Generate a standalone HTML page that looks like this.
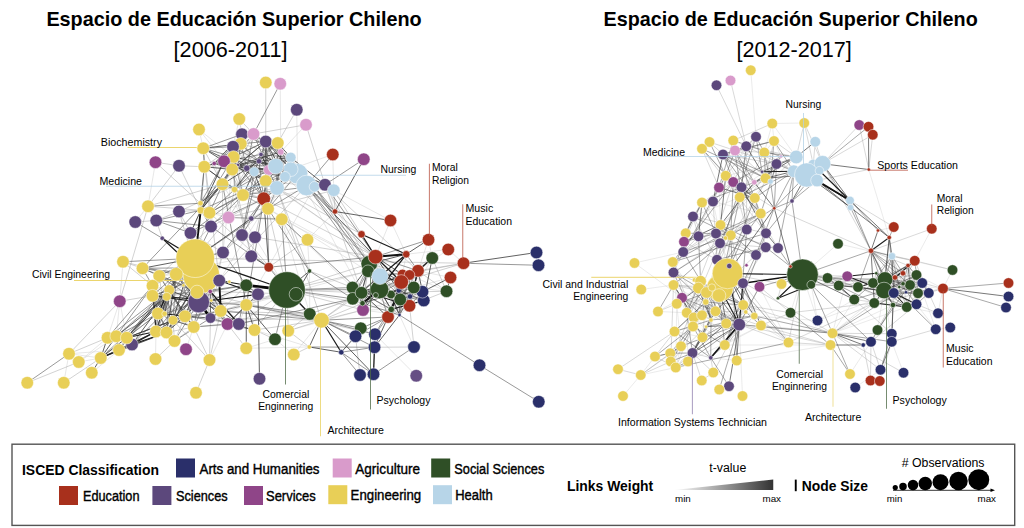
<!DOCTYPE html>
<html lang="es"><head><meta charset="utf-8"><title>Espacio de Educación Superior Chileno</title>
<style>
html,body{margin:0;padding:0;background:#fff;}
body{width:1024px;height:528px;overflow:hidden;font-family:"Liberation Sans",sans-serif;}
svg{display:block;}
svg text{font-family:"Liberation Sans",sans-serif;fill:#000;}
.nodes circle{stroke:#fff;stroke-width:0.5;}
.edges line{stroke-linecap:round;}
</style></head><body>
<svg width="1024" height="528" viewBox="0 0 1024 528">
<rect width="1024" height="528" fill="#fff"/>
<g class="edges" id="edges-left">
<line x1="63.75" y1="382.75" x2="69" y2="353.75" stroke="#cacaca" stroke-width="0.45"/>
<line x1="91.75" y1="372.75" x2="119" y2="350" stroke="#cacaca" stroke-width="0.45"/>
<line x1="69" y1="353.75" x2="100.75" y2="358" stroke="#cacaca" stroke-width="0.45"/>
<line x1="69" y1="353.75" x2="119" y2="350" stroke="#cacaca" stroke-width="0.45"/>
<line x1="78.75" y1="362" x2="100.75" y2="358" stroke="#cacaca" stroke-width="0.45"/>
<line x1="78.75" y1="362" x2="107.5" y2="337.75" stroke="#cacaca" stroke-width="0.45"/>
<line x1="78.75" y1="362" x2="116.25" y2="336.25" stroke="#cacaca" stroke-width="0.45"/>
<line x1="119.75" y1="301.25" x2="116.25" y2="336.25" stroke="#cacaca" stroke-width="0.45"/>
<line x1="119.75" y1="301.25" x2="126.75" y2="337.75" stroke="#cacaca" stroke-width="0.45"/>
<line x1="119.75" y1="301.25" x2="107.5" y2="337.75" stroke="#cacaca" stroke-width="0.45"/>
<line x1="119.75" y1="301.25" x2="123" y2="261.75" stroke="#cacaca" stroke-width="0.45"/>
<line x1="155.5" y1="359" x2="156" y2="331.5" stroke="#cacaca" stroke-width="0.45"/>
<line x1="186" y1="349.25" x2="193.75" y2="327" stroke="#cacaca" stroke-width="0.45"/>
<line x1="209.5" y1="360" x2="227.5" y2="324" stroke="#cacaca" stroke-width="0.45"/>
<line x1="246.25" y1="348.25" x2="309.25" y2="347" stroke="#cacaca" stroke-width="0.45"/>
<line x1="280.25" y1="83.75" x2="280.75" y2="152" stroke="#cacaca" stroke-width="0.45"/>
<line x1="296.75" y1="109.75" x2="297.5" y2="173.75" stroke="#cacaca" stroke-width="0.45"/>
<line x1="306" y1="124.75" x2="280.75" y2="152" stroke="#cacaca" stroke-width="0.45"/>
<line x1="239.25" y1="119" x2="233" y2="146.75" stroke="#cacaca" stroke-width="0.45"/>
<line x1="199" y1="129.5" x2="203.25" y2="148.25" stroke="#cacaca" stroke-width="0.45"/>
<line x1="199" y1="129.5" x2="224" y2="161.25" stroke="#cacaca" stroke-width="0.45"/>
<line x1="199" y1="129.5" x2="233.5" y2="157" stroke="#cacaca" stroke-width="0.45"/>
<line x1="155.5" y1="162.25" x2="148" y2="206.25" stroke="#cacaca" stroke-width="0.45"/>
<line x1="148" y1="206.25" x2="156.25" y2="220.5" stroke="#cacaca" stroke-width="0.45"/>
<line x1="148" y1="206.25" x2="135.25" y2="222" stroke="#cacaca" stroke-width="0.45"/>
<line x1="332.75" y1="154.5" x2="333.75" y2="190.25" stroke="#cacaca" stroke-width="0.45"/>
<line x1="332.75" y1="154.5" x2="290.75" y2="169.25" stroke="#cacaca" stroke-width="0.45"/>
<line x1="390.5" y1="220.5" x2="406.25" y2="254.25" stroke="#cacaca" stroke-width="0.45"/>
<line x1="390.5" y1="220.5" x2="375.5" y2="256.75" stroke="#cacaca" stroke-width="0.45"/>
<line x1="333.75" y1="190.25" x2="390.5" y2="220.5" stroke="#cacaca" stroke-width="0.45"/>
<line x1="325" y1="184.75" x2="335" y2="211.5" stroke="#cacaca" stroke-width="0.45"/>
<line x1="307.5" y1="239.75" x2="335" y2="211.5" stroke="#cacaca" stroke-width="0.45"/>
<line x1="463.5" y1="263.25" x2="448.25" y2="249.5" stroke="#cacaca" stroke-width="0.45"/>
<line x1="428.5" y1="239.75" x2="432.25" y2="258" stroke="#cacaca" stroke-width="0.45"/>
<line x1="428.5" y1="239.75" x2="418" y2="270.75" stroke="#cacaca" stroke-width="0.45"/>
<line x1="448.25" y1="249.5" x2="418" y2="270.75" stroke="#cacaca" stroke-width="0.45"/>
<line x1="448.25" y1="249.5" x2="406.25" y2="254.25" stroke="#cacaca" stroke-width="0.45"/>
<line x1="450.5" y1="277.5" x2="418" y2="270.75" stroke="#cacaca" stroke-width="0.45"/>
<line x1="450.5" y1="277.5" x2="413.75" y2="287.5" stroke="#cacaca" stroke-width="0.45"/>
<line x1="446.5" y1="291.25" x2="413.75" y2="287.5" stroke="#cacaca" stroke-width="0.45"/>
<line x1="309.5" y1="271" x2="309.75" y2="314" stroke="#cacaca" stroke-width="0.45"/>
<line x1="307.5" y1="239.75" x2="309.5" y2="271" stroke="#cacaca" stroke-width="0.45"/>
<line x1="399.5" y1="315" x2="414" y2="347" stroke="#cacaca" stroke-width="0.45"/>
<line x1="375" y1="334.25" x2="416.25" y2="375.75" stroke="#cacaca" stroke-width="0.45"/>
<line x1="254.5" y1="330" x2="309.25" y2="347" stroke="#cacaca" stroke-width="0.45"/>
<line x1="242" y1="134.25" x2="265.75" y2="141.5" stroke="#cacaca" stroke-width="0.45"/>
<line x1="242" y1="134.25" x2="261" y2="154.5" stroke="#cacaca" stroke-width="0.45"/>
<line x1="242" y1="134.25" x2="233.5" y2="157" stroke="#cacaca" stroke-width="0.45"/>
<line x1="253.5" y1="134" x2="265.75" y2="141.5" stroke="#cacaca" stroke-width="0.45"/>
<line x1="265.75" y1="141.5" x2="261" y2="154.5" stroke="#cacaca" stroke-width="0.45"/>
<line x1="277.75" y1="143" x2="275.75" y2="166.25" stroke="#cacaca" stroke-width="0.45"/>
<line x1="233" y1="146.75" x2="268.75" y2="170" stroke="#cacaca" stroke-width="0.45"/>
<line x1="233" y1="146.75" x2="238" y2="165" stroke="#cacaca" stroke-width="0.45"/>
<line x1="233" y1="146.75" x2="254.25" y2="171.75" stroke="#cacaca" stroke-width="0.45"/>
<line x1="233" y1="146.75" x2="265.75" y2="181" stroke="#cacaca" stroke-width="0.45"/>
<line x1="280.75" y1="152" x2="290.75" y2="157.5" stroke="#cacaca" stroke-width="0.45"/>
<line x1="280.75" y1="152" x2="254.25" y2="171.75" stroke="#cacaca" stroke-width="0.45"/>
<line x1="280.75" y1="152" x2="306.5" y2="185.5" stroke="#cacaca" stroke-width="0.45"/>
<line x1="261" y1="154.5" x2="243" y2="195" stroke="#cacaca" stroke-width="0.45"/>
<line x1="214.25" y1="163.5" x2="222.5" y2="184.25" stroke="#cacaca" stroke-width="0.45"/>
<line x1="290.75" y1="157.5" x2="246.75" y2="168.25" stroke="#cacaca" stroke-width="0.45"/>
<line x1="290.75" y1="169.25" x2="254.25" y2="171.75" stroke="#cacaca" stroke-width="0.45"/>
<line x1="297.5" y1="173.75" x2="277" y2="188" stroke="#cacaca" stroke-width="0.45"/>
<line x1="285" y1="176.75" x2="268" y2="208.75" stroke="#cacaca" stroke-width="0.45"/>
<line x1="285" y1="176.75" x2="314.5" y2="186.75" stroke="#cacaca" stroke-width="0.45"/>
<line x1="268.75" y1="170" x2="306.5" y2="185.5" stroke="#cacaca" stroke-width="0.45"/>
<line x1="246.75" y1="168.25" x2="254.25" y2="171.75" stroke="#cacaca" stroke-width="0.45"/>
<line x1="246.75" y1="168.25" x2="232.25" y2="169.5" stroke="#cacaca" stroke-width="0.45"/>
<line x1="238" y1="165" x2="232.25" y2="169.5" stroke="#cacaca" stroke-width="0.45"/>
<line x1="254.25" y1="171.75" x2="265.75" y2="181" stroke="#cacaca" stroke-width="0.45"/>
<line x1="306.5" y1="185.5" x2="325" y2="184.75" stroke="#cacaca" stroke-width="0.45"/>
<line x1="201.25" y1="275" x2="183.5" y2="285.25" stroke="#cacaca" stroke-width="0.45"/>
<line x1="201.25" y1="275" x2="210.5" y2="318" stroke="#cacaca" stroke-width="0.45"/>
<line x1="176.25" y1="274.25" x2="159.25" y2="276" stroke="#cacaca" stroke-width="0.45"/>
<line x1="176.25" y1="274.25" x2="190.5" y2="233" stroke="#cacaca" stroke-width="0.45"/>
<line x1="152.5" y1="285.75" x2="169.25" y2="290" stroke="#cacaca" stroke-width="0.45"/>
<line x1="152.5" y1="285.75" x2="198.75" y2="302" stroke="#cacaca" stroke-width="0.45"/>
<line x1="169.25" y1="290" x2="211.25" y2="300.5" stroke="#cacaca" stroke-width="0.45"/>
<line x1="152.5" y1="295.75" x2="183.5" y2="285.25" stroke="#cacaca" stroke-width="0.45"/>
<line x1="166.75" y1="296.75" x2="198.75" y2="302" stroke="#cacaca" stroke-width="0.45"/>
<line x1="166.75" y1="296.75" x2="185" y2="316.25" stroke="#cacaca" stroke-width="0.45"/>
<line x1="197" y1="292" x2="158" y2="313.5" stroke="#cacaca" stroke-width="0.45"/>
<line x1="198.75" y1="302" x2="227.5" y2="324" stroke="#cacaca" stroke-width="0.45"/>
<line x1="219.25" y1="280.5" x2="183.5" y2="285.25" stroke="#cacaca" stroke-width="0.45"/>
<line x1="210.25" y1="291.5" x2="185" y2="316.25" stroke="#cacaca" stroke-width="0.45"/>
<line x1="210.25" y1="291.5" x2="227.5" y2="324" stroke="#cacaca" stroke-width="0.45"/>
<line x1="210.25" y1="291.5" x2="223" y2="252.5" stroke="#cacaca" stroke-width="0.45"/>
<line x1="183.5" y1="285.25" x2="185" y2="316.25" stroke="#cacaca" stroke-width="0.45"/>
<line x1="164.5" y1="313.75" x2="173" y2="320.25" stroke="#cacaca" stroke-width="0.45"/>
<line x1="164.5" y1="313.75" x2="174.5" y2="341" stroke="#cacaca" stroke-width="0.45"/>
<line x1="210.5" y1="318" x2="227.5" y2="324" stroke="#cacaca" stroke-width="0.45"/>
<line x1="210.5" y1="318" x2="246.25" y2="305" stroke="#cacaca" stroke-width="0.45"/>
<line x1="156" y1="331.5" x2="166.5" y2="332.5" stroke="#cacaca" stroke-width="0.45"/>
<line x1="238.75" y1="324" x2="246.25" y2="305" stroke="#cacaca" stroke-width="0.45"/>
<line x1="246.25" y1="285.25" x2="254.5" y2="330" stroke="#cacaca" stroke-width="0.45"/>
<line x1="368" y1="271.25" x2="409.5" y2="275" stroke="#cacaca" stroke-width="0.45"/>
<line x1="368" y1="271.25" x2="401.25" y2="282" stroke="#cacaca" stroke-width="0.45"/>
<line x1="368" y1="271.25" x2="398.75" y2="290.5" stroke="#cacaca" stroke-width="0.45"/>
<line x1="368" y1="271.25" x2="362.5" y2="303.2" stroke="#cacaca" stroke-width="0.45"/>
<line x1="402.5" y1="274.5" x2="375.75" y2="295.25" stroke="#cacaca" stroke-width="0.45"/>
<line x1="402.5" y1="274.5" x2="409.5" y2="305.75" stroke="#cacaca" stroke-width="0.45"/>
<line x1="402.5" y1="274.5" x2="423.75" y2="300.5" stroke="#cacaca" stroke-width="0.45"/>
<line x1="402.5" y1="274.5" x2="406.25" y2="254.25" stroke="#cacaca" stroke-width="0.45"/>
<line x1="409.5" y1="275" x2="413.75" y2="287.5" stroke="#cacaca" stroke-width="0.45"/>
<line x1="409.5" y1="275" x2="398.75" y2="290.5" stroke="#cacaca" stroke-width="0.45"/>
<line x1="409.5" y1="275" x2="422.5" y2="291.75" stroke="#cacaca" stroke-width="0.45"/>
<line x1="409.5" y1="275" x2="423.75" y2="300.5" stroke="#cacaca" stroke-width="0.45"/>
<line x1="409.5" y1="275" x2="432.25" y2="258" stroke="#cacaca" stroke-width="0.45"/>
<line x1="409.5" y1="275" x2="446.5" y2="291.25" stroke="#cacaca" stroke-width="0.45"/>
<line x1="401.25" y1="282" x2="410" y2="296.5" stroke="#cacaca" stroke-width="0.45"/>
<line x1="401.25" y1="282" x2="432.25" y2="258" stroke="#cacaca" stroke-width="0.45"/>
<line x1="352.75" y1="298.75" x2="361.5" y2="292.75" stroke="#cacaca" stroke-width="0.45"/>
<line x1="352.75" y1="298.75" x2="363" y2="310" stroke="#cacaca" stroke-width="0.45"/>
<line x1="352.75" y1="298.75" x2="391.25" y2="309.4" stroke="#cacaca" stroke-width="0.45"/>
<line x1="361.5" y1="292.75" x2="400.25" y2="299.5" stroke="#cacaca" stroke-width="0.45"/>
<line x1="379.5" y1="289.5" x2="400.25" y2="299.5" stroke="#cacaca" stroke-width="0.45"/>
<line x1="398.75" y1="290.5" x2="391" y2="294.5" stroke="#cacaca" stroke-width="0.45"/>
<line x1="409.5" y1="305.75" x2="423.75" y2="300.5" stroke="#cacaca" stroke-width="0.45"/>
<line x1="409.5" y1="305.75" x2="399.5" y2="315" stroke="#cacaca" stroke-width="0.45"/>
<line x1="410" y1="296.5" x2="432.25" y2="258" stroke="#cacaca" stroke-width="0.45"/>
<line x1="422.5" y1="291.75" x2="388" y2="317" stroke="#cacaca" stroke-width="0.45"/>
<line x1="422.5" y1="291.75" x2="391.25" y2="309.4" stroke="#cacaca" stroke-width="0.45"/>
<line x1="388" y1="317" x2="391.25" y2="309.4" stroke="#cacaca" stroke-width="0.45"/>
<line x1="363" y1="310" x2="391.25" y2="309.4" stroke="#cacaca" stroke-width="0.45"/>
<line x1="363" y1="310" x2="399.5" y2="315" stroke="#cacaca" stroke-width="0.45"/>
<line x1="228.5" y1="217.5" x2="209.5" y2="212.75" stroke="#cacaca" stroke-width="0.45"/>
<line x1="281.75" y1="219.25" x2="309.75" y2="314" stroke="#cacaca" stroke-width="0.45"/>
<line x1="268" y1="208.75" x2="369.25" y2="263.75" stroke="#cacaca" stroke-width="0.45"/>
<line x1="281.75" y1="219.25" x2="369.25" y2="263.75" stroke="#cacaca" stroke-width="0.45"/>
<line x1="265.75" y1="181" x2="375.5" y2="256.75" stroke="#cacaca" stroke-width="0.45"/>
<line x1="246.25" y1="348.25" x2="275" y2="339.25" stroke="#cacaca" stroke-width="0.45"/>
<line x1="293.75" y1="354.5" x2="321.5" y2="320.25" stroke="#cacaca" stroke-width="0.45"/>
<line x1="293.75" y1="354.5" x2="275" y2="339.25" stroke="#cacaca" stroke-width="0.45"/>
<line x1="233" y1="146.75" x2="333.75" y2="190.25" stroke="#cacaca" stroke-width="0.45"/>
<line x1="233.5" y1="157" x2="223" y2="252.5" stroke="#cacaca" stroke-width="0.45"/>
<line x1="297.5" y1="173.75" x2="223" y2="252.5" stroke="#cacaca" stroke-width="0.45"/>
<line x1="297.5" y1="173.75" x2="361.5" y2="292.75" stroke="#cacaca" stroke-width="0.45"/>
<line x1="222.5" y1="184.25" x2="287" y2="290" stroke="#cacaca" stroke-width="0.45"/>
<line x1="314.5" y1="186.75" x2="246.25" y2="305" stroke="#cacaca" stroke-width="0.45"/>
<line x1="314.5" y1="186.75" x2="368" y2="271.25" stroke="#cacaca" stroke-width="0.45"/>
<line x1="325" y1="184.75" x2="209.5" y2="212.75" stroke="#cacaca" stroke-width="0.45"/>
<line x1="325" y1="184.75" x2="368" y2="271.25" stroke="#cacaca" stroke-width="0.45"/>
<line x1="277" y1="188" x2="219.25" y2="280.5" stroke="#cacaca" stroke-width="0.45"/>
<line x1="268" y1="208.75" x2="368" y2="271.25" stroke="#cacaca" stroke-width="0.45"/>
<line x1="281.75" y1="219.25" x2="209.5" y2="212.75" stroke="#cacaca" stroke-width="0.45"/>
<line x1="281.75" y1="219.25" x2="352.5" y2="287.5" stroke="#cacaca" stroke-width="0.45"/>
<line x1="251.25" y1="256.25" x2="159.25" y2="276" stroke="#cacaca" stroke-width="0.45"/>
<line x1="152.5" y1="285.75" x2="210.5" y2="318" stroke="#cacaca" stroke-width="0.45"/>
<line x1="166.75" y1="296.75" x2="246.25" y2="285.25" stroke="#cacaca" stroke-width="0.45"/>
<line x1="197" y1="292" x2="254.5" y2="330" stroke="#cacaca" stroke-width="0.45"/>
<line x1="246.25" y1="285.25" x2="185" y2="316.25" stroke="#cacaca" stroke-width="0.45"/>
<line x1="246.25" y1="305" x2="368" y2="271.25" stroke="#cacaca" stroke-width="0.45"/>
<line x1="309.75" y1="314" x2="379.5" y2="289.5" stroke="#cacaca" stroke-width="0.45"/>
<line x1="288.25" y1="330.75" x2="400.25" y2="299.5" stroke="#cacaca" stroke-width="0.45"/>
<line x1="27.25" y1="382.75" x2="78.75" y2="362" stroke="#a4a4a4" stroke-width="0.5"/>
<line x1="63.75" y1="382.75" x2="100.75" y2="358" stroke="#a4a4a4" stroke-width="0.5"/>
<line x1="69" y1="353.75" x2="119.75" y2="301.25" stroke="#a4a4a4" stroke-width="0.5"/>
<line x1="69" y1="353.75" x2="107.5" y2="337.75" stroke="#a4a4a4" stroke-width="0.5"/>
<line x1="119.75" y1="301.25" x2="152.5" y2="295.75" stroke="#a4a4a4" stroke-width="0.5"/>
<line x1="155.5" y1="359" x2="174.5" y2="341" stroke="#a4a4a4" stroke-width="0.5"/>
<line x1="174.5" y1="341" x2="193.75" y2="327" stroke="#a4a4a4" stroke-width="0.5"/>
<line x1="209.5" y1="360" x2="173" y2="320.25" stroke="#a4a4a4" stroke-width="0.5"/>
<line x1="209.5" y1="360" x2="210.5" y2="318" stroke="#a4a4a4" stroke-width="0.5"/>
<line x1="209.5" y1="360" x2="220.75" y2="311" stroke="#a4a4a4" stroke-width="0.5"/>
<line x1="196" y1="392.75" x2="209.5" y2="360" stroke="#a4a4a4" stroke-width="0.5"/>
<line x1="193.75" y1="327" x2="238.75" y2="324" stroke="#a4a4a4" stroke-width="0.5"/>
<line x1="246.25" y1="348.25" x2="227.5" y2="324" stroke="#a4a4a4" stroke-width="0.5"/>
<line x1="288.25" y1="330.75" x2="321.5" y2="320.25" stroke="#a4a4a4" stroke-width="0.5"/>
<line x1="288.25" y1="330.75" x2="309.25" y2="347" stroke="#a4a4a4" stroke-width="0.5"/>
<line x1="293.75" y1="354.5" x2="309.25" y2="347" stroke="#a4a4a4" stroke-width="0.5"/>
<line x1="100.75" y1="358" x2="158" y2="313.5" stroke="#a4a4a4" stroke-width="0.5"/>
<line x1="123" y1="261.75" x2="142.5" y2="268.25" stroke="#a4a4a4" stroke-width="0.5"/>
<line x1="123" y1="261.75" x2="152.5" y2="285.75" stroke="#a4a4a4" stroke-width="0.5"/>
<line x1="265.75" y1="82.5" x2="265.75" y2="141.5" stroke="#a4a4a4" stroke-width="0.5"/>
<line x1="296.75" y1="109.75" x2="277.75" y2="143" stroke="#a4a4a4" stroke-width="0.5"/>
<line x1="253.5" y1="134" x2="306" y2="124.75" stroke="#a4a4a4" stroke-width="0.5"/>
<line x1="239.25" y1="119" x2="242" y2="134.25" stroke="#a4a4a4" stroke-width="0.5"/>
<line x1="239.25" y1="119" x2="253.5" y2="134" stroke="#a4a4a4" stroke-width="0.5"/>
<line x1="155.5" y1="162.25" x2="179" y2="165.75" stroke="#a4a4a4" stroke-width="0.5"/>
<line x1="179" y1="165.75" x2="204.25" y2="166.75" stroke="#a4a4a4" stroke-width="0.5"/>
<line x1="155.5" y1="162.25" x2="200.5" y2="203.25" stroke="#a4a4a4" stroke-width="0.5"/>
<line x1="179" y1="165.75" x2="148" y2="206.25" stroke="#a4a4a4" stroke-width="0.5"/>
<line x1="179" y1="165.75" x2="200.75" y2="210.25" stroke="#a4a4a4" stroke-width="0.5"/>
<line x1="148" y1="206.25" x2="222.5" y2="184.25" stroke="#a4a4a4" stroke-width="0.5"/>
<line x1="148" y1="206.25" x2="200.75" y2="210.25" stroke="#a4a4a4" stroke-width="0.5"/>
<line x1="179" y1="211.5" x2="200.75" y2="210.25" stroke="#a4a4a4" stroke-width="0.5"/>
<line x1="179" y1="211.5" x2="156.25" y2="220.5" stroke="#a4a4a4" stroke-width="0.5"/>
<line x1="228.5" y1="217.5" x2="243" y2="195" stroke="#a4a4a4" stroke-width="0.5"/>
<line x1="306" y1="124.75" x2="325" y2="184.75" stroke="#a4a4a4" stroke-width="0.5"/>
<line x1="277" y1="188" x2="321.5" y2="320.25" stroke="#a4a4a4" stroke-width="0.5"/>
<line x1="263.75" y1="198.75" x2="375.5" y2="256.75" stroke="#a4a4a4" stroke-width="0.5"/>
<line x1="463.5" y1="263.25" x2="418" y2="270.75" stroke="#a4a4a4" stroke-width="0.5"/>
<line x1="463.5" y1="263.25" x2="401.25" y2="282" stroke="#a4a4a4" stroke-width="0.5"/>
<line x1="463.5" y1="263.25" x2="402.5" y2="274.5" stroke="#a4a4a4" stroke-width="0.5"/>
<line x1="463.5" y1="263.25" x2="195.25" y2="258.25" stroke="#a4a4a4" stroke-width="0.5"/>
<line x1="446.5" y1="291.25" x2="418" y2="270.75" stroke="#a4a4a4" stroke-width="0.5"/>
<line x1="422.5" y1="291.75" x2="446.5" y2="291.25" stroke="#a4a4a4" stroke-width="0.5"/>
<line x1="309.5" y1="271" x2="352.5" y2="287.5" stroke="#a4a4a4" stroke-width="0.5"/>
<line x1="287" y1="290" x2="361.5" y2="292.75" stroke="#a4a4a4" stroke-width="0.5"/>
<line x1="287" y1="290" x2="368" y2="271.25" stroke="#a4a4a4" stroke-width="0.5"/>
<line x1="287" y1="290" x2="369.25" y2="263.75" stroke="#a4a4a4" stroke-width="0.5"/>
<line x1="287" y1="290" x2="362.5" y2="303.2" stroke="#a4a4a4" stroke-width="0.5"/>
<line x1="287" y1="290" x2="363" y2="310" stroke="#a4a4a4" stroke-width="0.5"/>
<line x1="277" y1="188" x2="309.5" y2="271" stroke="#a4a4a4" stroke-width="0.5"/>
<line x1="409.5" y1="305.75" x2="414" y2="347" stroke="#a4a4a4" stroke-width="0.5"/>
<line x1="414" y1="347" x2="374.5" y2="347.25" stroke="#a4a4a4" stroke-width="0.5"/>
<line x1="309.75" y1="314" x2="352.75" y2="298.75" stroke="#a4a4a4" stroke-width="0.5"/>
<line x1="321.5" y1="320.25" x2="352.75" y2="298.75" stroke="#a4a4a4" stroke-width="0.5"/>
<line x1="321.5" y1="320.25" x2="363" y2="310" stroke="#a4a4a4" stroke-width="0.5"/>
<line x1="321.5" y1="320.25" x2="362.5" y2="303.2" stroke="#a4a4a4" stroke-width="0.5"/>
<line x1="254.5" y1="330" x2="321.5" y2="320.25" stroke="#a4a4a4" stroke-width="0.5"/>
<line x1="288.25" y1="330.75" x2="287" y2="290" stroke="#a4a4a4" stroke-width="0.5"/>
<line x1="360" y1="375" x2="355.5" y2="336.25" stroke="#a4a4a4" stroke-width="0.5"/>
<line x1="373.5" y1="374.25" x2="375" y2="334.25" stroke="#a4a4a4" stroke-width="0.5"/>
<line x1="179" y1="211.5" x2="190.5" y2="233" stroke="#a4a4a4" stroke-width="0.5"/>
<line x1="123" y1="261.75" x2="176.25" y2="274.25" stroke="#a4a4a4" stroke-width="0.5"/>
<line x1="242" y1="235" x2="223" y2="252.5" stroke="#a4a4a4" stroke-width="0.5"/>
<line x1="255" y1="237.25" x2="251.25" y2="256.25" stroke="#a4a4a4" stroke-width="0.5"/>
<line x1="228.5" y1="217.5" x2="234.5" y2="189.5" stroke="#a4a4a4" stroke-width="0.5"/>
<line x1="156.25" y1="220.5" x2="162.25" y2="238.25" stroke="#a4a4a4" stroke-width="0.5"/>
<line x1="135.25" y1="222" x2="156.25" y2="220.5" stroke="#a4a4a4" stroke-width="0.5"/>
<line x1="242" y1="134.25" x2="253.5" y2="134" stroke="#a4a4a4" stroke-width="0.5"/>
<line x1="242" y1="134.25" x2="254.25" y2="171.75" stroke="#a4a4a4" stroke-width="0.5"/>
<line x1="253.5" y1="134" x2="238" y2="165" stroke="#a4a4a4" stroke-width="0.5"/>
<line x1="265.75" y1="141.5" x2="254.25" y2="171.75" stroke="#a4a4a4" stroke-width="0.5"/>
<line x1="277.75" y1="143" x2="290.75" y2="169.25" stroke="#a4a4a4" stroke-width="0.5"/>
<line x1="277.75" y1="143" x2="297.5" y2="173.75" stroke="#a4a4a4" stroke-width="0.5"/>
<line x1="277.75" y1="143" x2="268.75" y2="170" stroke="#a4a4a4" stroke-width="0.5"/>
<line x1="277.75" y1="143" x2="238" y2="165" stroke="#a4a4a4" stroke-width="0.5"/>
<line x1="240.75" y1="143.75" x2="233.5" y2="157" stroke="#a4a4a4" stroke-width="0.5"/>
<line x1="240.75" y1="143.75" x2="224" y2="161.25" stroke="#a4a4a4" stroke-width="0.5"/>
<line x1="240.75" y1="143.75" x2="268.75" y2="170" stroke="#a4a4a4" stroke-width="0.5"/>
<line x1="233" y1="146.75" x2="204.25" y2="166.75" stroke="#a4a4a4" stroke-width="0.5"/>
<line x1="280.75" y1="152" x2="261" y2="154.5" stroke="#a4a4a4" stroke-width="0.5"/>
<line x1="280.75" y1="152" x2="285" y2="176.75" stroke="#a4a4a4" stroke-width="0.5"/>
<line x1="261" y1="154.5" x2="290.75" y2="169.25" stroke="#a4a4a4" stroke-width="0.5"/>
<line x1="261" y1="154.5" x2="254.25" y2="171.75" stroke="#a4a4a4" stroke-width="0.5"/>
<line x1="233.5" y1="157" x2="224" y2="161.25" stroke="#a4a4a4" stroke-width="0.5"/>
<line x1="233.5" y1="157" x2="238" y2="165" stroke="#a4a4a4" stroke-width="0.5"/>
<line x1="233.5" y1="157" x2="232.25" y2="169.5" stroke="#a4a4a4" stroke-width="0.5"/>
<line x1="224" y1="161.25" x2="268.75" y2="170" stroke="#a4a4a4" stroke-width="0.5"/>
<line x1="224" y1="161.25" x2="243" y2="195" stroke="#a4a4a4" stroke-width="0.5"/>
<line x1="259" y1="161.25" x2="290.75" y2="169.25" stroke="#a4a4a4" stroke-width="0.5"/>
<line x1="259" y1="161.25" x2="246.75" y2="168.25" stroke="#a4a4a4" stroke-width="0.5"/>
<line x1="290.75" y1="157.5" x2="285" y2="176.75" stroke="#a4a4a4" stroke-width="0.5"/>
<line x1="290.75" y1="157.5" x2="314.5" y2="186.75" stroke="#a4a4a4" stroke-width="0.5"/>
<line x1="275.75" y1="166.25" x2="265.75" y2="181" stroke="#a4a4a4" stroke-width="0.5"/>
<line x1="275.75" y1="166.25" x2="243" y2="195" stroke="#a4a4a4" stroke-width="0.5"/>
<line x1="290.75" y1="169.25" x2="277" y2="188" stroke="#a4a4a4" stroke-width="0.5"/>
<line x1="290.75" y1="169.25" x2="263.75" y2="198.75" stroke="#a4a4a4" stroke-width="0.5"/>
<line x1="297.5" y1="173.75" x2="268.75" y2="170" stroke="#a4a4a4" stroke-width="0.5"/>
<line x1="285" y1="176.75" x2="263.75" y2="198.75" stroke="#a4a4a4" stroke-width="0.5"/>
<line x1="285" y1="176.75" x2="325" y2="184.75" stroke="#a4a4a4" stroke-width="0.5"/>
<line x1="246.75" y1="168.25" x2="234.5" y2="189.5" stroke="#a4a4a4" stroke-width="0.5"/>
<line x1="246.75" y1="168.25" x2="204.25" y2="166.75" stroke="#a4a4a4" stroke-width="0.5"/>
<line x1="238" y1="165" x2="222.5" y2="184.25" stroke="#a4a4a4" stroke-width="0.5"/>
<line x1="238" y1="165" x2="277" y2="188" stroke="#a4a4a4" stroke-width="0.5"/>
<line x1="238" y1="165" x2="243" y2="195" stroke="#a4a4a4" stroke-width="0.5"/>
<line x1="254.25" y1="171.75" x2="232.25" y2="169.5" stroke="#a4a4a4" stroke-width="0.5"/>
<line x1="232.25" y1="169.5" x2="243" y2="195" stroke="#a4a4a4" stroke-width="0.5"/>
<line x1="265.75" y1="181" x2="306.5" y2="185.5" stroke="#a4a4a4" stroke-width="0.5"/>
<line x1="222.5" y1="184.25" x2="203.25" y2="148.25" stroke="#a4a4a4" stroke-width="0.5"/>
<line x1="277" y1="188" x2="243" y2="195" stroke="#a4a4a4" stroke-width="0.5"/>
<line x1="234.5" y1="189.5" x2="243" y2="195" stroke="#a4a4a4" stroke-width="0.5"/>
<line x1="234.5" y1="189.5" x2="263.75" y2="198.75" stroke="#a4a4a4" stroke-width="0.5"/>
<line x1="234.5" y1="189.5" x2="268" y2="208.75" stroke="#a4a4a4" stroke-width="0.5"/>
<line x1="243" y1="195" x2="268" y2="208.75" stroke="#a4a4a4" stroke-width="0.5"/>
<line x1="195.25" y1="258.25" x2="197" y2="292" stroke="#a4a4a4" stroke-width="0.5"/>
<line x1="176.25" y1="274.25" x2="210.25" y2="291.5" stroke="#a4a4a4" stroke-width="0.5"/>
<line x1="159.25" y1="276" x2="169.25" y2="290" stroke="#a4a4a4" stroke-width="0.5"/>
<line x1="159.25" y1="276" x2="183.5" y2="285.25" stroke="#a4a4a4" stroke-width="0.5"/>
<line x1="159.25" y1="276" x2="164.5" y2="313.75" stroke="#a4a4a4" stroke-width="0.5"/>
<line x1="152.5" y1="285.75" x2="185" y2="316.25" stroke="#a4a4a4" stroke-width="0.5"/>
<line x1="169.25" y1="290" x2="173" y2="320.25" stroke="#a4a4a4" stroke-width="0.5"/>
<line x1="166.75" y1="296.75" x2="183.5" y2="285.25" stroke="#a4a4a4" stroke-width="0.5"/>
<line x1="197" y1="292" x2="210.5" y2="318" stroke="#a4a4a4" stroke-width="0.5"/>
<line x1="198.75" y1="302" x2="219.25" y2="280.5" stroke="#a4a4a4" stroke-width="0.5"/>
<line x1="198.75" y1="302" x2="158" y2="313.5" stroke="#a4a4a4" stroke-width="0.5"/>
<line x1="219.25" y1="280.5" x2="211.25" y2="300.5" stroke="#a4a4a4" stroke-width="0.5"/>
<line x1="210.25" y1="291.5" x2="211.25" y2="300.5" stroke="#a4a4a4" stroke-width="0.5"/>
<line x1="211.25" y1="300.5" x2="183.5" y2="285.25" stroke="#a4a4a4" stroke-width="0.5"/>
<line x1="211.25" y1="300.5" x2="246.25" y2="305" stroke="#a4a4a4" stroke-width="0.5"/>
<line x1="211.25" y1="300.5" x2="223" y2="252.5" stroke="#a4a4a4" stroke-width="0.5"/>
<line x1="183.5" y1="285.25" x2="220.75" y2="311" stroke="#a4a4a4" stroke-width="0.5"/>
<line x1="164.5" y1="313.75" x2="193.75" y2="327" stroke="#a4a4a4" stroke-width="0.5"/>
<line x1="173" y1="320.25" x2="174.5" y2="341" stroke="#a4a4a4" stroke-width="0.5"/>
<line x1="185" y1="316.25" x2="174.5" y2="341" stroke="#a4a4a4" stroke-width="0.5"/>
<line x1="220.75" y1="311" x2="246.25" y2="285.25" stroke="#a4a4a4" stroke-width="0.5"/>
<line x1="193.75" y1="327" x2="166.5" y2="332.5" stroke="#a4a4a4" stroke-width="0.5"/>
<line x1="156" y1="331.5" x2="174.5" y2="341" stroke="#a4a4a4" stroke-width="0.5"/>
<line x1="223" y1="252.5" x2="190.5" y2="233" stroke="#a4a4a4" stroke-width="0.5"/>
<line x1="375.5" y1="256.75" x2="380" y2="276.25" stroke="#a4a4a4" stroke-width="0.5"/>
<line x1="375.5" y1="256.75" x2="391" y2="294.5" stroke="#a4a4a4" stroke-width="0.5"/>
<line x1="369.25" y1="263.75" x2="409.5" y2="275" stroke="#a4a4a4" stroke-width="0.5"/>
<line x1="369.25" y1="263.75" x2="362.5" y2="303.2" stroke="#a4a4a4" stroke-width="0.5"/>
<line x1="368" y1="271.25" x2="402.5" y2="274.5" stroke="#a4a4a4" stroke-width="0.5"/>
<line x1="380" y1="276.25" x2="413.75" y2="287.5" stroke="#a4a4a4" stroke-width="0.5"/>
<line x1="380" y1="276.25" x2="375.75" y2="295.25" stroke="#a4a4a4" stroke-width="0.5"/>
<line x1="380" y1="276.25" x2="398.75" y2="290.5" stroke="#a4a4a4" stroke-width="0.5"/>
<line x1="380" y1="276.25" x2="410" y2="296.5" stroke="#a4a4a4" stroke-width="0.5"/>
<line x1="418" y1="270.75" x2="401.25" y2="282" stroke="#a4a4a4" stroke-width="0.5"/>
<line x1="402.5" y1="274.5" x2="413.75" y2="287.5" stroke="#a4a4a4" stroke-width="0.5"/>
<line x1="402.5" y1="274.5" x2="391" y2="294.5" stroke="#a4a4a4" stroke-width="0.5"/>
<line x1="402.5" y1="274.5" x2="400.25" y2="299.5" stroke="#a4a4a4" stroke-width="0.5"/>
<line x1="402.5" y1="274.5" x2="432.25" y2="258" stroke="#a4a4a4" stroke-width="0.5"/>
<line x1="409.5" y1="275" x2="401.25" y2="282" stroke="#a4a4a4" stroke-width="0.5"/>
<line x1="409.5" y1="275" x2="409.5" y2="305.75" stroke="#a4a4a4" stroke-width="0.5"/>
<line x1="401.25" y1="282" x2="400.25" y2="299.5" stroke="#a4a4a4" stroke-width="0.5"/>
<line x1="413.75" y1="287.5" x2="400.25" y2="299.5" stroke="#a4a4a4" stroke-width="0.5"/>
<line x1="413.75" y1="287.5" x2="410" y2="296.5" stroke="#a4a4a4" stroke-width="0.5"/>
<line x1="413.75" y1="287.5" x2="423.75" y2="300.5" stroke="#a4a4a4" stroke-width="0.5"/>
<line x1="352.5" y1="287.5" x2="363" y2="310" stroke="#a4a4a4" stroke-width="0.5"/>
<line x1="375.75" y1="295.25" x2="391" y2="294.5" stroke="#a4a4a4" stroke-width="0.5"/>
<line x1="375.75" y1="295.25" x2="410" y2="296.5" stroke="#a4a4a4" stroke-width="0.5"/>
<line x1="375.75" y1="295.25" x2="362.5" y2="303.2" stroke="#a4a4a4" stroke-width="0.5"/>
<line x1="375.75" y1="295.25" x2="399.5" y2="315" stroke="#a4a4a4" stroke-width="0.5"/>
<line x1="391" y1="294.5" x2="391.25" y2="309.4" stroke="#a4a4a4" stroke-width="0.5"/>
<line x1="400.25" y1="299.5" x2="399.5" y2="315" stroke="#a4a4a4" stroke-width="0.5"/>
<line x1="409.5" y1="305.75" x2="388" y2="317" stroke="#a4a4a4" stroke-width="0.5"/>
<line x1="409.5" y1="305.75" x2="446.5" y2="291.25" stroke="#a4a4a4" stroke-width="0.5"/>
<line x1="410" y1="296.5" x2="423.75" y2="300.5" stroke="#a4a4a4" stroke-width="0.5"/>
<line x1="410" y1="296.5" x2="388" y2="317" stroke="#a4a4a4" stroke-width="0.5"/>
<line x1="432.25" y1="258" x2="446.5" y2="291.25" stroke="#a4a4a4" stroke-width="0.5"/>
<line x1="335" y1="211.5" x2="333.75" y2="190.25" stroke="#a4a4a4" stroke-width="0.5"/>
<line x1="277" y1="188" x2="361.5" y2="234.25" stroke="#a4a4a4" stroke-width="0.5"/>
<line x1="307.5" y1="239.75" x2="268.75" y2="267.25" stroke="#a4a4a4" stroke-width="0.5"/>
<line x1="251.25" y1="218.5" x2="268" y2="208.75" stroke="#a4a4a4" stroke-width="0.5"/>
<line x1="209.5" y1="212.75" x2="268.75" y2="267.25" stroke="#a4a4a4" stroke-width="0.5"/>
<line x1="255" y1="237.25" x2="263.75" y2="198.75" stroke="#a4a4a4" stroke-width="0.5"/>
<line x1="223" y1="252.5" x2="222.5" y2="184.25" stroke="#a4a4a4" stroke-width="0.5"/>
<line x1="251.25" y1="256.25" x2="234.5" y2="189.5" stroke="#a4a4a4" stroke-width="0.5"/>
<line x1="281.75" y1="219.25" x2="309.5" y2="271" stroke="#a4a4a4" stroke-width="0.5"/>
<line x1="268" y1="208.75" x2="287" y2="290" stroke="#a4a4a4" stroke-width="0.5"/>
<line x1="246.25" y1="305" x2="287" y2="290" stroke="#a4a4a4" stroke-width="0.5"/>
<line x1="254.5" y1="330" x2="275" y2="339.25" stroke="#a4a4a4" stroke-width="0.5"/>
<line x1="220.75" y1="311" x2="309.75" y2="314" stroke="#a4a4a4" stroke-width="0.5"/>
<line x1="210.5" y1="318" x2="321.5" y2="320.25" stroke="#a4a4a4" stroke-width="0.5"/>
<line x1="288.25" y1="330.75" x2="309.75" y2="314" stroke="#a4a4a4" stroke-width="0.5"/>
<line x1="209.5" y1="360" x2="193.75" y2="327" stroke="#a4a4a4" stroke-width="0.5"/>
<line x1="277" y1="188" x2="375.5" y2="256.75" stroke="#a4a4a4" stroke-width="0.5"/>
<line x1="335" y1="211.5" x2="361.5" y2="234.25" stroke="#a4a4a4" stroke-width="0.5"/>
<line x1="333.75" y1="190.25" x2="375.5" y2="256.75" stroke="#a4a4a4" stroke-width="0.5"/>
<line x1="325" y1="184.75" x2="369.25" y2="263.75" stroke="#a4a4a4" stroke-width="0.5"/>
<line x1="227.5" y1="324" x2="309.75" y2="314" stroke="#a4a4a4" stroke-width="0.5"/>
<line x1="238.75" y1="324" x2="287" y2="290" stroke="#a4a4a4" stroke-width="0.5"/>
<line x1="254.5" y1="330" x2="287" y2="290" stroke="#a4a4a4" stroke-width="0.5"/>
<line x1="240.75" y1="143.75" x2="290.75" y2="157.5" stroke="#a4a4a4" stroke-width="0.5"/>
<line x1="203.25" y1="148.25" x2="211" y2="226.5" stroke="#a4a4a4" stroke-width="0.5"/>
<line x1="203.25" y1="148.25" x2="219.25" y2="280.5" stroke="#a4a4a4" stroke-width="0.5"/>
<line x1="224" y1="161.25" x2="190.5" y2="233" stroke="#a4a4a4" stroke-width="0.5"/>
<line x1="268.75" y1="170" x2="179" y2="211.5" stroke="#a4a4a4" stroke-width="0.5"/>
<line x1="285" y1="176.75" x2="375.5" y2="256.75" stroke="#a4a4a4" stroke-width="0.5"/>
<line x1="232.25" y1="169.5" x2="251.25" y2="256.25" stroke="#a4a4a4" stroke-width="0.5"/>
<line x1="306.5" y1="185.5" x2="219.25" y2="280.5" stroke="#a4a4a4" stroke-width="0.5"/>
<line x1="314.5" y1="186.75" x2="379.5" y2="289.5" stroke="#a4a4a4" stroke-width="0.5"/>
<line x1="325" y1="184.75" x2="361.5" y2="292.75" stroke="#a4a4a4" stroke-width="0.5"/>
<line x1="325" y1="184.75" x2="418" y2="270.75" stroke="#a4a4a4" stroke-width="0.5"/>
<line x1="333.75" y1="190.25" x2="228.5" y2="217.5" stroke="#a4a4a4" stroke-width="0.5"/>
<line x1="263.75" y1="198.75" x2="211" y2="226.5" stroke="#a4a4a4" stroke-width="0.5"/>
<line x1="179" y1="211.5" x2="210.5" y2="318" stroke="#a4a4a4" stroke-width="0.5"/>
<line x1="209.5" y1="212.75" x2="173" y2="320.25" stroke="#a4a4a4" stroke-width="0.5"/>
<line x1="228.5" y1="217.5" x2="169.25" y2="290" stroke="#a4a4a4" stroke-width="0.5"/>
<line x1="211" y1="226.5" x2="159.25" y2="276" stroke="#a4a4a4" stroke-width="0.5"/>
<line x1="242" y1="235" x2="309.75" y2="314" stroke="#a4a4a4" stroke-width="0.5"/>
<line x1="242" y1="235" x2="375.5" y2="256.75" stroke="#a4a4a4" stroke-width="0.5"/>
<line x1="159.25" y1="276" x2="193.75" y2="327" stroke="#a4a4a4" stroke-width="0.5"/>
<line x1="169.25" y1="290" x2="296" y2="294.25" stroke="#a4a4a4" stroke-width="0.5"/>
<line x1="197" y1="292" x2="321.5" y2="320.25" stroke="#a4a4a4" stroke-width="0.5"/>
<line x1="287" y1="290" x2="220.75" y2="311" stroke="#a4a4a4" stroke-width="0.5"/>
<line x1="296" y1="294.25" x2="158" y2="313.5" stroke="#a4a4a4" stroke-width="0.5"/>
<line x1="352.75" y1="298.75" x2="401.25" y2="282" stroke="#a4a4a4" stroke-width="0.5"/>
<line x1="246.25" y1="305" x2="375" y2="334.25" stroke="#a4a4a4" stroke-width="0.5"/>
<line x1="321.5" y1="320.25" x2="380" y2="276.25" stroke="#a4a4a4" stroke-width="0.5"/>
<line x1="148" y1="206.25" x2="119.75" y2="301.25" stroke="#a4a4a4" stroke-width="0.5"/>
<line x1="27.25" y1="382.75" x2="69" y2="353.75" stroke="#626262" stroke-width="0.65"/>
<line x1="126.75" y1="337.75" x2="158" y2="313.5" stroke="#626262" stroke-width="0.65"/>
<line x1="119" y1="350" x2="116.25" y2="336.25" stroke="#626262" stroke-width="0.65"/>
<line x1="119" y1="350" x2="126.75" y2="337.75" stroke="#626262" stroke-width="0.65"/>
<line x1="119" y1="350" x2="132" y2="344.5" stroke="#626262" stroke-width="0.65"/>
<line x1="166.5" y1="332.5" x2="174.5" y2="341" stroke="#626262" stroke-width="0.65"/>
<line x1="193.75" y1="327" x2="198.75" y2="302" stroke="#626262" stroke-width="0.65"/>
<line x1="193.75" y1="327" x2="227.5" y2="324" stroke="#626262" stroke-width="0.65"/>
<line x1="275" y1="339.25" x2="287" y2="290" stroke="#626262" stroke-width="0.65"/>
<line x1="107.5" y1="337.75" x2="152.5" y2="285.75" stroke="#626262" stroke-width="0.65"/>
<line x1="116.25" y1="336.25" x2="152.5" y2="285.75" stroke="#626262" stroke-width="0.65"/>
<line x1="107.5" y1="337.75" x2="169.25" y2="290" stroke="#626262" stroke-width="0.65"/>
<line x1="116.25" y1="336.25" x2="158" y2="313.5" stroke="#626262" stroke-width="0.65"/>
<line x1="119" y1="350" x2="166.5" y2="332.5" stroke="#626262" stroke-width="0.65"/>
<line x1="123" y1="261.75" x2="195.25" y2="258.25" stroke="#626262" stroke-width="0.65"/>
<line x1="159.25" y1="276" x2="142.5" y2="268.25" stroke="#626262" stroke-width="0.65"/>
<line x1="159.25" y1="276" x2="195.25" y2="258.25" stroke="#626262" stroke-width="0.65"/>
<line x1="142.5" y1="268.25" x2="176.25" y2="274.25" stroke="#626262" stroke-width="0.65"/>
<line x1="280.25" y1="83.75" x2="253.5" y2="134" stroke="#626262" stroke-width="0.65"/>
<line x1="203.25" y1="148.25" x2="233" y2="146.75" stroke="#626262" stroke-width="0.65"/>
<line x1="203.25" y1="148.25" x2="204.25" y2="166.75" stroke="#626262" stroke-width="0.65"/>
<line x1="204.25" y1="166.75" x2="200.5" y2="203.25" stroke="#626262" stroke-width="0.65"/>
<line x1="156.25" y1="220.5" x2="211" y2="226.5" stroke="#626262" stroke-width="0.65"/>
<line x1="156.25" y1="220.5" x2="190.5" y2="233" stroke="#626262" stroke-width="0.65"/>
<line x1="263.75" y1="198.75" x2="277" y2="188" stroke="#626262" stroke-width="0.65"/>
<line x1="263.75" y1="198.75" x2="268" y2="208.75" stroke="#626262" stroke-width="0.65"/>
<line x1="251.25" y1="218.5" x2="263.75" y2="198.75" stroke="#626262" stroke-width="0.65"/>
<line x1="332.75" y1="154.5" x2="306.5" y2="185.5" stroke="#626262" stroke-width="0.65"/>
<line x1="363.75" y1="159.25" x2="325" y2="184.75" stroke="#626262" stroke-width="0.65"/>
<line x1="314.5" y1="186.75" x2="369.25" y2="263.75" stroke="#626262" stroke-width="0.65"/>
<line x1="306.5" y1="185.5" x2="369.25" y2="263.75" stroke="#626262" stroke-width="0.65"/>
<line x1="325" y1="184.75" x2="375.5" y2="256.75" stroke="#626262" stroke-width="0.65"/>
<line x1="306.5" y1="185.5" x2="368" y2="271.25" stroke="#626262" stroke-width="0.65"/>
<line x1="463.5" y1="263.25" x2="538.5" y2="265.25" stroke="#626262" stroke-width="0.65"/>
<line x1="428.5" y1="239.75" x2="375.5" y2="256.75" stroke="#626262" stroke-width="0.65"/>
<line x1="406.25" y1="254.25" x2="418" y2="270.75" stroke="#626262" stroke-width="0.65"/>
<line x1="268.75" y1="267.25" x2="287" y2="290" stroke="#626262" stroke-width="0.65"/>
<line x1="309.5" y1="271" x2="352.75" y2="298.75" stroke="#626262" stroke-width="0.65"/>
<line x1="287" y1="290" x2="352.5" y2="287.5" stroke="#626262" stroke-width="0.65"/>
<line x1="287" y1="290" x2="352.75" y2="298.75" stroke="#626262" stroke-width="0.65"/>
<line x1="287" y1="290" x2="379.5" y2="289.5" stroke="#626262" stroke-width="0.65"/>
<line x1="268.75" y1="267.25" x2="375.5" y2="256.75" stroke="#626262" stroke-width="0.65"/>
<line x1="281.75" y1="219.25" x2="287" y2="290" stroke="#626262" stroke-width="0.65"/>
<line x1="309.25" y1="347" x2="374.5" y2="347.25" stroke="#626262" stroke-width="0.65"/>
<line x1="341.25" y1="352.25" x2="374.5" y2="347.25" stroke="#626262" stroke-width="0.65"/>
<line x1="341.25" y1="352.25" x2="360" y2="375" stroke="#626262" stroke-width="0.65"/>
<line x1="341.25" y1="352.25" x2="373.5" y2="374.25" stroke="#626262" stroke-width="0.65"/>
<line x1="321.5" y1="320.25" x2="355.5" y2="336.25" stroke="#626262" stroke-width="0.65"/>
<line x1="321.5" y1="320.25" x2="360.75" y2="328.25" stroke="#626262" stroke-width="0.65"/>
<line x1="321.5" y1="320.25" x2="374.5" y2="347.25" stroke="#626262" stroke-width="0.65"/>
<line x1="373.5" y1="374.25" x2="414" y2="347" stroke="#626262" stroke-width="0.65"/>
<line x1="375" y1="334.25" x2="374.5" y2="347.25" stroke="#626262" stroke-width="0.65"/>
<line x1="375" y1="334.25" x2="388" y2="317" stroke="#626262" stroke-width="0.65"/>
<line x1="399.5" y1="315" x2="479.5" y2="365.25" stroke="#626262" stroke-width="0.65"/>
<line x1="479.5" y1="365.25" x2="538.75" y2="401.75" stroke="#626262" stroke-width="0.65"/>
<line x1="246.25" y1="305" x2="321.5" y2="320.25" stroke="#626262" stroke-width="0.65"/>
<line x1="360.75" y1="328.25" x2="388" y2="317" stroke="#626262" stroke-width="0.65"/>
<line x1="355.5" y1="336.25" x2="388" y2="317" stroke="#626262" stroke-width="0.65"/>
<line x1="135.25" y1="222" x2="162.25" y2="238.25" stroke="#626262" stroke-width="0.65"/>
<line x1="156.25" y1="220.5" x2="200.75" y2="210.25" stroke="#626262" stroke-width="0.65"/>
<line x1="148" y1="206.25" x2="200.5" y2="203.25" stroke="#626262" stroke-width="0.65"/>
<line x1="142.5" y1="268.25" x2="201.25" y2="275" stroke="#626262" stroke-width="0.65"/>
<line x1="268" y1="208.75" x2="195.25" y2="258.25" stroke="#626262" stroke-width="0.65"/>
<line x1="263.75" y1="198.75" x2="223" y2="252.5" stroke="#626262" stroke-width="0.65"/>
<line x1="234.5" y1="189.5" x2="209.5" y2="212.75" stroke="#626262" stroke-width="0.65"/>
<line x1="243" y1="195" x2="209.5" y2="212.75" stroke="#626262" stroke-width="0.65"/>
<line x1="232.25" y1="169.5" x2="200.5" y2="203.25" stroke="#626262" stroke-width="0.65"/>
<line x1="233.5" y1="157" x2="200.75" y2="210.25" stroke="#626262" stroke-width="0.65"/>
<line x1="222.5" y1="184.25" x2="209.5" y2="212.75" stroke="#626262" stroke-width="0.65"/>
<line x1="211" y1="226.5" x2="195.25" y2="258.25" stroke="#626262" stroke-width="0.65"/>
<line x1="190.5" y1="233" x2="195.25" y2="258.25" stroke="#626262" stroke-width="0.65"/>
<line x1="209.5" y1="212.75" x2="265.75" y2="181" stroke="#626262" stroke-width="0.65"/>
<line x1="200.75" y1="210.25" x2="265.75" y2="181" stroke="#626262" stroke-width="0.65"/>
<line x1="200.5" y1="203.25" x2="224" y2="161.25" stroke="#626262" stroke-width="0.65"/>
<line x1="204.25" y1="166.75" x2="200.75" y2="210.25" stroke="#626262" stroke-width="0.65"/>
<line x1="211" y1="226.5" x2="200.75" y2="210.25" stroke="#626262" stroke-width="0.65"/>
<line x1="242" y1="134.25" x2="277.75" y2="143" stroke="#626262" stroke-width="0.65"/>
<line x1="242" y1="134.25" x2="233" y2="146.75" stroke="#626262" stroke-width="0.65"/>
<line x1="242" y1="134.25" x2="280.75" y2="152" stroke="#626262" stroke-width="0.65"/>
<line x1="242" y1="134.25" x2="224" y2="161.25" stroke="#626262" stroke-width="0.65"/>
<line x1="242" y1="134.25" x2="238" y2="165" stroke="#626262" stroke-width="0.65"/>
<line x1="242" y1="134.25" x2="203.25" y2="148.25" stroke="#626262" stroke-width="0.65"/>
<line x1="253.5" y1="134" x2="280.75" y2="152" stroke="#626262" stroke-width="0.65"/>
<line x1="253.5" y1="134" x2="233.5" y2="157" stroke="#626262" stroke-width="0.65"/>
<line x1="253.5" y1="134" x2="275.75" y2="166.25" stroke="#626262" stroke-width="0.65"/>
<line x1="253.5" y1="134" x2="268.75" y2="170" stroke="#626262" stroke-width="0.65"/>
<line x1="253.5" y1="134" x2="246.75" y2="168.25" stroke="#626262" stroke-width="0.65"/>
<line x1="265.75" y1="141.5" x2="277.75" y2="143" stroke="#626262" stroke-width="0.65"/>
<line x1="265.75" y1="141.5" x2="240.75" y2="143.75" stroke="#626262" stroke-width="0.65"/>
<line x1="265.75" y1="141.5" x2="233.5" y2="157" stroke="#626262" stroke-width="0.65"/>
<line x1="265.75" y1="141.5" x2="224" y2="161.25" stroke="#626262" stroke-width="0.65"/>
<line x1="265.75" y1="141.5" x2="259" y2="161.25" stroke="#626262" stroke-width="0.65"/>
<line x1="265.75" y1="141.5" x2="290.75" y2="157.5" stroke="#626262" stroke-width="0.65"/>
<line x1="265.75" y1="141.5" x2="275.75" y2="166.25" stroke="#626262" stroke-width="0.65"/>
<line x1="265.75" y1="141.5" x2="268.75" y2="170" stroke="#626262" stroke-width="0.65"/>
<line x1="265.75" y1="141.5" x2="232.25" y2="169.5" stroke="#626262" stroke-width="0.65"/>
<line x1="277.75" y1="143" x2="261" y2="154.5" stroke="#626262" stroke-width="0.65"/>
<line x1="277.75" y1="143" x2="259" y2="161.25" stroke="#626262" stroke-width="0.65"/>
<line x1="277.75" y1="143" x2="246.75" y2="168.25" stroke="#626262" stroke-width="0.65"/>
<line x1="277.75" y1="143" x2="277" y2="188" stroke="#626262" stroke-width="0.65"/>
<line x1="240.75" y1="143.75" x2="214.25" y2="163.5" stroke="#626262" stroke-width="0.65"/>
<line x1="240.75" y1="143.75" x2="259" y2="161.25" stroke="#626262" stroke-width="0.65"/>
<line x1="240.75" y1="143.75" x2="246.75" y2="168.25" stroke="#626262" stroke-width="0.65"/>
<line x1="240.75" y1="143.75" x2="238" y2="165" stroke="#626262" stroke-width="0.65"/>
<line x1="240.75" y1="143.75" x2="222.5" y2="184.25" stroke="#626262" stroke-width="0.65"/>
<line x1="233" y1="146.75" x2="214.25" y2="163.5" stroke="#626262" stroke-width="0.65"/>
<line x1="233" y1="146.75" x2="259" y2="161.25" stroke="#626262" stroke-width="0.65"/>
<line x1="233" y1="146.75" x2="232.25" y2="169.5" stroke="#626262" stroke-width="0.65"/>
<line x1="280.75" y1="152" x2="297.5" y2="173.75" stroke="#626262" stroke-width="0.65"/>
<line x1="280.75" y1="152" x2="268.75" y2="170" stroke="#626262" stroke-width="0.65"/>
<line x1="280.75" y1="152" x2="265.75" y2="181" stroke="#626262" stroke-width="0.65"/>
<line x1="261" y1="154.5" x2="224" y2="161.25" stroke="#626262" stroke-width="0.65"/>
<line x1="261" y1="154.5" x2="290.75" y2="157.5" stroke="#626262" stroke-width="0.65"/>
<line x1="261" y1="154.5" x2="285" y2="176.75" stroke="#626262" stroke-width="0.65"/>
<line x1="261" y1="154.5" x2="277" y2="188" stroke="#626262" stroke-width="0.65"/>
<line x1="233.5" y1="157" x2="254.25" y2="171.75" stroke="#626262" stroke-width="0.65"/>
<line x1="233.5" y1="157" x2="265.75" y2="181" stroke="#626262" stroke-width="0.65"/>
<line x1="233.5" y1="157" x2="234.5" y2="189.5" stroke="#626262" stroke-width="0.65"/>
<line x1="233.5" y1="157" x2="243" y2="195" stroke="#626262" stroke-width="0.65"/>
<line x1="233.5" y1="157" x2="204.25" y2="166.75" stroke="#626262" stroke-width="0.65"/>
<line x1="233.5" y1="157" x2="203.25" y2="148.25" stroke="#626262" stroke-width="0.65"/>
<line x1="224" y1="161.25" x2="246.75" y2="168.25" stroke="#626262" stroke-width="0.65"/>
<line x1="224" y1="161.25" x2="204.25" y2="166.75" stroke="#626262" stroke-width="0.65"/>
<line x1="214.25" y1="163.5" x2="254.25" y2="171.75" stroke="#626262" stroke-width="0.65"/>
<line x1="214.25" y1="163.5" x2="232.25" y2="169.5" stroke="#626262" stroke-width="0.65"/>
<line x1="259" y1="161.25" x2="297.5" y2="173.75" stroke="#626262" stroke-width="0.65"/>
<line x1="259" y1="161.25" x2="285" y2="176.75" stroke="#626262" stroke-width="0.65"/>
<line x1="259" y1="161.25" x2="268.75" y2="170" stroke="#626262" stroke-width="0.65"/>
<line x1="259" y1="161.25" x2="254.25" y2="171.75" stroke="#626262" stroke-width="0.65"/>
<line x1="259" y1="161.25" x2="234.5" y2="189.5" stroke="#626262" stroke-width="0.65"/>
<line x1="259" y1="161.25" x2="243" y2="195" stroke="#626262" stroke-width="0.65"/>
<line x1="259" y1="161.25" x2="263.75" y2="198.75" stroke="#626262" stroke-width="0.65"/>
<line x1="290.75" y1="157.5" x2="254.25" y2="171.75" stroke="#626262" stroke-width="0.65"/>
<line x1="290.75" y1="157.5" x2="265.75" y2="181" stroke="#626262" stroke-width="0.65"/>
<line x1="290.75" y1="157.5" x2="306.5" y2="185.5" stroke="#626262" stroke-width="0.65"/>
<line x1="275.75" y1="166.25" x2="290.75" y2="169.25" stroke="#626262" stroke-width="0.65"/>
<line x1="275.75" y1="166.25" x2="238" y2="165" stroke="#626262" stroke-width="0.65"/>
<line x1="275.75" y1="166.25" x2="277" y2="188" stroke="#626262" stroke-width="0.65"/>
<line x1="275.75" y1="166.25" x2="314.5" y2="186.75" stroke="#626262" stroke-width="0.65"/>
<line x1="290.75" y1="169.25" x2="246.75" y2="168.25" stroke="#626262" stroke-width="0.65"/>
<line x1="290.75" y1="169.25" x2="265.75" y2="181" stroke="#626262" stroke-width="0.65"/>
<line x1="297.5" y1="173.75" x2="263.75" y2="198.75" stroke="#626262" stroke-width="0.65"/>
<line x1="297.5" y1="173.75" x2="268" y2="208.75" stroke="#626262" stroke-width="0.65"/>
<line x1="297.5" y1="173.75" x2="325" y2="184.75" stroke="#626262" stroke-width="0.65"/>
<line x1="285" y1="176.75" x2="268.75" y2="170" stroke="#626262" stroke-width="0.65"/>
<line x1="285" y1="176.75" x2="246.75" y2="168.25" stroke="#626262" stroke-width="0.65"/>
<line x1="285" y1="176.75" x2="254.25" y2="171.75" stroke="#626262" stroke-width="0.65"/>
<line x1="285" y1="176.75" x2="265.75" y2="181" stroke="#626262" stroke-width="0.65"/>
<line x1="285" y1="176.75" x2="243" y2="195" stroke="#626262" stroke-width="0.65"/>
<line x1="268.75" y1="170" x2="254.25" y2="171.75" stroke="#626262" stroke-width="0.65"/>
<line x1="268.75" y1="170" x2="234.5" y2="189.5" stroke="#626262" stroke-width="0.65"/>
<line x1="246.75" y1="168.25" x2="263.75" y2="198.75" stroke="#626262" stroke-width="0.65"/>
<line x1="238" y1="165" x2="263.75" y2="198.75" stroke="#626262" stroke-width="0.65"/>
<line x1="254.25" y1="171.75" x2="234.5" y2="189.5" stroke="#626262" stroke-width="0.65"/>
<line x1="254.25" y1="171.75" x2="243" y2="195" stroke="#626262" stroke-width="0.65"/>
<line x1="232.25" y1="169.5" x2="222.5" y2="184.25" stroke="#626262" stroke-width="0.65"/>
<line x1="265.75" y1="181" x2="277" y2="188" stroke="#626262" stroke-width="0.65"/>
<line x1="222.5" y1="184.25" x2="234.5" y2="189.5" stroke="#626262" stroke-width="0.65"/>
<line x1="277" y1="188" x2="268" y2="208.75" stroke="#626262" stroke-width="0.65"/>
<line x1="234.5" y1="189.5" x2="204.25" y2="166.75" stroke="#626262" stroke-width="0.65"/>
<line x1="243" y1="195" x2="263.75" y2="198.75" stroke="#626262" stroke-width="0.65"/>
<line x1="268" y1="208.75" x2="306.5" y2="185.5" stroke="#626262" stroke-width="0.65"/>
<line x1="306.5" y1="185.5" x2="333.75" y2="190.25" stroke="#626262" stroke-width="0.65"/>
<line x1="314.5" y1="186.75" x2="325" y2="184.75" stroke="#626262" stroke-width="0.65"/>
<line x1="201.25" y1="275" x2="220.75" y2="311" stroke="#626262" stroke-width="0.65"/>
<line x1="152.5" y1="285.75" x2="176.25" y2="274.25" stroke="#626262" stroke-width="0.65"/>
<line x1="176.25" y1="274.25" x2="173" y2="320.25" stroke="#626262" stroke-width="0.65"/>
<line x1="159.25" y1="276" x2="197" y2="292" stroke="#626262" stroke-width="0.65"/>
<line x1="159.25" y1="276" x2="198.75" y2="302" stroke="#626262" stroke-width="0.65"/>
<line x1="159.25" y1="276" x2="185" y2="316.25" stroke="#626262" stroke-width="0.65"/>
<line x1="152.5" y1="285.75" x2="158" y2="313.5" stroke="#626262" stroke-width="0.65"/>
<line x1="152.5" y1="285.75" x2="164.5" y2="313.75" stroke="#626262" stroke-width="0.65"/>
<line x1="152.5" y1="285.75" x2="142.5" y2="268.25" stroke="#626262" stroke-width="0.65"/>
<line x1="169.25" y1="290" x2="185" y2="316.25" stroke="#626262" stroke-width="0.65"/>
<line x1="166.5" y1="332.5" x2="169.25" y2="290" stroke="#626262" stroke-width="0.65"/>
<line x1="152.5" y1="295.75" x2="197" y2="292" stroke="#626262" stroke-width="0.65"/>
<line x1="152.5" y1="295.75" x2="164.5" y2="313.75" stroke="#626262" stroke-width="0.65"/>
<line x1="152.5" y1="295.75" x2="173" y2="320.25" stroke="#626262" stroke-width="0.65"/>
<line x1="152.5" y1="295.75" x2="166.5" y2="332.5" stroke="#626262" stroke-width="0.65"/>
<line x1="166.75" y1="296.75" x2="158" y2="313.5" stroke="#626262" stroke-width="0.65"/>
<line x1="166.75" y1="296.75" x2="164.5" y2="313.75" stroke="#626262" stroke-width="0.65"/>
<line x1="197" y1="292" x2="210.25" y2="291.5" stroke="#626262" stroke-width="0.65"/>
<line x1="197" y1="292" x2="185" y2="316.25" stroke="#626262" stroke-width="0.65"/>
<line x1="197" y1="292" x2="246.25" y2="285.25" stroke="#626262" stroke-width="0.65"/>
<line x1="198.75" y1="302" x2="211.25" y2="300.5" stroke="#626262" stroke-width="0.65"/>
<line x1="198.75" y1="302" x2="164.5" y2="313.75" stroke="#626262" stroke-width="0.65"/>
<line x1="198.75" y1="302" x2="166.5" y2="332.5" stroke="#626262" stroke-width="0.65"/>
<line x1="198.75" y1="302" x2="174.5" y2="341" stroke="#626262" stroke-width="0.65"/>
<line x1="198.75" y1="302" x2="246.25" y2="305" stroke="#626262" stroke-width="0.65"/>
<line x1="219.25" y1="280.5" x2="185" y2="316.25" stroke="#626262" stroke-width="0.65"/>
<line x1="210.25" y1="291.5" x2="193.75" y2="327" stroke="#626262" stroke-width="0.65"/>
<line x1="210.25" y1="291.5" x2="246.25" y2="285.25" stroke="#626262" stroke-width="0.65"/>
<line x1="211.25" y1="300.5" x2="227.5" y2="324" stroke="#626262" stroke-width="0.65"/>
<line x1="183.5" y1="285.25" x2="210.5" y2="318" stroke="#626262" stroke-width="0.65"/>
<line x1="183.5" y1="285.25" x2="193.75" y2="327" stroke="#626262" stroke-width="0.65"/>
<line x1="183.5" y1="285.25" x2="142.5" y2="268.25" stroke="#626262" stroke-width="0.65"/>
<line x1="158" y1="313.5" x2="164.5" y2="313.75" stroke="#626262" stroke-width="0.65"/>
<line x1="158" y1="313.5" x2="173" y2="320.25" stroke="#626262" stroke-width="0.65"/>
<line x1="158" y1="313.5" x2="174.5" y2="341" stroke="#626262" stroke-width="0.65"/>
<line x1="164.5" y1="313.75" x2="156" y2="331.5" stroke="#626262" stroke-width="0.65"/>
<line x1="173" y1="320.25" x2="220.75" y2="311" stroke="#626262" stroke-width="0.65"/>
<line x1="185" y1="316.25" x2="220.75" y2="311" stroke="#626262" stroke-width="0.65"/>
<line x1="210.5" y1="318" x2="174.5" y2="341" stroke="#626262" stroke-width="0.65"/>
<line x1="210.5" y1="318" x2="254.5" y2="330" stroke="#626262" stroke-width="0.65"/>
<line x1="227.5" y1="324" x2="258" y2="294.25" stroke="#626262" stroke-width="0.65"/>
<line x1="238.75" y1="324" x2="246.25" y2="285.25" stroke="#626262" stroke-width="0.65"/>
<line x1="246.25" y1="305" x2="258" y2="294.25" stroke="#626262" stroke-width="0.65"/>
<line x1="246.25" y1="285.25" x2="223" y2="252.5" stroke="#626262" stroke-width="0.65"/>
<line x1="375.5" y1="256.75" x2="418" y2="270.75" stroke="#626262" stroke-width="0.65"/>
<line x1="369.25" y1="263.75" x2="352.75" y2="298.75" stroke="#626262" stroke-width="0.65"/>
<line x1="368" y1="271.25" x2="352.75" y2="298.75" stroke="#626262" stroke-width="0.65"/>
<line x1="368" y1="271.25" x2="361.5" y2="292.75" stroke="#626262" stroke-width="0.65"/>
<line x1="368" y1="271.25" x2="391" y2="294.5" stroke="#626262" stroke-width="0.65"/>
<line x1="368" y1="271.25" x2="391.25" y2="309.4" stroke="#626262" stroke-width="0.65"/>
<line x1="380" y1="276.25" x2="418" y2="270.75" stroke="#626262" stroke-width="0.65"/>
<line x1="380" y1="276.25" x2="361.5" y2="292.75" stroke="#626262" stroke-width="0.65"/>
<line x1="380" y1="276.25" x2="409.5" y2="305.75" stroke="#626262" stroke-width="0.65"/>
<line x1="380" y1="276.25" x2="362.5" y2="303.2" stroke="#626262" stroke-width="0.65"/>
<line x1="380" y1="276.25" x2="399.5" y2="315" stroke="#626262" stroke-width="0.65"/>
<line x1="418" y1="270.75" x2="402.5" y2="274.5" stroke="#626262" stroke-width="0.65"/>
<line x1="418" y1="270.75" x2="400.25" y2="299.5" stroke="#626262" stroke-width="0.65"/>
<line x1="402.5" y1="274.5" x2="399.5" y2="315" stroke="#626262" stroke-width="0.65"/>
<line x1="409.5" y1="275" x2="379.5" y2="289.5" stroke="#626262" stroke-width="0.65"/>
<line x1="409.5" y1="275" x2="410" y2="296.5" stroke="#626262" stroke-width="0.65"/>
<line x1="409.5" y1="275" x2="399.5" y2="315" stroke="#626262" stroke-width="0.65"/>
<line x1="401.25" y1="282" x2="375.75" y2="295.25" stroke="#626262" stroke-width="0.65"/>
<line x1="401.25" y1="282" x2="409.5" y2="305.75" stroke="#626262" stroke-width="0.65"/>
<line x1="401.25" y1="282" x2="422.5" y2="291.75" stroke="#626262" stroke-width="0.65"/>
<line x1="413.75" y1="287.5" x2="391" y2="294.5" stroke="#626262" stroke-width="0.65"/>
<line x1="413.75" y1="287.5" x2="409.5" y2="305.75" stroke="#626262" stroke-width="0.65"/>
<line x1="413.75" y1="287.5" x2="399.5" y2="315" stroke="#626262" stroke-width="0.65"/>
<line x1="352.5" y1="287.5" x2="352.75" y2="298.75" stroke="#626262" stroke-width="0.65"/>
<line x1="352.5" y1="287.5" x2="391" y2="294.5" stroke="#626262" stroke-width="0.65"/>
<line x1="352.5" y1="287.5" x2="391.25" y2="309.4" stroke="#626262" stroke-width="0.65"/>
<line x1="352.75" y1="298.75" x2="379.5" y2="289.5" stroke="#626262" stroke-width="0.65"/>
<line x1="352.75" y1="298.75" x2="375.75" y2="295.25" stroke="#626262" stroke-width="0.65"/>
<line x1="361.5" y1="292.75" x2="398.75" y2="290.5" stroke="#626262" stroke-width="0.65"/>
<line x1="361.5" y1="292.75" x2="391.25" y2="309.4" stroke="#626262" stroke-width="0.65"/>
<line x1="379.5" y1="289.5" x2="388" y2="317" stroke="#626262" stroke-width="0.65"/>
<line x1="398.75" y1="290.5" x2="399.5" y2="315" stroke="#626262" stroke-width="0.65"/>
<line x1="391" y1="294.5" x2="409.5" y2="305.75" stroke="#626262" stroke-width="0.65"/>
<line x1="391" y1="294.5" x2="423.75" y2="300.5" stroke="#626262" stroke-width="0.65"/>
<line x1="400.25" y1="299.5" x2="409.5" y2="305.75" stroke="#626262" stroke-width="0.65"/>
<line x1="409.5" y1="305.75" x2="422.5" y2="291.75" stroke="#626262" stroke-width="0.65"/>
<line x1="410" y1="296.5" x2="422.5" y2="291.75" stroke="#626262" stroke-width="0.65"/>
<line x1="410" y1="296.5" x2="399.5" y2="315" stroke="#626262" stroke-width="0.65"/>
<line x1="363" y1="310" x2="362.5" y2="303.2" stroke="#626262" stroke-width="0.65"/>
<line x1="362.5" y1="303.2" x2="399.5" y2="315" stroke="#626262" stroke-width="0.65"/>
<line x1="335" y1="211.5" x2="306.5" y2="185.5" stroke="#626262" stroke-width="0.65"/>
<line x1="335" y1="211.5" x2="314.5" y2="186.75" stroke="#626262" stroke-width="0.65"/>
<line x1="268" y1="208.75" x2="309.5" y2="271" stroke="#626262" stroke-width="0.65"/>
<line x1="211" y1="226.5" x2="268.75" y2="267.25" stroke="#626262" stroke-width="0.65"/>
<line x1="242" y1="235" x2="263.75" y2="198.75" stroke="#626262" stroke-width="0.65"/>
<line x1="263.75" y1="198.75" x2="190.5" y2="233" stroke="#626262" stroke-width="0.65"/>
<line x1="243" y1="195" x2="211" y2="226.5" stroke="#626262" stroke-width="0.65"/>
<line x1="246.25" y1="305" x2="309.75" y2="314" stroke="#626262" stroke-width="0.65"/>
<line x1="220.75" y1="311" x2="227.5" y2="324" stroke="#626262" stroke-width="0.65"/>
<line x1="220.75" y1="311" x2="246.25" y2="305" stroke="#626262" stroke-width="0.65"/>
<line x1="220.75" y1="311" x2="321.5" y2="320.25" stroke="#626262" stroke-width="0.65"/>
<line x1="321.5" y1="320.25" x2="388" y2="317" stroke="#626262" stroke-width="0.65"/>
<line x1="321.5" y1="320.25" x2="375" y2="334.25" stroke="#626262" stroke-width="0.65"/>
<line x1="265.75" y1="141.5" x2="314.5" y2="186.75" stroke="#626262" stroke-width="0.65"/>
<line x1="265.75" y1="141.5" x2="242" y2="235" stroke="#626262" stroke-width="0.65"/>
<line x1="265.75" y1="141.5" x2="268.75" y2="267.25" stroke="#626262" stroke-width="0.65"/>
<line x1="268.75" y1="170" x2="314.5" y2="186.75" stroke="#626262" stroke-width="0.65"/>
<line x1="268.75" y1="170" x2="246.25" y2="305" stroke="#626262" stroke-width="0.65"/>
<line x1="290.75" y1="157.5" x2="190.5" y2="233" stroke="#626262" stroke-width="0.65"/>
<line x1="254.25" y1="171.75" x2="242" y2="235" stroke="#626262" stroke-width="0.65"/>
<line x1="222.5" y1="184.25" x2="142.5" y2="268.25" stroke="#626262" stroke-width="0.65"/>
<line x1="222.5" y1="184.25" x2="246.25" y2="305" stroke="#626262" stroke-width="0.65"/>
<line x1="325" y1="184.75" x2="243" y2="195" stroke="#626262" stroke-width="0.65"/>
<line x1="281.75" y1="219.25" x2="228.5" y2="217.5" stroke="#626262" stroke-width="0.65"/>
<line x1="281.75" y1="219.25" x2="361.5" y2="292.75" stroke="#626262" stroke-width="0.65"/>
<line x1="268.75" y1="267.25" x2="142.5" y2="268.25" stroke="#626262" stroke-width="0.65"/>
<line x1="352.75" y1="298.75" x2="238.75" y2="324" stroke="#626262" stroke-width="0.65"/>
<line x1="185" y1="316.25" x2="238.75" y2="324" stroke="#626262" stroke-width="0.65"/>
<line x1="375" y1="334.25" x2="409.5" y2="275" stroke="#626262" stroke-width="0.65"/>
<line x1="158" y1="313.5" x2="176.25" y2="274.25" stroke="#626262" stroke-width="0.65"/>
<line x1="156" y1="331.5" x2="176.25" y2="274.25" stroke="#626262" stroke-width="0.65"/>
<line x1="126.75" y1="337.75" x2="176.25" y2="274.25" stroke="#626262" stroke-width="0.65"/>
<line x1="116.25" y1="336.25" x2="169.25" y2="290" stroke="#626262" stroke-width="0.65"/>
<line x1="119" y1="350" x2="169.25" y2="290" stroke="#626262" stroke-width="0.65"/>
<line x1="100.75" y1="358" x2="166.75" y2="296.75" stroke="#626262" stroke-width="0.65"/>
<line x1="158" y1="313.5" x2="195.25" y2="258.25" stroke="#626262" stroke-width="0.65"/>
<line x1="156" y1="331.5" x2="201.25" y2="275" stroke="#626262" stroke-width="0.65"/>
<line x1="126.75" y1="337.75" x2="195.25" y2="258.25" stroke="#626262" stroke-width="0.65"/>
<line x1="132" y1="344.5" x2="201.25" y2="275" stroke="#626262" stroke-width="0.65"/>
<line x1="152.5" y1="295.75" x2="176.25" y2="274.25" stroke="#626262" stroke-width="0.65"/>
<line x1="173" y1="320.25" x2="166.75" y2="296.75" stroke="#626262" stroke-width="0.65"/>
<line x1="164.5" y1="313.75" x2="169.25" y2="290" stroke="#626262" stroke-width="0.65"/>
<line x1="91.75" y1="372.75" x2="100.75" y2="358" stroke="#383838" stroke-width="0.8"/>
<line x1="100.75" y1="358" x2="107.5" y2="337.75" stroke="#383838" stroke-width="0.8"/>
<line x1="100.75" y1="358" x2="116.25" y2="336.25" stroke="#383838" stroke-width="0.8"/>
<line x1="100.75" y1="358" x2="126.75" y2="337.75" stroke="#383838" stroke-width="0.8"/>
<line x1="100.75" y1="358" x2="132" y2="344.5" stroke="#383838" stroke-width="0.8"/>
<line x1="126.75" y1="337.75" x2="169.25" y2="290" stroke="#383838" stroke-width="0.8"/>
<line x1="116.25" y1="336.25" x2="166.75" y2="296.75" stroke="#383838" stroke-width="0.8"/>
<line x1="126.75" y1="337.75" x2="166.75" y2="296.75" stroke="#383838" stroke-width="0.8"/>
<line x1="126.75" y1="337.75" x2="173" y2="320.25" stroke="#383838" stroke-width="0.8"/>
<line x1="126.75" y1="337.75" x2="185" y2="316.25" stroke="#383838" stroke-width="0.8"/>
<line x1="119" y1="350" x2="156" y2="331.5" stroke="#383838" stroke-width="0.8"/>
<line x1="156" y1="331.5" x2="158" y2="313.5" stroke="#383838" stroke-width="0.8"/>
<line x1="156" y1="331.5" x2="173" y2="320.25" stroke="#383838" stroke-width="0.8"/>
<line x1="166.5" y1="332.5" x2="173" y2="320.25" stroke="#383838" stroke-width="0.8"/>
<line x1="166.5" y1="332.5" x2="185" y2="316.25" stroke="#383838" stroke-width="0.8"/>
<line x1="185" y1="316.25" x2="198.75" y2="302" stroke="#383838" stroke-width="0.8"/>
<line x1="220.75" y1="311" x2="198.75" y2="302" stroke="#383838" stroke-width="0.8"/>
<line x1="246.25" y1="305" x2="246.25" y2="348.25" stroke="#383838" stroke-width="0.8"/>
<line x1="258" y1="294.25" x2="259.5" y2="378.75" stroke="#383838" stroke-width="0.8"/>
<line x1="275" y1="339.25" x2="246.25" y2="305" stroke="#383838" stroke-width="0.8"/>
<line x1="100.75" y1="358" x2="156" y2="331.5" stroke="#383838" stroke-width="0.8"/>
<line x1="100.75" y1="358" x2="166.5" y2="332.5" stroke="#383838" stroke-width="0.8"/>
<line x1="142.5" y1="268.25" x2="195.25" y2="258.25" stroke="#383838" stroke-width="0.8"/>
<line x1="203.25" y1="148.25" x2="224" y2="161.25" stroke="#383838" stroke-width="0.8"/>
<line x1="263.75" y1="198.75" x2="265.75" y2="181" stroke="#383838" stroke-width="0.8"/>
<line x1="363.75" y1="159.25" x2="335" y2="211.5" stroke="#383838" stroke-width="0.8"/>
<line x1="265.75" y1="141.5" x2="290.75" y2="169.25" stroke="#383838" stroke-width="0.8"/>
<line x1="277.75" y1="143" x2="290.75" y2="157.5" stroke="#383838" stroke-width="0.8"/>
<line x1="335" y1="211.5" x2="390.5" y2="220.5" stroke="#383838" stroke-width="0.8"/>
<line x1="406.25" y1="254.25" x2="428.5" y2="239.75" stroke="#383838" stroke-width="0.8"/>
<line x1="263.75" y1="198.75" x2="268.75" y2="267.25" stroke="#383838" stroke-width="0.8"/>
<line x1="306.5" y1="185.5" x2="375.5" y2="256.75" stroke="#383838" stroke-width="0.8"/>
<line x1="463.5" y1="263.25" x2="536.5" y2="252.5" stroke="#383838" stroke-width="0.8"/>
<line x1="251.25" y1="256.25" x2="268.75" y2="267.25" stroke="#383838" stroke-width="0.8"/>
<line x1="309.5" y1="271" x2="287" y2="290" stroke="#383838" stroke-width="0.8"/>
<line x1="309.5" y1="271" x2="296" y2="294.25" stroke="#383838" stroke-width="0.8"/>
<line x1="361.5" y1="292.75" x2="379.5" y2="289.5" stroke="#383838" stroke-width="0.8"/>
<line x1="321.5" y1="320.25" x2="309.25" y2="347" stroke="#383838" stroke-width="0.8"/>
<line x1="309.25" y1="347" x2="341.25" y2="352.25" stroke="#383838" stroke-width="0.8"/>
<line x1="341.25" y1="352.25" x2="355.5" y2="336.25" stroke="#383838" stroke-width="0.8"/>
<line x1="321.5" y1="320.25" x2="373.5" y2="374.25" stroke="#383838" stroke-width="0.8"/>
<line x1="374.5" y1="347.25" x2="388" y2="317" stroke="#383838" stroke-width="0.8"/>
<line x1="374.5" y1="347.25" x2="399.5" y2="315" stroke="#383838" stroke-width="0.8"/>
<line x1="375.5" y1="256.75" x2="398.75" y2="290.5" stroke="#383838" stroke-width="0.8"/>
<line x1="375.5" y1="256.75" x2="402.5" y2="274.5" stroke="#383838" stroke-width="0.8"/>
<line x1="369.25" y1="263.75" x2="401.25" y2="282" stroke="#383838" stroke-width="0.8"/>
<line x1="251.25" y1="218.5" x2="195.25" y2="258.25" stroke="#383838" stroke-width="0.8"/>
<line x1="222.5" y1="184.25" x2="200.75" y2="210.25" stroke="#383838" stroke-width="0.8"/>
<line x1="232.25" y1="169.5" x2="200.75" y2="210.25" stroke="#383838" stroke-width="0.8"/>
<line x1="222.5" y1="184.25" x2="200.5" y2="203.25" stroke="#383838" stroke-width="0.8"/>
<line x1="224" y1="161.25" x2="200.75" y2="210.25" stroke="#383838" stroke-width="0.8"/>
<line x1="190.5" y1="233" x2="200.75" y2="210.25" stroke="#383838" stroke-width="0.8"/>
<line x1="242" y1="134.25" x2="214.25" y2="163.5" stroke="#383838" stroke-width="0.8"/>
<line x1="242" y1="134.25" x2="232.25" y2="169.5" stroke="#383838" stroke-width="0.8"/>
<line x1="265.75" y1="141.5" x2="285" y2="176.75" stroke="#383838" stroke-width="0.8"/>
<line x1="265.75" y1="141.5" x2="238" y2="165" stroke="#383838" stroke-width="0.8"/>
<line x1="265.75" y1="141.5" x2="265.75" y2="181" stroke="#383838" stroke-width="0.8"/>
<line x1="277.75" y1="143" x2="285" y2="176.75" stroke="#383838" stroke-width="0.8"/>
<line x1="240.75" y1="143.75" x2="203.25" y2="148.25" stroke="#383838" stroke-width="0.8"/>
<line x1="280.75" y1="152" x2="238" y2="165" stroke="#383838" stroke-width="0.8"/>
<line x1="280.75" y1="152" x2="277" y2="188" stroke="#383838" stroke-width="0.8"/>
<line x1="261" y1="154.5" x2="297.5" y2="173.75" stroke="#383838" stroke-width="0.8"/>
<line x1="261" y1="154.5" x2="268.75" y2="170" stroke="#383838" stroke-width="0.8"/>
<line x1="261" y1="154.5" x2="234.5" y2="189.5" stroke="#383838" stroke-width="0.8"/>
<line x1="233.5" y1="157" x2="275.75" y2="166.25" stroke="#383838" stroke-width="0.8"/>
<line x1="224" y1="161.25" x2="238" y2="165" stroke="#383838" stroke-width="0.8"/>
<line x1="224" y1="161.25" x2="265.75" y2="181" stroke="#383838" stroke-width="0.8"/>
<line x1="214.25" y1="163.5" x2="246.75" y2="168.25" stroke="#383838" stroke-width="0.8"/>
<line x1="214.25" y1="163.5" x2="204.25" y2="166.75" stroke="#383838" stroke-width="0.8"/>
<line x1="259" y1="161.25" x2="290.75" y2="157.5" stroke="#383838" stroke-width="0.8"/>
<line x1="259" y1="161.25" x2="275.75" y2="166.25" stroke="#383838" stroke-width="0.8"/>
<line x1="259" y1="161.25" x2="238" y2="165" stroke="#383838" stroke-width="0.8"/>
<line x1="259" y1="161.25" x2="222.5" y2="184.25" stroke="#383838" stroke-width="0.8"/>
<line x1="290.75" y1="157.5" x2="268.75" y2="170" stroke="#383838" stroke-width="0.8"/>
<line x1="290.75" y1="157.5" x2="325" y2="184.75" stroke="#383838" stroke-width="0.8"/>
<line x1="290.75" y1="169.25" x2="325" y2="184.75" stroke="#383838" stroke-width="0.8"/>
<line x1="285" y1="176.75" x2="277" y2="188" stroke="#383838" stroke-width="0.8"/>
<line x1="285" y1="176.75" x2="306.5" y2="185.5" stroke="#383838" stroke-width="0.8"/>
<line x1="268.75" y1="170" x2="246.75" y2="168.25" stroke="#383838" stroke-width="0.8"/>
<line x1="268.75" y1="170" x2="238" y2="165" stroke="#383838" stroke-width="0.8"/>
<line x1="246.75" y1="168.25" x2="277" y2="188" stroke="#383838" stroke-width="0.8"/>
<line x1="238" y1="165" x2="254.25" y2="171.75" stroke="#383838" stroke-width="0.8"/>
<line x1="238" y1="165" x2="203.25" y2="148.25" stroke="#383838" stroke-width="0.8"/>
<line x1="254.25" y1="171.75" x2="263.75" y2="198.75" stroke="#383838" stroke-width="0.8"/>
<line x1="232.25" y1="169.5" x2="204.25" y2="166.75" stroke="#383838" stroke-width="0.8"/>
<line x1="243" y1="195" x2="204.25" y2="166.75" stroke="#383838" stroke-width="0.8"/>
<line x1="325" y1="184.75" x2="333.75" y2="190.25" stroke="#383838" stroke-width="0.8"/>
<line x1="195.25" y1="258.25" x2="210.25" y2="291.5" stroke="#383838" stroke-width="0.8"/>
<line x1="195.25" y1="258.25" x2="223" y2="252.5" stroke="#383838" stroke-width="0.8"/>
<line x1="201.25" y1="275" x2="169.25" y2="290" stroke="#383838" stroke-width="0.8"/>
<line x1="201.25" y1="275" x2="185" y2="316.25" stroke="#383838" stroke-width="0.8"/>
<line x1="176.25" y1="274.25" x2="198.75" y2="302" stroke="#383838" stroke-width="0.8"/>
<line x1="176.25" y1="274.25" x2="219.25" y2="280.5" stroke="#383838" stroke-width="0.8"/>
<line x1="176.25" y1="274.25" x2="211.25" y2="300.5" stroke="#383838" stroke-width="0.8"/>
<line x1="176.25" y1="274.25" x2="183.5" y2="285.25" stroke="#383838" stroke-width="0.8"/>
<line x1="176.25" y1="274.25" x2="164.5" y2="313.75" stroke="#383838" stroke-width="0.8"/>
<line x1="159.25" y1="276" x2="152.5" y2="295.75" stroke="#383838" stroke-width="0.8"/>
<line x1="169.25" y1="290" x2="152.5" y2="295.75" stroke="#383838" stroke-width="0.8"/>
<line x1="169.25" y1="290" x2="198.75" y2="302" stroke="#383838" stroke-width="0.8"/>
<line x1="169.25" y1="290" x2="193.75" y2="327" stroke="#383838" stroke-width="0.8"/>
<line x1="156" y1="331.5" x2="169.25" y2="290" stroke="#383838" stroke-width="0.8"/>
<line x1="152.5" y1="295.75" x2="166.75" y2="296.75" stroke="#383838" stroke-width="0.8"/>
<line x1="197" y1="292" x2="219.25" y2="280.5" stroke="#383838" stroke-width="0.8"/>
<line x1="197" y1="292" x2="220.75" y2="311" stroke="#383838" stroke-width="0.8"/>
<line x1="197" y1="292" x2="227.5" y2="324" stroke="#383838" stroke-width="0.8"/>
<line x1="210.25" y1="291.5" x2="210.5" y2="318" stroke="#383838" stroke-width="0.8"/>
<line x1="211.25" y1="300.5" x2="246.25" y2="285.25" stroke="#383838" stroke-width="0.8"/>
<line x1="183.5" y1="285.25" x2="173" y2="320.25" stroke="#383838" stroke-width="0.8"/>
<line x1="173" y1="320.25" x2="193.75" y2="327" stroke="#383838" stroke-width="0.8"/>
<line x1="185" y1="316.25" x2="210.5" y2="318" stroke="#383838" stroke-width="0.8"/>
<line x1="185" y1="316.25" x2="193.75" y2="327" stroke="#383838" stroke-width="0.8"/>
<line x1="227.5" y1="324" x2="246.25" y2="305" stroke="#383838" stroke-width="0.8"/>
<line x1="227.5" y1="324" x2="254.5" y2="330" stroke="#383838" stroke-width="0.8"/>
<line x1="246.25" y1="305" x2="254.5" y2="330" stroke="#383838" stroke-width="0.8"/>
<line x1="258" y1="294.25" x2="246.25" y2="285.25" stroke="#383838" stroke-width="0.8"/>
<line x1="375.5" y1="256.75" x2="352.5" y2="287.5" stroke="#383838" stroke-width="0.8"/>
<line x1="369.25" y1="263.75" x2="361.5" y2="292.75" stroke="#383838" stroke-width="0.8"/>
<line x1="369.25" y1="263.75" x2="375.75" y2="295.25" stroke="#383838" stroke-width="0.8"/>
<line x1="369.25" y1="263.75" x2="406.25" y2="254.25" stroke="#383838" stroke-width="0.8"/>
<line x1="368" y1="271.25" x2="400.25" y2="299.5" stroke="#383838" stroke-width="0.8"/>
<line x1="380" y1="276.25" x2="352.75" y2="298.75" stroke="#383838" stroke-width="0.8"/>
<line x1="380" y1="276.25" x2="363" y2="310" stroke="#383838" stroke-width="0.8"/>
<line x1="418" y1="270.75" x2="409.5" y2="305.75" stroke="#383838" stroke-width="0.8"/>
<line x1="418" y1="270.75" x2="422.5" y2="291.75" stroke="#383838" stroke-width="0.8"/>
<line x1="402.5" y1="274.5" x2="361.5" y2="292.75" stroke="#383838" stroke-width="0.8"/>
<line x1="450.5" y1="277.5" x2="422.5" y2="291.75" stroke="#383838" stroke-width="0.8"/>
<line x1="450.5" y1="277.5" x2="446.5" y2="291.25" stroke="#383838" stroke-width="0.8"/>
<line x1="352.5" y1="287.5" x2="362.5" y2="303.2" stroke="#383838" stroke-width="0.8"/>
<line x1="361.5" y1="292.75" x2="375.75" y2="295.25" stroke="#383838" stroke-width="0.8"/>
<line x1="361.5" y1="292.75" x2="388" y2="317" stroke="#383838" stroke-width="0.8"/>
<line x1="361.5" y1="292.75" x2="363" y2="310" stroke="#383838" stroke-width="0.8"/>
<line x1="379.5" y1="289.5" x2="363" y2="310" stroke="#383838" stroke-width="0.8"/>
<line x1="379.5" y1="289.5" x2="391.25" y2="309.4" stroke="#383838" stroke-width="0.8"/>
<line x1="375.75" y1="295.25" x2="398.75" y2="290.5" stroke="#383838" stroke-width="0.8"/>
<line x1="398.75" y1="290.5" x2="400.25" y2="299.5" stroke="#383838" stroke-width="0.8"/>
<line x1="398.75" y1="290.5" x2="423.75" y2="300.5" stroke="#383838" stroke-width="0.8"/>
<line x1="398.75" y1="290.5" x2="388" y2="317" stroke="#383838" stroke-width="0.8"/>
<line x1="391" y1="294.5" x2="422.5" y2="291.75" stroke="#383838" stroke-width="0.8"/>
<line x1="391" y1="294.5" x2="362.5" y2="303.2" stroke="#383838" stroke-width="0.8"/>
<line x1="391" y1="294.5" x2="399.5" y2="315" stroke="#383838" stroke-width="0.8"/>
<line x1="400.25" y1="299.5" x2="410" y2="296.5" stroke="#383838" stroke-width="0.8"/>
<line x1="423.75" y1="300.5" x2="432.25" y2="258" stroke="#383838" stroke-width="0.8"/>
<line x1="220.75" y1="311" x2="238.75" y2="324" stroke="#383838" stroke-width="0.8"/>
<line x1="166.5" y1="332.5" x2="197" y2="292" stroke="#383838" stroke-width="0.8"/>
<line x1="156" y1="331.5" x2="166.75" y2="296.75" stroke="#383838" stroke-width="0.8"/>
<line x1="173" y1="320.25" x2="197" y2="292" stroke="#383838" stroke-width="0.8"/>
<line x1="166.5" y1="332.5" x2="176.25" y2="274.25" stroke="#383838" stroke-width="0.8"/>
<line x1="132" y1="344.5" x2="166.75" y2="296.75" stroke="#383838" stroke-width="0.8"/>
<line x1="173" y1="320.25" x2="201.25" y2="275" stroke="#383838" stroke-width="0.8"/>
<line x1="166.5" y1="332.5" x2="201.25" y2="275" stroke="#383838" stroke-width="0.8"/>
<line x1="100.75" y1="358" x2="119" y2="350" stroke="#1c1c1c" stroke-width="1.25"/>
<line x1="126.75" y1="337.75" x2="156" y2="331.5" stroke="#1c1c1c" stroke-width="1.25"/>
<line x1="132" y1="344.5" x2="156" y2="331.5" stroke="#1c1c1c" stroke-width="1.25"/>
<line x1="132" y1="344.5" x2="166.5" y2="332.5" stroke="#1c1c1c" stroke-width="1.25"/>
<line x1="361.5" y1="234.25" x2="406.25" y2="254.25" stroke="#1c1c1c" stroke-width="1.25"/>
<line x1="361.5" y1="234.25" x2="375.5" y2="256.75" stroke="#1c1c1c" stroke-width="1.25"/>
<line x1="432.25" y1="258" x2="418" y2="270.75" stroke="#1c1c1c" stroke-width="1.25"/>
<line x1="219.25" y1="280.5" x2="246.25" y2="285.25" stroke="#1c1c1c" stroke-width="1.25"/>
<line x1="195.25" y1="258.25" x2="287" y2="290" stroke="#1c1c1c" stroke-width="1.25"/>
<line x1="287" y1="290" x2="309.75" y2="314" stroke="#1c1c1c" stroke-width="1.25"/>
<line x1="321.5" y1="320.25" x2="341.25" y2="352.25" stroke="#1c1c1c" stroke-width="1.25"/>
<line x1="374.5" y1="347.25" x2="373.5" y2="374.25" stroke="#1c1c1c" stroke-width="1.25"/>
<line x1="406.25" y1="254.25" x2="380" y2="276.25" stroke="#1c1c1c" stroke-width="1.25"/>
<line x1="375.5" y1="256.75" x2="401.25" y2="282" stroke="#1c1c1c" stroke-width="1.25"/>
<line x1="162.25" y1="238.25" x2="195.25" y2="258.25" stroke="#1c1c1c" stroke-width="1.25"/>
<line x1="162.25" y1="238.25" x2="201.25" y2="275" stroke="#1c1c1c" stroke-width="1.25"/>
<line x1="152.5" y1="285.75" x2="156" y2="331.5" stroke="#1c1c1c" stroke-width="1.25"/>
<line x1="169.25" y1="290" x2="158" y2="313.5" stroke="#1c1c1c" stroke-width="1.25"/>
<line x1="152.5" y1="295.75" x2="198.75" y2="302" stroke="#1c1c1c" stroke-width="1.25"/>
<line x1="166.75" y1="296.75" x2="211.25" y2="300.5" stroke="#1c1c1c" stroke-width="1.25"/>
<line x1="219.25" y1="280.5" x2="258" y2="294.25" stroke="#1c1c1c" stroke-width="1.25"/>
<line x1="210.25" y1="291.5" x2="238.75" y2="324" stroke="#1c1c1c" stroke-width="1.25"/>
<line x1="211.25" y1="300.5" x2="258" y2="294.25" stroke="#1c1c1c" stroke-width="1.25"/>
<line x1="164.5" y1="313.75" x2="185" y2="316.25" stroke="#1c1c1c" stroke-width="1.25"/>
<line x1="210.5" y1="318" x2="220.75" y2="311" stroke="#1c1c1c" stroke-width="1.25"/>
<line x1="380" y1="276.25" x2="401.25" y2="282" stroke="#1c1c1c" stroke-width="1.25"/>
<line x1="418" y1="270.75" x2="413.75" y2="287.5" stroke="#1c1c1c" stroke-width="1.25"/>
<line x1="418" y1="270.75" x2="391" y2="294.5" stroke="#1c1c1c" stroke-width="1.25"/>
<line x1="409.5" y1="275" x2="391.25" y2="309.4" stroke="#1c1c1c" stroke-width="1.25"/>
<line x1="401.25" y1="282" x2="391.25" y2="309.4" stroke="#1c1c1c" stroke-width="1.25"/>
<line x1="379.5" y1="289.5" x2="406.25" y2="254.25" stroke="#1c1c1c" stroke-width="1.25"/>
<line x1="375.75" y1="295.25" x2="409.5" y2="305.75" stroke="#1c1c1c" stroke-width="1.25"/>
<line x1="398.75" y1="290.5" x2="391.25" y2="309.4" stroke="#1c1c1c" stroke-width="1.25"/>
<line x1="423.75" y1="300.5" x2="391.25" y2="309.4" stroke="#1c1c1c" stroke-width="1.25"/>
<line x1="219.25" y1="280.5" x2="220.75" y2="311" stroke="#111" stroke-width="1.9"/>
<line x1="375.5" y1="256.75" x2="406.25" y2="254.25" stroke="#111" stroke-width="1.9"/>
<line x1="362.5" y1="303.2" x2="379.5" y2="289.5" stroke="#111" stroke-width="1.9"/>
<line x1="200.75" y1="210.25" x2="195.25" y2="258.25" stroke="#111" stroke-width="1.9"/>
<line x1="198.75" y1="302" x2="210.5" y2="318" stroke="#080808" stroke-width="2.8"/>
<line x1="246.25" y1="285.25" x2="287" y2="290" stroke="#080808" stroke-width="2.8"/>
</g>
<g class="edges" id="edges-right">
<line x1="750.75" y1="70.25" x2="756" y2="136.75" stroke="#cacaca" stroke-width="0.38"/>
<line x1="772.25" y1="123.5" x2="804.25" y2="123" stroke="#cacaca" stroke-width="0.38"/>
<line x1="772.25" y1="123.5" x2="774" y2="141" stroke="#cacaca" stroke-width="0.38"/>
<line x1="772.25" y1="123.5" x2="764.25" y2="152.5" stroke="#cacaca" stroke-width="0.38"/>
<line x1="772.25" y1="123.5" x2="796.25" y2="157" stroke="#cacaca" stroke-width="0.38"/>
<line x1="868.75" y1="169.5" x2="889.25" y2="237.5" stroke="#cacaca" stroke-width="0.38"/>
<line x1="838" y1="243.75" x2="802.5" y2="274.75" stroke="#cacaca" stroke-width="0.38"/>
<line x1="931.75" y1="228.75" x2="914.75" y2="260.75" stroke="#cacaca" stroke-width="0.38"/>
<line x1="893.75" y1="227" x2="878" y2="230.5" stroke="#cacaca" stroke-width="0.38"/>
<line x1="943" y1="288.5" x2="952.5" y2="270" stroke="#cacaca" stroke-width="0.38"/>
<line x1="943" y1="288.5" x2="916.5" y2="275" stroke="#cacaca" stroke-width="0.38"/>
<line x1="943" y1="288.5" x2="910" y2="285" stroke="#cacaca" stroke-width="0.38"/>
<line x1="943" y1="288.5" x2="938" y2="313.25" stroke="#cacaca" stroke-width="0.38"/>
<line x1="832.5" y1="333.25" x2="854.25" y2="299.5" stroke="#cacaca" stroke-width="0.38"/>
<line x1="832.5" y1="333.25" x2="884" y2="290.5" stroke="#cacaca" stroke-width="0.38"/>
<line x1="832.5" y1="333.25" x2="893" y2="305" stroke="#cacaca" stroke-width="0.38"/>
<line x1="832.5" y1="333.25" x2="906.75" y2="307" stroke="#cacaca" stroke-width="0.38"/>
<line x1="891.75" y1="341.75" x2="903.5" y2="372.75" stroke="#cacaca" stroke-width="0.38"/>
<line x1="877.5" y1="330" x2="884" y2="290.5" stroke="#cacaca" stroke-width="0.38"/>
<line x1="790.5" y1="312.75" x2="802.5" y2="274.75" stroke="#cacaca" stroke-width="0.38"/>
<line x1="817.5" y1="320.5" x2="854.25" y2="299.5" stroke="#cacaca" stroke-width="0.38"/>
<line x1="916.5" y1="304.25" x2="935.75" y2="329.25" stroke="#cacaca" stroke-width="0.38"/>
<line x1="938" y1="313.25" x2="906.75" y2="307" stroke="#cacaca" stroke-width="0.38"/>
<line x1="950.25" y1="327.5" x2="935.75" y2="329.25" stroke="#cacaca" stroke-width="0.38"/>
<line x1="855.25" y1="387.5" x2="880.5" y2="369.75" stroke="#cacaca" stroke-width="0.38"/>
<line x1="850" y1="374" x2="871" y2="341.75" stroke="#cacaca" stroke-width="0.38"/>
<line x1="640.75" y1="375" x2="623" y2="396" stroke="#cacaca" stroke-width="0.38"/>
<line x1="640.75" y1="375" x2="655" y2="356.5" stroke="#cacaca" stroke-width="0.38"/>
<line x1="640.75" y1="375" x2="675.75" y2="367.5" stroke="#cacaca" stroke-width="0.38"/>
<line x1="739.25" y1="324.5" x2="742.5" y2="396" stroke="#cacaca" stroke-width="0.38"/>
<line x1="710.75" y1="357.75" x2="736.75" y2="360.5" stroke="#cacaca" stroke-width="0.38"/>
<line x1="634.5" y1="263" x2="683.25" y2="252" stroke="#cacaca" stroke-width="0.38"/>
<line x1="634.5" y1="263" x2="682" y2="297.75" stroke="#cacaca" stroke-width="0.38"/>
<line x1="641.25" y1="289.5" x2="673.5" y2="285" stroke="#cacaca" stroke-width="0.38"/>
<line x1="658" y1="311.5" x2="686.75" y2="312.75" stroke="#cacaca" stroke-width="0.38"/>
<line x1="802.5" y1="274.75" x2="817.5" y2="320.5" stroke="#cacaca" stroke-width="0.38"/>
<line x1="811.25" y1="284.75" x2="817.5" y2="320.5" stroke="#cacaca" stroke-width="0.38"/>
<line x1="756" y1="136.75" x2="725.75" y2="175.75" stroke="#cacaca" stroke-width="0.38"/>
<line x1="733.25" y1="140.5" x2="746.25" y2="146.25" stroke="#cacaca" stroke-width="0.38"/>
<line x1="774" y1="141" x2="764.25" y2="152.5" stroke="#cacaca" stroke-width="0.38"/>
<line x1="774" y1="141" x2="781" y2="156.5" stroke="#cacaca" stroke-width="0.38"/>
<line x1="746.25" y1="146.25" x2="719" y2="187.5" stroke="#cacaca" stroke-width="0.38"/>
<line x1="723" y1="154.5" x2="741.5" y2="187.25" stroke="#cacaca" stroke-width="0.38"/>
<line x1="781" y1="156.5" x2="770.5" y2="181.5" stroke="#cacaca" stroke-width="0.38"/>
<line x1="776.5" y1="164" x2="725.75" y2="175.75" stroke="#cacaca" stroke-width="0.38"/>
<line x1="776.5" y1="164" x2="733.25" y2="182" stroke="#cacaca" stroke-width="0.38"/>
<line x1="776.5" y1="164" x2="741.5" y2="187.25" stroke="#cacaca" stroke-width="0.38"/>
<line x1="725.75" y1="175.75" x2="713" y2="201.5" stroke="#cacaca" stroke-width="0.38"/>
<line x1="765.5" y1="178.25" x2="754.25" y2="182.25" stroke="#cacaca" stroke-width="0.38"/>
<line x1="719" y1="187.5" x2="720.5" y2="225" stroke="#cacaca" stroke-width="0.38"/>
<line x1="739.75" y1="197.25" x2="693" y2="216.5" stroke="#cacaca" stroke-width="0.38"/>
<line x1="702" y1="202.5" x2="720.5" y2="225" stroke="#cacaca" stroke-width="0.38"/>
<line x1="760.75" y1="213.5" x2="730.75" y2="235.25" stroke="#cacaca" stroke-width="0.38"/>
<line x1="760.75" y1="213.5" x2="766" y2="233.25" stroke="#cacaca" stroke-width="0.38"/>
<line x1="716" y1="233.5" x2="672.75" y2="262" stroke="#cacaca" stroke-width="0.38"/>
<line x1="770.5" y1="181.5" x2="796.25" y2="157" stroke="#cacaca" stroke-width="0.38"/>
<line x1="727.5" y1="273.5" x2="730.75" y2="235.25" stroke="#cacaca" stroke-width="0.38"/>
<line x1="720" y1="288" x2="720" y2="243.25" stroke="#cacaca" stroke-width="0.38"/>
<line x1="720" y1="288" x2="693.75" y2="317.5" stroke="#cacaca" stroke-width="0.38"/>
<line x1="698.4" y1="288" x2="658" y2="311.5" stroke="#cacaca" stroke-width="0.38"/>
<line x1="706.5" y1="292.5" x2="686.75" y2="312.75" stroke="#cacaca" stroke-width="0.38"/>
<line x1="706.5" y1="292.5" x2="745.75" y2="312" stroke="#cacaca" stroke-width="0.38"/>
<line x1="711.9" y1="287.5" x2="705.75" y2="302" stroke="#cacaca" stroke-width="0.38"/>
<line x1="719" y1="295.5" x2="676.75" y2="303.75" stroke="#cacaca" stroke-width="0.38"/>
<line x1="717" y1="259.75" x2="730.75" y2="235.25" stroke="#cacaca" stroke-width="0.38"/>
<line x1="673.5" y1="285" x2="693" y2="326.5" stroke="#cacaca" stroke-width="0.38"/>
<line x1="682" y1="297.75" x2="705.75" y2="302" stroke="#cacaca" stroke-width="0.38"/>
<line x1="682" y1="297.75" x2="711" y2="320" stroke="#cacaca" stroke-width="0.38"/>
<line x1="686.75" y1="312.75" x2="706" y2="326.75" stroke="#cacaca" stroke-width="0.38"/>
<line x1="686.75" y1="312.75" x2="724.75" y2="345" stroke="#cacaca" stroke-width="0.38"/>
<line x1="686.75" y1="312.75" x2="688" y2="361.5" stroke="#cacaca" stroke-width="0.38"/>
<line x1="702" y1="315.25" x2="743.25" y2="305" stroke="#cacaca" stroke-width="0.38"/>
<line x1="702" y1="315.25" x2="724.75" y2="345" stroke="#cacaca" stroke-width="0.38"/>
<line x1="711" y1="320" x2="743.25" y2="305" stroke="#cacaca" stroke-width="0.38"/>
<line x1="706" y1="326.75" x2="702.5" y2="337.25" stroke="#cacaca" stroke-width="0.38"/>
<line x1="674.5" y1="331.5" x2="702.5" y2="337.25" stroke="#cacaca" stroke-width="0.38"/>
<line x1="745.75" y1="312" x2="754.25" y2="316" stroke="#cacaca" stroke-width="0.38"/>
<line x1="761" y1="325.5" x2="724.75" y2="345" stroke="#cacaca" stroke-width="0.38"/>
<line x1="681" y1="346.25" x2="675.75" y2="367.5" stroke="#cacaca" stroke-width="0.38"/>
<line x1="892" y1="256.25" x2="895" y2="277.5" stroke="#cacaca" stroke-width="0.38"/>
<line x1="892" y1="256.25" x2="906" y2="292.25" stroke="#cacaca" stroke-width="0.38"/>
<line x1="892" y1="256.25" x2="903" y2="283.75" stroke="#cacaca" stroke-width="0.38"/>
<line x1="914.75" y1="260.75" x2="893.75" y2="293" stroke="#cacaca" stroke-width="0.38"/>
<line x1="908" y1="265.5" x2="906" y2="292.25" stroke="#cacaca" stroke-width="0.38"/>
<line x1="858" y1="287" x2="893" y2="305" stroke="#cacaca" stroke-width="0.38"/>
<line x1="876.25" y1="273.25" x2="884" y2="290.5" stroke="#cacaca" stroke-width="0.38"/>
<line x1="873" y1="283" x2="885" y2="279.5" stroke="#cacaca" stroke-width="0.38"/>
<line x1="873" y1="283" x2="903" y2="273.25" stroke="#cacaca" stroke-width="0.38"/>
<line x1="873" y1="283" x2="899.25" y2="287" stroke="#cacaca" stroke-width="0.38"/>
<line x1="885" y1="279.5" x2="893.75" y2="293" stroke="#cacaca" stroke-width="0.38"/>
<line x1="885" y1="279.5" x2="899.25" y2="287" stroke="#cacaca" stroke-width="0.38"/>
<line x1="903" y1="273.25" x2="893.75" y2="293" stroke="#cacaca" stroke-width="0.38"/>
<line x1="903" y1="273.25" x2="906.75" y2="307" stroke="#cacaca" stroke-width="0.38"/>
<line x1="895" y1="277.5" x2="922.25" y2="283" stroke="#cacaca" stroke-width="0.38"/>
<line x1="916.5" y1="275" x2="906" y2="292.25" stroke="#cacaca" stroke-width="0.38"/>
<line x1="910" y1="285" x2="903" y2="283.75" stroke="#cacaca" stroke-width="0.38"/>
<line x1="922.25" y1="283" x2="918" y2="293.25" stroke="#cacaca" stroke-width="0.38"/>
<line x1="922.25" y1="283" x2="916.5" y2="304.25" stroke="#cacaca" stroke-width="0.38"/>
<line x1="906" y1="292.25" x2="903" y2="283.75" stroke="#cacaca" stroke-width="0.38"/>
<line x1="903" y1="283.75" x2="906.75" y2="307" stroke="#cacaca" stroke-width="0.38"/>
<line x1="903" y1="283.75" x2="916.5" y2="304.25" stroke="#cacaca" stroke-width="0.38"/>
<line x1="759.5" y1="286.75" x2="788.5" y2="342.5" stroke="#cacaca" stroke-width="0.38"/>
<line x1="761" y1="325.5" x2="788.5" y2="342.5" stroke="#cacaca" stroke-width="0.38"/>
<line x1="724.75" y1="345" x2="830.5" y2="345" stroke="#cacaca" stroke-width="0.38"/>
<line x1="736.75" y1="360.5" x2="830.5" y2="345" stroke="#cacaca" stroke-width="0.38"/>
<line x1="754.25" y1="316" x2="817.5" y2="320.5" stroke="#cacaca" stroke-width="0.38"/>
<line x1="796.25" y1="157" x2="720.5" y2="225" stroke="#cacaca" stroke-width="0.38"/>
<line x1="765.5" y1="178.25" x2="746.75" y2="229.5" stroke="#cacaca" stroke-width="0.38"/>
<line x1="741.5" y1="187.25" x2="706.5" y2="292.5" stroke="#cacaca" stroke-width="0.38"/>
<line x1="713" y1="201.5" x2="760.75" y2="213.5" stroke="#cacaca" stroke-width="0.38"/>
<line x1="713" y1="201.5" x2="739.25" y2="324.5" stroke="#cacaca" stroke-width="0.38"/>
<line x1="720" y1="243.25" x2="761" y2="325.5" stroke="#cacaca" stroke-width="0.38"/>
<line x1="672.75" y1="262" x2="736.75" y2="360.5" stroke="#cacaca" stroke-width="0.38"/>
<line x1="673.5" y1="272.5" x2="681" y2="346.25" stroke="#cacaca" stroke-width="0.38"/>
<line x1="673.5" y1="285" x2="715.5" y2="311.25" stroke="#cacaca" stroke-width="0.38"/>
<line x1="676.75" y1="303.75" x2="675.75" y2="367.5" stroke="#cacaca" stroke-width="0.38"/>
<line x1="715.5" y1="311.25" x2="692.5" y2="353" stroke="#cacaca" stroke-width="0.38"/>
<line x1="761" y1="325.5" x2="675.75" y2="367.5" stroke="#cacaca" stroke-width="0.38"/>
<line x1="838" y1="243.75" x2="952.5" y2="270" stroke="#cacaca" stroke-width="0.38"/>
<line x1="847.25" y1="276.25" x2="832.5" y2="333.25" stroke="#cacaca" stroke-width="0.38"/>
<line x1="884" y1="290.5" x2="891.75" y2="341.75" stroke="#cacaca" stroke-width="0.38"/>
<line x1="916.5" y1="275" x2="935.75" y2="329.25" stroke="#cacaca" stroke-width="0.38"/>
<line x1="893.75" y1="293" x2="817.5" y2="320.5" stroke="#cacaca" stroke-width="0.38"/>
<line x1="730.5" y1="80.5" x2="746.25" y2="146.25" stroke="#a4a4a4" stroke-width="0.42"/>
<line x1="716.5" y1="85.25" x2="746.25" y2="146.25" stroke="#a4a4a4" stroke-width="0.42"/>
<line x1="772.25" y1="123.5" x2="733.25" y2="140.5" stroke="#a4a4a4" stroke-width="0.42"/>
<line x1="804.25" y1="123" x2="796.25" y2="157" stroke="#a4a4a4" stroke-width="0.42"/>
<line x1="804.25" y1="123" x2="822.5" y2="163.75" stroke="#a4a4a4" stroke-width="0.42"/>
<line x1="804.25" y1="123" x2="813.25" y2="164.5" stroke="#a4a4a4" stroke-width="0.42"/>
<line x1="815.25" y1="141.75" x2="813.25" y2="164.5" stroke="#a4a4a4" stroke-width="0.42"/>
<line x1="815.25" y1="141.75" x2="822.5" y2="163.75" stroke="#a4a4a4" stroke-width="0.42"/>
<line x1="774" y1="141" x2="796.25" y2="157" stroke="#a4a4a4" stroke-width="0.42"/>
<line x1="859.25" y1="125" x2="822.5" y2="163.75" stroke="#a4a4a4" stroke-width="0.42"/>
<line x1="872.75" y1="134.75" x2="822.5" y2="163.75" stroke="#a4a4a4" stroke-width="0.42"/>
<line x1="859.25" y1="125" x2="868.75" y2="169.5" stroke="#a4a4a4" stroke-width="0.42"/>
<line x1="872.75" y1="134.75" x2="868.75" y2="169.5" stroke="#a4a4a4" stroke-width="0.42"/>
<line x1="868.75" y1="169.5" x2="817" y2="180.5" stroke="#a4a4a4" stroke-width="0.42"/>
<line x1="702" y1="148.75" x2="719" y2="187.5" stroke="#a4a4a4" stroke-width="0.42"/>
<line x1="709.5" y1="142" x2="723" y2="154.5" stroke="#a4a4a4" stroke-width="0.42"/>
<line x1="850" y1="200.5" x2="893.75" y2="227" stroke="#a4a4a4" stroke-width="0.42"/>
<line x1="871" y1="250.75" x2="914.75" y2="260.75" stroke="#a4a4a4" stroke-width="0.42"/>
<line x1="871" y1="250.75" x2="774.25" y2="208.25" stroke="#a4a4a4" stroke-width="0.42"/>
<line x1="931.75" y1="228.75" x2="871" y2="250.75" stroke="#a4a4a4" stroke-width="0.42"/>
<line x1="914.75" y1="260.75" x2="892" y2="256.25" stroke="#a4a4a4" stroke-width="0.42"/>
<line x1="914.75" y1="260.75" x2="908" y2="265.5" stroke="#a4a4a4" stroke-width="0.42"/>
<line x1="693" y1="216.5" x2="702" y2="202.5" stroke="#a4a4a4" stroke-width="0.42"/>
<line x1="693" y1="216.5" x2="698.5" y2="236.25" stroke="#a4a4a4" stroke-width="0.42"/>
<line x1="914.75" y1="260.75" x2="952.5" y2="270" stroke="#a4a4a4" stroke-width="0.42"/>
<line x1="943" y1="288.5" x2="922.25" y2="283" stroke="#a4a4a4" stroke-width="0.42"/>
<line x1="943" y1="288.5" x2="928.75" y2="293" stroke="#a4a4a4" stroke-width="0.42"/>
<line x1="832.5" y1="333.25" x2="891.75" y2="333.75" stroke="#a4a4a4" stroke-width="0.42"/>
<line x1="832.5" y1="333.25" x2="761" y2="325.5" stroke="#a4a4a4" stroke-width="0.42"/>
<line x1="832.5" y1="333.25" x2="874.25" y2="303" stroke="#a4a4a4" stroke-width="0.42"/>
<line x1="832.5" y1="333.25" x2="880.5" y2="369.75" stroke="#a4a4a4" stroke-width="0.42"/>
<line x1="832.5" y1="333.25" x2="903.5" y2="372.75" stroke="#a4a4a4" stroke-width="0.42"/>
<line x1="891.75" y1="341.75" x2="935.75" y2="329.25" stroke="#a4a4a4" stroke-width="0.42"/>
<line x1="863.25" y1="345" x2="870.5" y2="380.5" stroke="#a4a4a4" stroke-width="0.42"/>
<line x1="788.5" y1="342.5" x2="830.5" y2="345" stroke="#a4a4a4" stroke-width="0.42"/>
<line x1="916.5" y1="304.25" x2="938" y2="313.25" stroke="#a4a4a4" stroke-width="0.42"/>
<line x1="938" y1="313.25" x2="928.75" y2="293" stroke="#a4a4a4" stroke-width="0.42"/>
<line x1="871" y1="341.75" x2="880.5" y2="369.75" stroke="#a4a4a4" stroke-width="0.42"/>
<line x1="870.5" y1="380.5" x2="871" y2="341.75" stroke="#a4a4a4" stroke-width="0.42"/>
<line x1="879.75" y1="381" x2="891.75" y2="341.75" stroke="#a4a4a4" stroke-width="0.42"/>
<line x1="618" y1="369.25" x2="674.5" y2="331.5" stroke="#a4a4a4" stroke-width="0.42"/>
<line x1="618" y1="369.25" x2="640.75" y2="375" stroke="#a4a4a4" stroke-width="0.42"/>
<line x1="640.75" y1="375" x2="670.25" y2="353.25" stroke="#a4a4a4" stroke-width="0.42"/>
<line x1="640.75" y1="375" x2="670.75" y2="361.5" stroke="#a4a4a4" stroke-width="0.42"/>
<line x1="640.75" y1="375" x2="681" y2="346.25" stroke="#a4a4a4" stroke-width="0.42"/>
<line x1="674.5" y1="331.5" x2="655" y2="356.5" stroke="#a4a4a4" stroke-width="0.42"/>
<line x1="739.25" y1="324.5" x2="713.25" y2="372.5" stroke="#a4a4a4" stroke-width="0.42"/>
<line x1="710.75" y1="357.75" x2="692.5" y2="353" stroke="#a4a4a4" stroke-width="0.42"/>
<line x1="710.75" y1="357.75" x2="713.25" y2="372.5" stroke="#a4a4a4" stroke-width="0.42"/>
<line x1="692.5" y1="353" x2="701.75" y2="380.5" stroke="#a4a4a4" stroke-width="0.42"/>
<line x1="692.5" y1="353" x2="688" y2="361.5" stroke="#a4a4a4" stroke-width="0.42"/>
<line x1="713.25" y1="372.5" x2="701.75" y2="380.5" stroke="#a4a4a4" stroke-width="0.42"/>
<line x1="676.75" y1="303.75" x2="658" y2="311.5" stroke="#a4a4a4" stroke-width="0.42"/>
<line x1="781.5" y1="284" x2="778" y2="298.25" stroke="#a4a4a4" stroke-width="0.42"/>
<line x1="802.5" y1="274.75" x2="847.25" y2="276.25" stroke="#a4a4a4" stroke-width="0.42"/>
<line x1="802.5" y1="274.75" x2="788.5" y2="342.5" stroke="#a4a4a4" stroke-width="0.42"/>
<line x1="733.25" y1="140.5" x2="735" y2="150.5" stroke="#a4a4a4" stroke-width="0.42"/>
<line x1="709.5" y1="142" x2="735" y2="150.5" stroke="#a4a4a4" stroke-width="0.42"/>
<line x1="702" y1="148.75" x2="733.25" y2="182" stroke="#a4a4a4" stroke-width="0.42"/>
<line x1="774" y1="141" x2="765.5" y2="178.25" stroke="#a4a4a4" stroke-width="0.42"/>
<line x1="746.25" y1="146.25" x2="796.25" y2="157" stroke="#a4a4a4" stroke-width="0.42"/>
<line x1="746.25" y1="146.25" x2="793.75" y2="171.25" stroke="#a4a4a4" stroke-width="0.42"/>
<line x1="735" y1="150.5" x2="764.25" y2="152.5" stroke="#a4a4a4" stroke-width="0.42"/>
<line x1="735" y1="150.5" x2="776.5" y2="164" stroke="#a4a4a4" stroke-width="0.42"/>
<line x1="735" y1="150.5" x2="770.5" y2="181.5" stroke="#a4a4a4" stroke-width="0.42"/>
<line x1="723" y1="154.5" x2="776.5" y2="164" stroke="#a4a4a4" stroke-width="0.42"/>
<line x1="764.25" y1="152.5" x2="739.75" y2="197.25" stroke="#a4a4a4" stroke-width="0.42"/>
<line x1="764.25" y1="152.5" x2="793.75" y2="171.25" stroke="#a4a4a4" stroke-width="0.42"/>
<line x1="781" y1="156.5" x2="765.5" y2="178.25" stroke="#a4a4a4" stroke-width="0.42"/>
<line x1="776.5" y1="164" x2="770.5" y2="181.5" stroke="#a4a4a4" stroke-width="0.42"/>
<line x1="765.5" y1="178.25" x2="739.75" y2="197.25" stroke="#a4a4a4" stroke-width="0.42"/>
<line x1="733.25" y1="182" x2="741.5" y2="187.25" stroke="#a4a4a4" stroke-width="0.42"/>
<line x1="733.25" y1="182" x2="702" y2="202.5" stroke="#a4a4a4" stroke-width="0.42"/>
<line x1="733.25" y1="182" x2="713" y2="201.5" stroke="#a4a4a4" stroke-width="0.42"/>
<line x1="733.25" y1="182" x2="716" y2="233.5" stroke="#a4a4a4" stroke-width="0.42"/>
<line x1="733.25" y1="182" x2="746.75" y2="229.5" stroke="#a4a4a4" stroke-width="0.42"/>
<line x1="754.25" y1="182.25" x2="770.5" y2="181.5" stroke="#a4a4a4" stroke-width="0.42"/>
<line x1="719" y1="187.5" x2="713" y2="201.5" stroke="#a4a4a4" stroke-width="0.42"/>
<line x1="741.5" y1="187.25" x2="760.75" y2="213.5" stroke="#a4a4a4" stroke-width="0.42"/>
<line x1="741.5" y1="187.25" x2="774.25" y2="208.25" stroke="#a4a4a4" stroke-width="0.42"/>
<line x1="754.75" y1="198" x2="760.75" y2="213.5" stroke="#a4a4a4" stroke-width="0.42"/>
<line x1="702" y1="202.5" x2="684" y2="241.75" stroke="#a4a4a4" stroke-width="0.42"/>
<line x1="693" y1="216.5" x2="717" y2="259.75" stroke="#a4a4a4" stroke-width="0.42"/>
<line x1="720.5" y1="225" x2="683.25" y2="252" stroke="#a4a4a4" stroke-width="0.42"/>
<line x1="698.5" y1="236.25" x2="746.75" y2="229.5" stroke="#a4a4a4" stroke-width="0.42"/>
<line x1="698.5" y1="236.25" x2="683.25" y2="252" stroke="#a4a4a4" stroke-width="0.42"/>
<line x1="716" y1="233.5" x2="720" y2="243.25" stroke="#a4a4a4" stroke-width="0.42"/>
<line x1="716" y1="233.5" x2="683.25" y2="252" stroke="#a4a4a4" stroke-width="0.42"/>
<line x1="716" y1="233.5" x2="756" y2="255" stroke="#a4a4a4" stroke-width="0.42"/>
<line x1="717" y1="259.75" x2="716" y2="233.5" stroke="#a4a4a4" stroke-width="0.42"/>
<line x1="730.75" y1="235.25" x2="778" y2="248" stroke="#a4a4a4" stroke-width="0.42"/>
<line x1="684" y1="241.75" x2="683.25" y2="252" stroke="#a4a4a4" stroke-width="0.42"/>
<line x1="684" y1="241.75" x2="717" y2="259.75" stroke="#a4a4a4" stroke-width="0.42"/>
<line x1="720" y1="243.25" x2="765.75" y2="247.25" stroke="#a4a4a4" stroke-width="0.42"/>
<line x1="683.25" y1="252" x2="673.5" y2="272.5" stroke="#a4a4a4" stroke-width="0.42"/>
<line x1="765.75" y1="247.25" x2="756" y2="255" stroke="#a4a4a4" stroke-width="0.42"/>
<line x1="720" y1="288" x2="717" y2="259.75" stroke="#a4a4a4" stroke-width="0.42"/>
<line x1="720" y1="288" x2="756" y2="255" stroke="#a4a4a4" stroke-width="0.42"/>
<line x1="720" y1="288" x2="673.5" y2="285" stroke="#a4a4a4" stroke-width="0.42"/>
<line x1="700.6" y1="281.25" x2="711.9" y2="287.5" stroke="#a4a4a4" stroke-width="0.42"/>
<line x1="700.6" y1="281.25" x2="719" y2="295.5" stroke="#a4a4a4" stroke-width="0.42"/>
<line x1="698.4" y1="288" x2="673.5" y2="285" stroke="#a4a4a4" stroke-width="0.42"/>
<line x1="698.4" y1="288" x2="715.5" y2="311.25" stroke="#a4a4a4" stroke-width="0.42"/>
<line x1="698.4" y1="288" x2="693" y2="326.5" stroke="#a4a4a4" stroke-width="0.42"/>
<line x1="706.5" y1="292.5" x2="693.75" y2="317.5" stroke="#a4a4a4" stroke-width="0.42"/>
<line x1="706.5" y1="292.5" x2="739.25" y2="324.5" stroke="#a4a4a4" stroke-width="0.42"/>
<line x1="711.9" y1="287.5" x2="743" y2="283.25" stroke="#a4a4a4" stroke-width="0.42"/>
<line x1="711.9" y1="287.5" x2="673.5" y2="272.5" stroke="#a4a4a4" stroke-width="0.42"/>
<line x1="711.9" y1="287.5" x2="686.75" y2="312.75" stroke="#a4a4a4" stroke-width="0.42"/>
<line x1="711.9" y1="287.5" x2="711" y2="320" stroke="#a4a4a4" stroke-width="0.42"/>
<line x1="711.9" y1="287.5" x2="745.75" y2="312" stroke="#a4a4a4" stroke-width="0.42"/>
<line x1="719" y1="295.5" x2="673.5" y2="285" stroke="#a4a4a4" stroke-width="0.42"/>
<line x1="719" y1="295.5" x2="702.5" y2="337.25" stroke="#a4a4a4" stroke-width="0.42"/>
<line x1="720" y1="243.25" x2="730.75" y2="235.25" stroke="#a4a4a4" stroke-width="0.42"/>
<line x1="730.75" y1="235.25" x2="743" y2="283.25" stroke="#a4a4a4" stroke-width="0.42"/>
<line x1="743" y1="283.25" x2="754.25" y2="316" stroke="#a4a4a4" stroke-width="0.42"/>
<line x1="759.5" y1="286.75" x2="739.25" y2="324.5" stroke="#a4a4a4" stroke-width="0.42"/>
<line x1="686.75" y1="312.75" x2="715.5" y2="311.25" stroke="#a4a4a4" stroke-width="0.42"/>
<line x1="686.75" y1="312.75" x2="702.5" y2="337.25" stroke="#a4a4a4" stroke-width="0.42"/>
<line x1="693.75" y1="317.5" x2="702" y2="315.25" stroke="#a4a4a4" stroke-width="0.42"/>
<line x1="693.75" y1="317.5" x2="715.5" y2="311.25" stroke="#a4a4a4" stroke-width="0.42"/>
<line x1="702" y1="315.25" x2="711" y2="320" stroke="#a4a4a4" stroke-width="0.42"/>
<line x1="702" y1="315.25" x2="693" y2="326.5" stroke="#a4a4a4" stroke-width="0.42"/>
<line x1="715.5" y1="311.25" x2="705.75" y2="302" stroke="#a4a4a4" stroke-width="0.42"/>
<line x1="715.5" y1="311.25" x2="745.75" y2="312" stroke="#a4a4a4" stroke-width="0.42"/>
<line x1="715.5" y1="311.25" x2="761" y2="325.5" stroke="#a4a4a4" stroke-width="0.42"/>
<line x1="705.75" y1="302" x2="702.5" y2="337.25" stroke="#a4a4a4" stroke-width="0.42"/>
<line x1="711" y1="320" x2="702.5" y2="337.25" stroke="#a4a4a4" stroke-width="0.42"/>
<line x1="706" y1="326.75" x2="692.5" y2="353" stroke="#a4a4a4" stroke-width="0.42"/>
<line x1="706" y1="326.75" x2="670.75" y2="361.5" stroke="#a4a4a4" stroke-width="0.42"/>
<line x1="693" y1="326.5" x2="674.5" y2="331.5" stroke="#a4a4a4" stroke-width="0.42"/>
<line x1="693" y1="326.5" x2="681" y2="346.25" stroke="#a4a4a4" stroke-width="0.42"/>
<line x1="693" y1="326.5" x2="675.75" y2="367.5" stroke="#a4a4a4" stroke-width="0.42"/>
<line x1="702.5" y1="337.25" x2="688" y2="361.5" stroke="#a4a4a4" stroke-width="0.42"/>
<line x1="702.5" y1="337.25" x2="675.75" y2="367.5" stroke="#a4a4a4" stroke-width="0.42"/>
<line x1="726.25" y1="323.5" x2="745.75" y2="312" stroke="#a4a4a4" stroke-width="0.42"/>
<line x1="739.25" y1="324.5" x2="743.25" y2="305" stroke="#a4a4a4" stroke-width="0.42"/>
<line x1="754.25" y1="316" x2="724.75" y2="345" stroke="#a4a4a4" stroke-width="0.42"/>
<line x1="692.5" y1="353" x2="675.75" y2="367.5" stroke="#a4a4a4" stroke-width="0.42"/>
<line x1="655" y1="356.5" x2="675.75" y2="367.5" stroke="#a4a4a4" stroke-width="0.42"/>
<line x1="871" y1="250.75" x2="908" y2="265.5" stroke="#a4a4a4" stroke-width="0.42"/>
<line x1="892" y1="256.25" x2="876.25" y2="273.25" stroke="#a4a4a4" stroke-width="0.42"/>
<line x1="914.75" y1="260.75" x2="928.75" y2="293" stroke="#a4a4a4" stroke-width="0.42"/>
<line x1="908" y1="265.5" x2="918" y2="293.25" stroke="#a4a4a4" stroke-width="0.42"/>
<line x1="908" y1="265.5" x2="928.75" y2="293" stroke="#a4a4a4" stroke-width="0.42"/>
<line x1="908" y1="265.5" x2="916.5" y2="304.25" stroke="#a4a4a4" stroke-width="0.42"/>
<line x1="827.5" y1="278" x2="847.25" y2="276.25" stroke="#a4a4a4" stroke-width="0.42"/>
<line x1="827.5" y1="278" x2="838.75" y2="285.5" stroke="#a4a4a4" stroke-width="0.42"/>
<line x1="847.25" y1="276.25" x2="858" y2="287" stroke="#a4a4a4" stroke-width="0.42"/>
<line x1="858" y1="287" x2="885" y2="279.5" stroke="#a4a4a4" stroke-width="0.42"/>
<line x1="876.25" y1="273.25" x2="873" y2="283" stroke="#a4a4a4" stroke-width="0.42"/>
<line x1="876.25" y1="273.25" x2="910" y2="285" stroke="#a4a4a4" stroke-width="0.42"/>
<line x1="876.25" y1="273.25" x2="899.25" y2="287" stroke="#a4a4a4" stroke-width="0.42"/>
<line x1="876.25" y1="273.25" x2="874.25" y2="303" stroke="#a4a4a4" stroke-width="0.42"/>
<line x1="873" y1="283" x2="910" y2="285" stroke="#a4a4a4" stroke-width="0.42"/>
<line x1="873" y1="283" x2="906" y2="292.25" stroke="#a4a4a4" stroke-width="0.42"/>
<line x1="884" y1="290.5" x2="916.5" y2="304.25" stroke="#a4a4a4" stroke-width="0.42"/>
<line x1="895" y1="277.5" x2="918" y2="293.25" stroke="#a4a4a4" stroke-width="0.42"/>
<line x1="895" y1="277.5" x2="906.75" y2="307" stroke="#a4a4a4" stroke-width="0.42"/>
<line x1="922.25" y1="283" x2="903" y2="283.75" stroke="#a4a4a4" stroke-width="0.42"/>
<line x1="922.25" y1="283" x2="899.25" y2="287" stroke="#a4a4a4" stroke-width="0.42"/>
<line x1="918" y1="293.25" x2="903" y2="283.75" stroke="#a4a4a4" stroke-width="0.42"/>
<line x1="918" y1="293.25" x2="906.75" y2="307" stroke="#a4a4a4" stroke-width="0.42"/>
<line x1="928.75" y1="293" x2="906" y2="292.25" stroke="#a4a4a4" stroke-width="0.42"/>
<line x1="906" y1="292.25" x2="874.25" y2="303" stroke="#a4a4a4" stroke-width="0.42"/>
<line x1="899.25" y1="287" x2="906.75" y2="307" stroke="#a4a4a4" stroke-width="0.42"/>
<line x1="854.25" y1="299.5" x2="893" y2="305" stroke="#a4a4a4" stroke-width="0.42"/>
<line x1="822.5" y1="163.75" x2="871" y2="250.75" stroke="#a4a4a4" stroke-width="0.42"/>
<line x1="743.25" y1="305" x2="832.5" y2="333.25" stroke="#a4a4a4" stroke-width="0.42"/>
<line x1="739.25" y1="324.5" x2="830.5" y2="345" stroke="#a4a4a4" stroke-width="0.42"/>
<line x1="761" y1="325.5" x2="830.5" y2="345" stroke="#a4a4a4" stroke-width="0.42"/>
<line x1="743" y1="283.25" x2="788.5" y2="342.5" stroke="#a4a4a4" stroke-width="0.42"/>
<line x1="743.25" y1="305" x2="788.5" y2="342.5" stroke="#a4a4a4" stroke-width="0.42"/>
<line x1="739.25" y1="324.5" x2="788.5" y2="342.5" stroke="#a4a4a4" stroke-width="0.42"/>
<line x1="727.5" y1="273.5" x2="832.5" y2="333.25" stroke="#a4a4a4" stroke-width="0.42"/>
<line x1="726.25" y1="323.5" x2="832.5" y2="333.25" stroke="#a4a4a4" stroke-width="0.42"/>
<line x1="761" y1="325.5" x2="790.5" y2="312.75" stroke="#a4a4a4" stroke-width="0.42"/>
<line x1="743.25" y1="305" x2="790.5" y2="312.75" stroke="#a4a4a4" stroke-width="0.42"/>
<line x1="759.5" y1="286.75" x2="790.5" y2="312.75" stroke="#a4a4a4" stroke-width="0.42"/>
<line x1="756" y1="136.75" x2="733.25" y2="182" stroke="#a4a4a4" stroke-width="0.42"/>
<line x1="702" y1="148.75" x2="766" y2="233.25" stroke="#a4a4a4" stroke-width="0.42"/>
<line x1="746.25" y1="146.25" x2="739.75" y2="197.25" stroke="#a4a4a4" stroke-width="0.42"/>
<line x1="746.25" y1="146.25" x2="746.75" y2="229.5" stroke="#a4a4a4" stroke-width="0.42"/>
<line x1="776.5" y1="164" x2="716" y2="233.5" stroke="#a4a4a4" stroke-width="0.42"/>
<line x1="776.5" y1="164" x2="717" y2="259.75" stroke="#a4a4a4" stroke-width="0.42"/>
<line x1="741.5" y1="187.25" x2="778" y2="248" stroke="#a4a4a4" stroke-width="0.42"/>
<line x1="754.75" y1="198" x2="765.75" y2="247.25" stroke="#a4a4a4" stroke-width="0.42"/>
<line x1="713" y1="201.5" x2="683.25" y2="252" stroke="#a4a4a4" stroke-width="0.42"/>
<line x1="713" y1="201.5" x2="717" y2="259.75" stroke="#a4a4a4" stroke-width="0.42"/>
<line x1="693" y1="216.5" x2="766" y2="233.25" stroke="#a4a4a4" stroke-width="0.42"/>
<line x1="760.75" y1="213.5" x2="673.5" y2="272.5" stroke="#a4a4a4" stroke-width="0.42"/>
<line x1="720.5" y1="225" x2="686.75" y2="312.75" stroke="#a4a4a4" stroke-width="0.42"/>
<line x1="730.75" y1="235.25" x2="706.5" y2="292.5" stroke="#a4a4a4" stroke-width="0.42"/>
<line x1="720" y1="243.25" x2="670.75" y2="361.5" stroke="#a4a4a4" stroke-width="0.42"/>
<line x1="765.75" y1="247.25" x2="743" y2="283.25" stroke="#a4a4a4" stroke-width="0.42"/>
<line x1="672.75" y1="262" x2="693.75" y2="317.5" stroke="#a4a4a4" stroke-width="0.42"/>
<line x1="727.5" y1="273.5" x2="781.5" y2="284" stroke="#a4a4a4" stroke-width="0.42"/>
<line x1="673.5" y1="285" x2="670.75" y2="361.5" stroke="#a4a4a4" stroke-width="0.42"/>
<line x1="706.5" y1="292.5" x2="670.75" y2="361.5" stroke="#a4a4a4" stroke-width="0.42"/>
<line x1="682" y1="297.75" x2="726.25" y2="323.5" stroke="#a4a4a4" stroke-width="0.42"/>
<line x1="702.5" y1="337.25" x2="743.25" y2="305" stroke="#a4a4a4" stroke-width="0.42"/>
<line x1="802.5" y1="274.75" x2="858" y2="287" stroke="#a4a4a4" stroke-width="0.42"/>
<line x1="802.5" y1="274.75" x2="910" y2="285" stroke="#a4a4a4" stroke-width="0.42"/>
<line x1="914.75" y1="260.75" x2="871" y2="341.75" stroke="#a4a4a4" stroke-width="0.42"/>
<line x1="811.25" y1="284.75" x2="916.5" y2="275" stroke="#a4a4a4" stroke-width="0.42"/>
<line x1="838.75" y1="285.5" x2="916.5" y2="275" stroke="#a4a4a4" stroke-width="0.42"/>
<line x1="838.75" y1="285.5" x2="891.75" y2="333.75" stroke="#a4a4a4" stroke-width="0.42"/>
<line x1="943" y1="288.5" x2="874.25" y2="303" stroke="#a4a4a4" stroke-width="0.42"/>
<line x1="874.25" y1="303" x2="788.5" y2="342.5" stroke="#a4a4a4" stroke-width="0.42"/>
<line x1="874.25" y1="303" x2="790.5" y2="312.75" stroke="#a4a4a4" stroke-width="0.42"/>
<line x1="916.5" y1="304.25" x2="871" y2="341.75" stroke="#a4a4a4" stroke-width="0.42"/>
<line x1="692.5" y1="353" x2="713.25" y2="372.5" stroke="#a4a4a4" stroke-width="0.42"/>
<line x1="756" y1="136.75" x2="746.25" y2="146.25" stroke="#626262" stroke-width="0.55"/>
<line x1="868.5" y1="126.75" x2="822.5" y2="163.75" stroke="#626262" stroke-width="0.55"/>
<line x1="822.5" y1="163.75" x2="850.5" y2="207.5" stroke="#626262" stroke-width="0.55"/>
<line x1="764.25" y1="152.5" x2="796.25" y2="157" stroke="#626262" stroke-width="0.55"/>
<line x1="776.5" y1="164" x2="796.25" y2="157" stroke="#626262" stroke-width="0.55"/>
<line x1="776.5" y1="164" x2="793.75" y2="171.25" stroke="#626262" stroke-width="0.55"/>
<line x1="792" y1="201" x2="774.25" y2="208.25" stroke="#626262" stroke-width="0.55"/>
<line x1="792" y1="201" x2="793.75" y2="171.25" stroke="#626262" stroke-width="0.55"/>
<line x1="774.25" y1="208.25" x2="776.5" y2="164" stroke="#626262" stroke-width="0.55"/>
<line x1="702" y1="148.75" x2="765.5" y2="178.25" stroke="#626262" stroke-width="0.55"/>
<line x1="735" y1="150.5" x2="754.75" y2="198" stroke="#626262" stroke-width="0.55"/>
<line x1="723" y1="154.5" x2="739.75" y2="197.25" stroke="#626262" stroke-width="0.55"/>
<line x1="723" y1="154.5" x2="754.25" y2="182.25" stroke="#626262" stroke-width="0.55"/>
<line x1="850" y1="200.5" x2="871" y2="250.75" stroke="#626262" stroke-width="0.55"/>
<line x1="850.5" y1="207.5" x2="871" y2="250.75" stroke="#626262" stroke-width="0.55"/>
<line x1="850" y1="200.5" x2="878" y2="230.5" stroke="#626262" stroke-width="0.55"/>
<line x1="889.25" y1="237.5" x2="884" y2="290.5" stroke="#626262" stroke-width="0.55"/>
<line x1="889.25" y1="237.5" x2="893.75" y2="293" stroke="#626262" stroke-width="0.55"/>
<line x1="871" y1="250.75" x2="892" y2="256.25" stroke="#626262" stroke-width="0.55"/>
<line x1="871" y1="250.75" x2="884" y2="290.5" stroke="#626262" stroke-width="0.55"/>
<line x1="871" y1="250.75" x2="893.75" y2="293" stroke="#626262" stroke-width="0.55"/>
<line x1="871" y1="250.75" x2="910" y2="285" stroke="#626262" stroke-width="0.55"/>
<line x1="871" y1="250.75" x2="903" y2="273.25" stroke="#626262" stroke-width="0.55"/>
<line x1="871" y1="250.75" x2="895" y2="277.5" stroke="#626262" stroke-width="0.55"/>
<line x1="871" y1="250.75" x2="802.5" y2="274.75" stroke="#626262" stroke-width="0.55"/>
<line x1="889.25" y1="237.5" x2="893.75" y2="227" stroke="#626262" stroke-width="0.55"/>
<line x1="792" y1="201" x2="802.5" y2="274.75" stroke="#626262" stroke-width="0.55"/>
<line x1="792" y1="201" x2="766" y2="233.25" stroke="#626262" stroke-width="0.55"/>
<line x1="778" y1="248" x2="790.5" y2="266.5" stroke="#626262" stroke-width="0.55"/>
<line x1="765.75" y1="247.25" x2="790.5" y2="266.5" stroke="#626262" stroke-width="0.55"/>
<line x1="943" y1="288.5" x2="1008.5" y2="283" stroke="#626262" stroke-width="0.55"/>
<line x1="943" y1="288.5" x2="1006" y2="307.5" stroke="#626262" stroke-width="0.55"/>
<line x1="892" y1="256.25" x2="885" y2="279.5" stroke="#626262" stroke-width="0.55"/>
<line x1="884" y1="290.5" x2="874.25" y2="303" stroke="#626262" stroke-width="0.55"/>
<line x1="832.5" y1="333.25" x2="891.75" y2="341.75" stroke="#626262" stroke-width="0.55"/>
<line x1="832.5" y1="333.25" x2="754.25" y2="316" stroke="#626262" stroke-width="0.55"/>
<line x1="832.5" y1="333.25" x2="811.25" y2="284.75" stroke="#626262" stroke-width="0.55"/>
<line x1="832.5" y1="333.25" x2="850" y2="374" stroke="#626262" stroke-width="0.55"/>
<line x1="830.5" y1="345" x2="850" y2="374" stroke="#626262" stroke-width="0.55"/>
<line x1="871" y1="341.75" x2="893" y2="305" stroke="#626262" stroke-width="0.55"/>
<line x1="891.75" y1="333.75" x2="893" y2="305" stroke="#626262" stroke-width="0.55"/>
<line x1="891.75" y1="333.75" x2="880.5" y2="369.75" stroke="#626262" stroke-width="0.55"/>
<line x1="891.75" y1="333.75" x2="891.75" y2="341.75" stroke="#626262" stroke-width="0.55"/>
<line x1="854.25" y1="299.5" x2="884" y2="290.5" stroke="#626262" stroke-width="0.55"/>
<line x1="871" y1="341.75" x2="863.25" y2="345" stroke="#626262" stroke-width="0.55"/>
<line x1="739.25" y1="324.5" x2="724.75" y2="345" stroke="#626262" stroke-width="0.55"/>
<line x1="739.25" y1="324.5" x2="719.25" y2="389.5" stroke="#626262" stroke-width="0.55"/>
<line x1="710.75" y1="357.75" x2="729" y2="386.25" stroke="#626262" stroke-width="0.55"/>
<line x1="739.25" y1="324.5" x2="681" y2="346.25" stroke="#626262" stroke-width="0.55"/>
<line x1="739.25" y1="324.5" x2="688" y2="361.5" stroke="#626262" stroke-width="0.55"/>
<line x1="802.5" y1="274.75" x2="781.5" y2="284" stroke="#626262" stroke-width="0.55"/>
<line x1="802.5" y1="274.75" x2="811.25" y2="284.75" stroke="#626262" stroke-width="0.55"/>
<line x1="802.5" y1="274.75" x2="838.75" y2="285.5" stroke="#626262" stroke-width="0.55"/>
<line x1="827.5" y1="278" x2="885" y2="279.5" stroke="#626262" stroke-width="0.55"/>
<line x1="827.5" y1="278" x2="873" y2="283" stroke="#626262" stroke-width="0.55"/>
<line x1="858" y1="287" x2="884" y2="290.5" stroke="#626262" stroke-width="0.55"/>
<line x1="802.5" y1="274.75" x2="759.5" y2="286.75" stroke="#626262" stroke-width="0.55"/>
<line x1="756" y1="136.75" x2="764.25" y2="152.5" stroke="#626262" stroke-width="0.55"/>
<line x1="756" y1="136.75" x2="762" y2="171.75" stroke="#626262" stroke-width="0.55"/>
<line x1="733.25" y1="140.5" x2="781" y2="156.5" stroke="#626262" stroke-width="0.55"/>
<line x1="733.25" y1="140.5" x2="719" y2="187.5" stroke="#626262" stroke-width="0.55"/>
<line x1="709.5" y1="142" x2="725.75" y2="175.75" stroke="#626262" stroke-width="0.55"/>
<line x1="774" y1="141" x2="735" y2="150.5" stroke="#626262" stroke-width="0.55"/>
<line x1="774" y1="141" x2="723" y2="154.5" stroke="#626262" stroke-width="0.55"/>
<line x1="774" y1="141" x2="770.5" y2="181.5" stroke="#626262" stroke-width="0.55"/>
<line x1="774" y1="141" x2="793.75" y2="171.25" stroke="#626262" stroke-width="0.55"/>
<line x1="746.25" y1="146.25" x2="735" y2="150.5" stroke="#626262" stroke-width="0.55"/>
<line x1="746.25" y1="146.25" x2="723" y2="154.5" stroke="#626262" stroke-width="0.55"/>
<line x1="746.25" y1="146.25" x2="741.5" y2="187.25" stroke="#626262" stroke-width="0.55"/>
<line x1="735" y1="150.5" x2="723" y2="154.5" stroke="#626262" stroke-width="0.55"/>
<line x1="735" y1="150.5" x2="725.75" y2="175.75" stroke="#626262" stroke-width="0.55"/>
<line x1="735" y1="150.5" x2="754.25" y2="182.25" stroke="#626262" stroke-width="0.55"/>
<line x1="723" y1="154.5" x2="762" y2="171.75" stroke="#626262" stroke-width="0.55"/>
<line x1="723" y1="154.5" x2="765.5" y2="178.25" stroke="#626262" stroke-width="0.55"/>
<line x1="723" y1="154.5" x2="754.75" y2="198" stroke="#626262" stroke-width="0.55"/>
<line x1="764.25" y1="152.5" x2="765.5" y2="178.25" stroke="#626262" stroke-width="0.55"/>
<line x1="764.25" y1="152.5" x2="770.5" y2="181.5" stroke="#626262" stroke-width="0.55"/>
<line x1="781" y1="156.5" x2="776.5" y2="164" stroke="#626262" stroke-width="0.55"/>
<line x1="781" y1="156.5" x2="733.25" y2="182" stroke="#626262" stroke-width="0.55"/>
<line x1="776.5" y1="164" x2="765.5" y2="178.25" stroke="#626262" stroke-width="0.55"/>
<line x1="776.5" y1="164" x2="739.75" y2="197.25" stroke="#626262" stroke-width="0.55"/>
<line x1="776.5" y1="164" x2="760.75" y2="213.5" stroke="#626262" stroke-width="0.55"/>
<line x1="762" y1="171.75" x2="770.5" y2="181.5" stroke="#626262" stroke-width="0.55"/>
<line x1="725.75" y1="175.75" x2="760.75" y2="213.5" stroke="#626262" stroke-width="0.55"/>
<line x1="765.5" y1="178.25" x2="741.5" y2="187.25" stroke="#626262" stroke-width="0.55"/>
<line x1="765.5" y1="178.25" x2="770.5" y2="181.5" stroke="#626262" stroke-width="0.55"/>
<line x1="733.25" y1="182" x2="730.75" y2="235.25" stroke="#626262" stroke-width="0.55"/>
<line x1="741.5" y1="187.25" x2="739.75" y2="197.25" stroke="#626262" stroke-width="0.55"/>
<line x1="741.5" y1="187.25" x2="754.75" y2="198" stroke="#626262" stroke-width="0.55"/>
<line x1="741.5" y1="187.25" x2="702" y2="202.5" stroke="#626262" stroke-width="0.55"/>
<line x1="739.75" y1="197.25" x2="754.75" y2="198" stroke="#626262" stroke-width="0.55"/>
<line x1="739.75" y1="197.25" x2="720" y2="243.25" stroke="#626262" stroke-width="0.55"/>
<line x1="754.75" y1="198" x2="766" y2="233.25" stroke="#626262" stroke-width="0.55"/>
<line x1="754.75" y1="198" x2="793.75" y2="171.25" stroke="#626262" stroke-width="0.55"/>
<line x1="702" y1="202.5" x2="716" y2="233.5" stroke="#626262" stroke-width="0.55"/>
<line x1="693" y1="216.5" x2="685.75" y2="233.25" stroke="#626262" stroke-width="0.55"/>
<line x1="693" y1="216.5" x2="730.75" y2="235.25" stroke="#626262" stroke-width="0.55"/>
<line x1="760.75" y1="213.5" x2="716" y2="233.5" stroke="#626262" stroke-width="0.55"/>
<line x1="774.25" y1="208.25" x2="730.75" y2="235.25" stroke="#626262" stroke-width="0.55"/>
<line x1="774.25" y1="208.25" x2="756" y2="255" stroke="#626262" stroke-width="0.55"/>
<line x1="774.25" y1="208.25" x2="770.5" y2="181.5" stroke="#626262" stroke-width="0.55"/>
<line x1="720.5" y1="225" x2="730.75" y2="235.25" stroke="#626262" stroke-width="0.55"/>
<line x1="720.5" y1="225" x2="765.75" y2="247.25" stroke="#626262" stroke-width="0.55"/>
<line x1="720.5" y1="225" x2="756" y2="255" stroke="#626262" stroke-width="0.55"/>
<line x1="685.75" y1="233.25" x2="716" y2="233.5" stroke="#626262" stroke-width="0.55"/>
<line x1="685.75" y1="233.25" x2="673.5" y2="272.5" stroke="#626262" stroke-width="0.55"/>
<line x1="716" y1="233.5" x2="730.75" y2="235.25" stroke="#626262" stroke-width="0.55"/>
<line x1="716" y1="233.5" x2="684" y2="241.75" stroke="#626262" stroke-width="0.55"/>
<line x1="730.75" y1="235.25" x2="683.25" y2="252" stroke="#626262" stroke-width="0.55"/>
<line x1="720" y1="243.25" x2="756" y2="255" stroke="#626262" stroke-width="0.55"/>
<line x1="720" y1="243.25" x2="673.5" y2="272.5" stroke="#626262" stroke-width="0.55"/>
<line x1="765.75" y1="247.25" x2="778" y2="248" stroke="#626262" stroke-width="0.55"/>
<line x1="765.75" y1="247.25" x2="717" y2="259.75" stroke="#626262" stroke-width="0.55"/>
<line x1="720" y1="288" x2="676.75" y2="303.75" stroke="#626262" stroke-width="0.55"/>
<line x1="720" y1="288" x2="743.25" y2="305" stroke="#626262" stroke-width="0.55"/>
<line x1="700.6" y1="281.25" x2="686.75" y2="312.75" stroke="#626262" stroke-width="0.55"/>
<line x1="698.4" y1="288" x2="719" y2="295.5" stroke="#626262" stroke-width="0.55"/>
<line x1="698.4" y1="288" x2="743" y2="283.25" stroke="#626262" stroke-width="0.55"/>
<line x1="698.4" y1="288" x2="743.25" y2="305" stroke="#626262" stroke-width="0.55"/>
<line x1="706.5" y1="292.5" x2="673.5" y2="272.5" stroke="#626262" stroke-width="0.55"/>
<line x1="706.5" y1="292.5" x2="702" y2="315.25" stroke="#626262" stroke-width="0.55"/>
<line x1="706.5" y1="292.5" x2="715.5" y2="311.25" stroke="#626262" stroke-width="0.55"/>
<line x1="706.5" y1="292.5" x2="711" y2="320" stroke="#626262" stroke-width="0.55"/>
<line x1="711.9" y1="287.5" x2="717" y2="259.75" stroke="#626262" stroke-width="0.55"/>
<line x1="711.9" y1="287.5" x2="715.5" y2="311.25" stroke="#626262" stroke-width="0.55"/>
<line x1="711.9" y1="287.5" x2="726.25" y2="323.5" stroke="#626262" stroke-width="0.55"/>
<line x1="711.9" y1="287.5" x2="743.25" y2="305" stroke="#626262" stroke-width="0.55"/>
<line x1="719" y1="295.5" x2="743.25" y2="305" stroke="#626262" stroke-width="0.55"/>
<line x1="719" y1="295.5" x2="724.75" y2="345" stroke="#626262" stroke-width="0.55"/>
<line x1="756" y1="255" x2="743" y2="283.25" stroke="#626262" stroke-width="0.55"/>
<line x1="743" y1="283.25" x2="743.25" y2="305" stroke="#626262" stroke-width="0.55"/>
<line x1="759.5" y1="286.75" x2="745.75" y2="312" stroke="#626262" stroke-width="0.55"/>
<line x1="673.5" y1="285" x2="682" y2="297.75" stroke="#626262" stroke-width="0.55"/>
<line x1="673.5" y1="285" x2="658" y2="311.5" stroke="#626262" stroke-width="0.55"/>
<line x1="682" y1="297.75" x2="702" y2="315.25" stroke="#626262" stroke-width="0.55"/>
<line x1="682" y1="297.75" x2="715.5" y2="311.25" stroke="#626262" stroke-width="0.55"/>
<line x1="682" y1="297.75" x2="693" y2="326.5" stroke="#626262" stroke-width="0.55"/>
<line x1="682" y1="297.75" x2="702.5" y2="337.25" stroke="#626262" stroke-width="0.55"/>
<line x1="673.5" y1="272.5" x2="693.75" y2="317.5" stroke="#626262" stroke-width="0.55"/>
<line x1="686.75" y1="312.75" x2="693.75" y2="317.5" stroke="#626262" stroke-width="0.55"/>
<line x1="686.75" y1="312.75" x2="692.5" y2="353" stroke="#626262" stroke-width="0.55"/>
<line x1="702" y1="315.25" x2="670.25" y2="353.25" stroke="#626262" stroke-width="0.55"/>
<line x1="715.5" y1="311.25" x2="726.25" y2="323.5" stroke="#626262" stroke-width="0.55"/>
<line x1="715.5" y1="311.25" x2="739.25" y2="324.5" stroke="#626262" stroke-width="0.55"/>
<line x1="705.75" y1="302" x2="739.25" y2="324.5" stroke="#626262" stroke-width="0.55"/>
<line x1="705.75" y1="302" x2="743.25" y2="305" stroke="#626262" stroke-width="0.55"/>
<line x1="711" y1="320" x2="674.5" y2="331.5" stroke="#626262" stroke-width="0.55"/>
<line x1="711" y1="320" x2="754.25" y2="316" stroke="#626262" stroke-width="0.55"/>
<line x1="711" y1="320" x2="710.75" y2="357.75" stroke="#626262" stroke-width="0.55"/>
<line x1="711" y1="320" x2="688" y2="361.5" stroke="#626262" stroke-width="0.55"/>
<line x1="706" y1="326.75" x2="754.25" y2="316" stroke="#626262" stroke-width="0.55"/>
<line x1="693" y1="326.5" x2="724.75" y2="345" stroke="#626262" stroke-width="0.55"/>
<line x1="693" y1="326.5" x2="710.75" y2="357.75" stroke="#626262" stroke-width="0.55"/>
<line x1="693" y1="326.5" x2="655" y2="356.5" stroke="#626262" stroke-width="0.55"/>
<line x1="693" y1="326.5" x2="670.75" y2="361.5" stroke="#626262" stroke-width="0.55"/>
<line x1="674.5" y1="331.5" x2="710.75" y2="357.75" stroke="#626262" stroke-width="0.55"/>
<line x1="702.5" y1="337.25" x2="726.25" y2="323.5" stroke="#626262" stroke-width="0.55"/>
<line x1="726.25" y1="323.5" x2="743.25" y2="305" stroke="#626262" stroke-width="0.55"/>
<line x1="739.25" y1="324.5" x2="745.75" y2="312" stroke="#626262" stroke-width="0.55"/>
<line x1="743.25" y1="305" x2="724.75" y2="345" stroke="#626262" stroke-width="0.55"/>
<line x1="745.75" y1="312" x2="761" y2="325.5" stroke="#626262" stroke-width="0.55"/>
<line x1="724.75" y1="345" x2="710.75" y2="357.75" stroke="#626262" stroke-width="0.55"/>
<line x1="692.5" y1="353" x2="670.25" y2="353.25" stroke="#626262" stroke-width="0.55"/>
<line x1="692.5" y1="353" x2="670.75" y2="361.5" stroke="#626262" stroke-width="0.55"/>
<line x1="688" y1="361.5" x2="675.75" y2="367.5" stroke="#626262" stroke-width="0.55"/>
<line x1="871" y1="250.75" x2="858" y2="287" stroke="#626262" stroke-width="0.55"/>
<line x1="892" y1="256.25" x2="873" y2="283" stroke="#626262" stroke-width="0.55"/>
<line x1="892" y1="256.25" x2="903" y2="273.25" stroke="#626262" stroke-width="0.55"/>
<line x1="892" y1="256.25" x2="899.25" y2="287" stroke="#626262" stroke-width="0.55"/>
<line x1="914.75" y1="260.75" x2="885" y2="279.5" stroke="#626262" stroke-width="0.55"/>
<line x1="914.75" y1="260.75" x2="916.5" y2="275" stroke="#626262" stroke-width="0.55"/>
<line x1="908" y1="265.5" x2="873" y2="283" stroke="#626262" stroke-width="0.55"/>
<line x1="908" y1="265.5" x2="922.25" y2="283" stroke="#626262" stroke-width="0.55"/>
<line x1="908" y1="265.5" x2="903" y2="283.75" stroke="#626262" stroke-width="0.55"/>
<line x1="827.5" y1="278" x2="858" y2="287" stroke="#626262" stroke-width="0.55"/>
<line x1="838.75" y1="285.5" x2="874.25" y2="303" stroke="#626262" stroke-width="0.55"/>
<line x1="876.25" y1="273.25" x2="903" y2="283.75" stroke="#626262" stroke-width="0.55"/>
<line x1="873" y1="283" x2="884" y2="290.5" stroke="#626262" stroke-width="0.55"/>
<line x1="873" y1="283" x2="895" y2="277.5" stroke="#626262" stroke-width="0.55"/>
<line x1="873" y1="283" x2="893.75" y2="293" stroke="#626262" stroke-width="0.55"/>
<line x1="873" y1="283" x2="854.25" y2="299.5" stroke="#626262" stroke-width="0.55"/>
<line x1="885" y1="279.5" x2="895" y2="277.5" stroke="#626262" stroke-width="0.55"/>
<line x1="885" y1="279.5" x2="922.25" y2="283" stroke="#626262" stroke-width="0.55"/>
<line x1="884" y1="290.5" x2="922.25" y2="283" stroke="#626262" stroke-width="0.55"/>
<line x1="884" y1="290.5" x2="918" y2="293.25" stroke="#626262" stroke-width="0.55"/>
<line x1="895" y1="277.5" x2="893.75" y2="293" stroke="#626262" stroke-width="0.55"/>
<line x1="895" y1="277.5" x2="916.5" y2="304.25" stroke="#626262" stroke-width="0.55"/>
<line x1="916.5" y1="275" x2="918" y2="293.25" stroke="#626262" stroke-width="0.55"/>
<line x1="916.5" y1="275" x2="906.75" y2="307" stroke="#626262" stroke-width="0.55"/>
<line x1="910" y1="285" x2="893.75" y2="293" stroke="#626262" stroke-width="0.55"/>
<line x1="910" y1="285" x2="928.75" y2="293" stroke="#626262" stroke-width="0.55"/>
<line x1="922.25" y1="283" x2="906" y2="292.25" stroke="#626262" stroke-width="0.55"/>
<line x1="918" y1="293.25" x2="928.75" y2="293" stroke="#626262" stroke-width="0.55"/>
<line x1="918" y1="293.25" x2="916.5" y2="304.25" stroke="#626262" stroke-width="0.55"/>
<line x1="928.75" y1="293" x2="903" y2="283.75" stroke="#626262" stroke-width="0.55"/>
<line x1="928.75" y1="293" x2="916.5" y2="304.25" stroke="#626262" stroke-width="0.55"/>
<line x1="806.6" y1="175" x2="774.25" y2="208.25" stroke="#626262" stroke-width="0.55"/>
<line x1="793.75" y1="171.25" x2="774.25" y2="208.25" stroke="#626262" stroke-width="0.55"/>
<line x1="822.5" y1="163.75" x2="792" y2="201" stroke="#626262" stroke-width="0.55"/>
<line x1="817" y1="180.5" x2="792" y2="201" stroke="#626262" stroke-width="0.55"/>
<line x1="813.25" y1="164.5" x2="850" y2="200.5" stroke="#626262" stroke-width="0.55"/>
<line x1="739.25" y1="324.5" x2="832.5" y2="333.25" stroke="#626262" stroke-width="0.55"/>
<line x1="756" y1="136.75" x2="717" y2="259.75" stroke="#626262" stroke-width="0.55"/>
<line x1="733.25" y1="140.5" x2="746.75" y2="229.5" stroke="#626262" stroke-width="0.55"/>
<line x1="702" y1="148.75" x2="760.75" y2="213.5" stroke="#626262" stroke-width="0.55"/>
<line x1="793.75" y1="171.25" x2="739.75" y2="197.25" stroke="#626262" stroke-width="0.55"/>
<line x1="793.75" y1="171.25" x2="778" y2="248" stroke="#626262" stroke-width="0.55"/>
<line x1="725.75" y1="175.75" x2="683.25" y2="252" stroke="#626262" stroke-width="0.55"/>
<line x1="733.25" y1="182" x2="672.75" y2="262" stroke="#626262" stroke-width="0.55"/>
<line x1="739.75" y1="197.25" x2="720" y2="288" stroke="#626262" stroke-width="0.55"/>
<line x1="754.75" y1="198" x2="720" y2="288" stroke="#626262" stroke-width="0.55"/>
<line x1="760.75" y1="213.5" x2="672.75" y2="262" stroke="#626262" stroke-width="0.55"/>
<line x1="760.75" y1="213.5" x2="686.75" y2="312.75" stroke="#626262" stroke-width="0.55"/>
<line x1="698.5" y1="236.25" x2="700.6" y2="281.25" stroke="#626262" stroke-width="0.55"/>
<line x1="730.75" y1="235.25" x2="673.5" y2="285" stroke="#626262" stroke-width="0.55"/>
<line x1="730.75" y1="235.25" x2="736.75" y2="360.5" stroke="#626262" stroke-width="0.55"/>
<line x1="746.75" y1="229.5" x2="720" y2="288" stroke="#626262" stroke-width="0.55"/>
<line x1="746.75" y1="229.5" x2="739.25" y2="324.5" stroke="#626262" stroke-width="0.55"/>
<line x1="766" y1="233.25" x2="672.75" y2="262" stroke="#626262" stroke-width="0.55"/>
<line x1="766" y1="233.25" x2="724.75" y2="345" stroke="#626262" stroke-width="0.55"/>
<line x1="683.25" y1="252" x2="726.25" y2="323.5" stroke="#626262" stroke-width="0.55"/>
<line x1="673.5" y1="272.5" x2="726.25" y2="323.5" stroke="#626262" stroke-width="0.55"/>
<line x1="727.5" y1="273.5" x2="788.5" y2="342.5" stroke="#626262" stroke-width="0.55"/>
<line x1="788.5" y1="342.5" x2="675.75" y2="367.5" stroke="#626262" stroke-width="0.55"/>
<line x1="811.25" y1="284.75" x2="871" y2="341.75" stroke="#626262" stroke-width="0.55"/>
<line x1="858" y1="287" x2="906.75" y2="307" stroke="#626262" stroke-width="0.55"/>
<line x1="873" y1="283" x2="906.75" y2="307" stroke="#626262" stroke-width="0.55"/>
<line x1="885" y1="279.5" x2="935.75" y2="329.25" stroke="#626262" stroke-width="0.55"/>
<line x1="916.5" y1="275" x2="877.5" y2="330" stroke="#626262" stroke-width="0.55"/>
<line x1="910" y1="285" x2="832.5" y2="333.25" stroke="#626262" stroke-width="0.55"/>
<line x1="830.5" y1="345" x2="790.5" y2="312.75" stroke="#626262" stroke-width="0.55"/>
<line x1="811.25" y1="284.75" x2="838.75" y2="285.5" stroke="#626262" stroke-width="0.55"/>
<line x1="815.25" y1="141.75" x2="796.25" y2="157" stroke="#383838" stroke-width="0.68"/>
<line x1="868.5" y1="126.75" x2="868.75" y2="169.5" stroke="#383838" stroke-width="0.68"/>
<line x1="868.75" y1="169.5" x2="822.5" y2="163.75" stroke="#383838" stroke-width="0.68"/>
<line x1="822.5" y1="163.75" x2="850" y2="200.5" stroke="#383838" stroke-width="0.68"/>
<line x1="817" y1="180.5" x2="850.5" y2="207.5" stroke="#383838" stroke-width="0.68"/>
<line x1="762" y1="171.75" x2="796.25" y2="157" stroke="#383838" stroke-width="0.68"/>
<line x1="765.5" y1="178.25" x2="793.75" y2="171.25" stroke="#383838" stroke-width="0.68"/>
<line x1="765.5" y1="178.25" x2="806.6" y2="175" stroke="#383838" stroke-width="0.68"/>
<line x1="806.6" y1="175" x2="792" y2="201" stroke="#383838" stroke-width="0.68"/>
<line x1="850" y1="200.5" x2="889.25" y2="237.5" stroke="#383838" stroke-width="0.68"/>
<line x1="850.5" y1="207.5" x2="889.25" y2="237.5" stroke="#383838" stroke-width="0.68"/>
<line x1="878" y1="230.5" x2="871" y2="250.75" stroke="#383838" stroke-width="0.68"/>
<line x1="889.25" y1="237.5" x2="892" y2="256.25" stroke="#383838" stroke-width="0.68"/>
<line x1="889.25" y1="237.5" x2="885" y2="279.5" stroke="#383838" stroke-width="0.68"/>
<line x1="871" y1="250.75" x2="885" y2="279.5" stroke="#383838" stroke-width="0.68"/>
<line x1="774.25" y1="208.25" x2="790.5" y2="266.5" stroke="#383838" stroke-width="0.68"/>
<line x1="774.25" y1="208.25" x2="727.5" y2="273.5" stroke="#383838" stroke-width="0.68"/>
<line x1="943" y1="288.5" x2="1008.5" y2="296.5" stroke="#383838" stroke-width="0.68"/>
<line x1="892" y1="256.25" x2="893.75" y2="293" stroke="#383838" stroke-width="0.68"/>
<line x1="884" y1="290.5" x2="893" y2="305" stroke="#383838" stroke-width="0.68"/>
<line x1="832.5" y1="333.25" x2="863.25" y2="345" stroke="#383838" stroke-width="0.68"/>
<line x1="830.5" y1="345" x2="863.25" y2="345" stroke="#383838" stroke-width="0.68"/>
<line x1="832.5" y1="333.25" x2="871" y2="341.75" stroke="#383838" stroke-width="0.68"/>
<line x1="891.75" y1="341.75" x2="893" y2="305" stroke="#383838" stroke-width="0.68"/>
<line x1="891.75" y1="341.75" x2="880.5" y2="369.75" stroke="#383838" stroke-width="0.68"/>
<line x1="739.25" y1="324.5" x2="692.5" y2="353" stroke="#383838" stroke-width="0.68"/>
<line x1="739.25" y1="324.5" x2="736.75" y2="360.5" stroke="#383838" stroke-width="0.68"/>
<line x1="739.25" y1="324.5" x2="729" y2="386.25" stroke="#383838" stroke-width="0.68"/>
<line x1="702.5" y1="337.25" x2="692.5" y2="353" stroke="#383838" stroke-width="0.68"/>
<line x1="720" y1="288" x2="726.25" y2="323.5" stroke="#383838" stroke-width="0.68"/>
<line x1="727.5" y1="273.5" x2="743.25" y2="305" stroke="#383838" stroke-width="0.68"/>
<line x1="727.5" y1="273.5" x2="754.25" y2="316" stroke="#383838" stroke-width="0.68"/>
<line x1="802.5" y1="274.75" x2="827.5" y2="278" stroke="#383838" stroke-width="0.68"/>
<line x1="838.75" y1="285.5" x2="884" y2="290.5" stroke="#383838" stroke-width="0.68"/>
<line x1="838.75" y1="285.5" x2="854.25" y2="299.5" stroke="#383838" stroke-width="0.68"/>
<line x1="746.25" y1="146.25" x2="765.5" y2="178.25" stroke="#383838" stroke-width="0.68"/>
<line x1="723" y1="154.5" x2="713" y2="201.5" stroke="#383838" stroke-width="0.68"/>
<line x1="725.75" y1="175.75" x2="754.75" y2="198" stroke="#383838" stroke-width="0.68"/>
<line x1="725.75" y1="175.75" x2="720.5" y2="225" stroke="#383838" stroke-width="0.68"/>
<line x1="754.25" y1="182.25" x2="774.25" y2="208.25" stroke="#383838" stroke-width="0.68"/>
<line x1="754.25" y1="182.25" x2="720.5" y2="225" stroke="#383838" stroke-width="0.68"/>
<line x1="754.25" y1="182.25" x2="796.25" y2="157" stroke="#383838" stroke-width="0.68"/>
<line x1="719" y1="187.5" x2="754.75" y2="198" stroke="#383838" stroke-width="0.68"/>
<line x1="741.5" y1="187.25" x2="766" y2="233.25" stroke="#383838" stroke-width="0.68"/>
<line x1="702" y1="202.5" x2="685.75" y2="233.25" stroke="#383838" stroke-width="0.68"/>
<line x1="702" y1="202.5" x2="698.5" y2="236.25" stroke="#383838" stroke-width="0.68"/>
<line x1="720.5" y1="225" x2="684" y2="241.75" stroke="#383838" stroke-width="0.68"/>
<line x1="766" y1="233.25" x2="778" y2="248" stroke="#383838" stroke-width="0.68"/>
<line x1="672.75" y1="262" x2="673.5" y2="272.5" stroke="#383838" stroke-width="0.68"/>
<line x1="698.4" y1="288" x2="676.75" y2="303.75" stroke="#383838" stroke-width="0.68"/>
<line x1="698.4" y1="288" x2="711" y2="320" stroke="#383838" stroke-width="0.68"/>
<line x1="706.5" y1="292.5" x2="711.9" y2="287.5" stroke="#383838" stroke-width="0.68"/>
<line x1="711.9" y1="287.5" x2="739.25" y2="324.5" stroke="#383838" stroke-width="0.68"/>
<line x1="743" y1="283.25" x2="715.5" y2="311.25" stroke="#383838" stroke-width="0.68"/>
<line x1="743" y1="283.25" x2="761" y2="325.5" stroke="#383838" stroke-width="0.68"/>
<line x1="673.5" y1="285" x2="693.75" y2="317.5" stroke="#383838" stroke-width="0.68"/>
<line x1="715.5" y1="311.25" x2="706" y2="326.75" stroke="#383838" stroke-width="0.68"/>
<line x1="705.75" y1="302" x2="711" y2="320" stroke="#383838" stroke-width="0.68"/>
<line x1="705.75" y1="302" x2="674.5" y2="331.5" stroke="#383838" stroke-width="0.68"/>
<line x1="706" y1="326.75" x2="739.25" y2="324.5" stroke="#383838" stroke-width="0.68"/>
<line x1="706" y1="326.75" x2="688" y2="361.5" stroke="#383838" stroke-width="0.68"/>
<line x1="726.25" y1="323.5" x2="692.5" y2="353" stroke="#383838" stroke-width="0.68"/>
<line x1="681" y1="346.25" x2="670.25" y2="353.25" stroke="#383838" stroke-width="0.68"/>
<line x1="670.25" y1="353.25" x2="655" y2="356.5" stroke="#383838" stroke-width="0.68"/>
<line x1="871" y1="250.75" x2="873" y2="283" stroke="#383838" stroke-width="0.68"/>
<line x1="908" y1="265.5" x2="885" y2="279.5" stroke="#383838" stroke-width="0.68"/>
<line x1="908" y1="265.5" x2="884" y2="290.5" stroke="#383838" stroke-width="0.68"/>
<line x1="908" y1="265.5" x2="910" y2="285" stroke="#383838" stroke-width="0.68"/>
<line x1="827.5" y1="278" x2="854.25" y2="299.5" stroke="#383838" stroke-width="0.68"/>
<line x1="838.75" y1="285.5" x2="858" y2="287" stroke="#383838" stroke-width="0.68"/>
<line x1="858" y1="287" x2="893.75" y2="293" stroke="#383838" stroke-width="0.68"/>
<line x1="876.25" y1="273.25" x2="885" y2="279.5" stroke="#383838" stroke-width="0.68"/>
<line x1="876.25" y1="273.25" x2="893.75" y2="293" stroke="#383838" stroke-width="0.68"/>
<line x1="876.25" y1="273.25" x2="893" y2="305" stroke="#383838" stroke-width="0.68"/>
<line x1="873" y1="283" x2="874.25" y2="303" stroke="#383838" stroke-width="0.68"/>
<line x1="885" y1="279.5" x2="903" y2="283.75" stroke="#383838" stroke-width="0.68"/>
<line x1="884" y1="290.5" x2="916.5" y2="275" stroke="#383838" stroke-width="0.68"/>
<line x1="884" y1="290.5" x2="903" y2="283.75" stroke="#383838" stroke-width="0.68"/>
<line x1="895" y1="277.5" x2="874.25" y2="303" stroke="#383838" stroke-width="0.68"/>
<line x1="916.5" y1="275" x2="928.75" y2="293" stroke="#383838" stroke-width="0.68"/>
<line x1="916.5" y1="275" x2="903" y2="283.75" stroke="#383838" stroke-width="0.68"/>
<line x1="893.75" y1="293" x2="918" y2="293.25" stroke="#383838" stroke-width="0.68"/>
<line x1="918" y1="293.25" x2="899.25" y2="287" stroke="#383838" stroke-width="0.68"/>
<line x1="893" y1="305" x2="916.5" y2="304.25" stroke="#383838" stroke-width="0.68"/>
<line x1="806.6" y1="175" x2="850.5" y2="207.5" stroke="#383838" stroke-width="0.68"/>
<line x1="802.5" y1="274.75" x2="854.25" y2="299.5" stroke="#383838" stroke-width="0.68"/>
<line x1="806.6" y1="175" x2="850" y2="200.5" stroke="#1c1c1c" stroke-width="1.06"/>
<line x1="819.5" y1="170.75" x2="850" y2="200.5" stroke="#1c1c1c" stroke-width="1.06"/>
<line x1="762" y1="171.75" x2="793.75" y2="171.25" stroke="#1c1c1c" stroke-width="1.06"/>
<line x1="889.25" y1="237.5" x2="871" y2="250.75" stroke="#1c1c1c" stroke-width="1.06"/>
<line x1="802.5" y1="274.75" x2="727.5" y2="273.5" stroke="#1c1c1c" stroke-width="1.06"/>
<line x1="778" y1="298.25" x2="802.5" y2="274.75" stroke="#1c1c1c" stroke-width="1.06"/>
<line x1="778" y1="298.25" x2="811.25" y2="284.75" stroke="#1c1c1c" stroke-width="1.06"/>
<line x1="727.5" y1="273.5" x2="739.25" y2="324.5" stroke="#1c1c1c" stroke-width="1.06"/>
<line x1="743" y1="283.25" x2="739.25" y2="324.5" stroke="#1c1c1c" stroke-width="1.06"/>
<line x1="720" y1="288" x2="739.25" y2="324.5" stroke="#1c1c1c" stroke-width="1.06"/>
<line x1="914.75" y1="260.75" x2="895" y2="277.5" stroke="#1c1c1c" stroke-width="1.06"/>
<line x1="847.25" y1="276.25" x2="876.25" y2="273.25" stroke="#1c1c1c" stroke-width="1.06"/>
<line x1="847.25" y1="276.25" x2="884" y2="290.5" stroke="#1c1c1c" stroke-width="1.06"/>
<line x1="858" y1="287" x2="873" y2="283" stroke="#1c1c1c" stroke-width="1.06"/>
<line x1="893.75" y1="293" x2="906.75" y2="307" stroke="#1c1c1c" stroke-width="1.06"/>
<line x1="893.75" y1="293" x2="916.5" y2="304.25" stroke="#1c1c1c" stroke-width="1.06"/>
<line x1="874.25" y1="303" x2="906.75" y2="307" stroke="#1c1c1c" stroke-width="1.06"/>
<line x1="817" y1="180.5" x2="850" y2="200.5" stroke="#111" stroke-width="1.61"/>
<line x1="739.25" y1="324.5" x2="710.75" y2="357.75" stroke="#111" stroke-width="1.61"/>
<line x1="802.5" y1="274.75" x2="743" y2="283.25" stroke="#111" stroke-width="1.61"/>
</g>
<g id="leaders-under">
<line x1="127.5" y1="147.5" x2="199" y2="147.5" stroke="#E9D05C" stroke-width="0.9"/>
<line x1="74" y1="280.5" x2="183" y2="280.5" stroke="#E9D05C" stroke-width="0.9"/>
<line x1="591.25" y1="277.3" x2="700" y2="277.3" stroke="#E9D05C" stroke-width="0.9"/>

</g>
<g class="nodes" id="nodes-left">
<circle cx="265.75" cy="82.5" r="6.3" fill="#E8CF57"/>
<circle cx="280.25" cy="83.75" r="6.3" fill="#D99BCB"/>
<circle cx="296.75" cy="109.75" r="6.3" fill="#5C487C"/>
<circle cx="306" cy="124.75" r="6.3" fill="#D99BCB"/>
<circle cx="239.25" cy="119" r="6.3" fill="#E8CF57"/>
<circle cx="199" cy="129.5" r="6.3" fill="#E8CF57"/>
<circle cx="242" cy="134.25" r="6.3" fill="#5C487C"/>
<circle cx="253.5" cy="134" r="6.3" fill="#D99BCB"/>
<circle cx="265.75" cy="141.5" r="6.3" fill="#5C487C"/>
<circle cx="277.75" cy="143" r="6.3" fill="#E8CF57"/>
<circle cx="240.75" cy="143.75" r="6.3" fill="#E8CF57"/>
<circle cx="233" cy="146.75" r="6.3" fill="#5C487C"/>
<circle cx="203.25" cy="148.25" r="6.3" fill="#E8CF57"/>
<circle cx="280.75" cy="152" r="3.2" fill="#D99BCB"/>
<circle cx="261" cy="154.5" r="2.2" fill="#5C487C"/>
<circle cx="233.5" cy="157" r="6.3" fill="#E8CF57"/>
<circle cx="332.75" cy="154.5" r="6.3" fill="#A8301C"/>
<circle cx="363.75" cy="159.25" r="6.3" fill="#8F4588"/>
<circle cx="224" cy="161.25" r="6.3" fill="#8F4588"/>
<circle cx="214.25" cy="163.5" r="2.2" fill="#8F4588"/>
<circle cx="259" cy="161.25" r="2.7" fill="#5C487C"/>
<circle cx="268.75" cy="170" r="5.3" fill="#D99BCB"/>
<circle cx="290.75" cy="157.5" r="5.3" fill="#B7D5E8" stroke="#fff" stroke-width="0.7"/>
<circle cx="275.75" cy="166.25" r="7.8" fill="#B7D5E8" stroke="#fff" stroke-width="0.7"/>
<circle cx="297.5" cy="173.75" r="10.3" fill="#B7D5E8" stroke="#fff" stroke-width="0.7"/>
<circle cx="290.75" cy="169.25" r="7.3" fill="#B7D5E8" stroke="#fff" stroke-width="0.7"/>
<circle cx="285" cy="176.75" r="5.3" fill="#B7D5E8" stroke="#fff" stroke-width="0.7"/>
<circle cx="246.75" cy="168.25" r="3.2" fill="#5C487C"/>
<circle cx="238" cy="165" r="1.7" fill="#5C487C"/>
<circle cx="254.25" cy="171.75" r="4.8" fill="#B7D5E8"/>
<circle cx="232.25" cy="169.5" r="6.3" fill="#E8CF57"/>
<circle cx="204.25" cy="166.75" r="6.3" fill="#E8CF57"/>
<circle cx="179" cy="165.75" r="6.3" fill="#5C487C"/>
<circle cx="155.5" cy="162.25" r="6.3" fill="#8F4588"/>
<circle cx="265.75" cy="181" r="6.3" fill="#E8CF57"/>
<circle cx="222.5" cy="184.25" r="6.3" fill="#E8CF57"/>
<circle cx="306.5" cy="185.5" r="10.3" fill="#B7D5E8" stroke="#fff" stroke-width="0.7"/>
<circle cx="314.5" cy="186.75" r="5.3" fill="#B7D5E8" stroke="#fff" stroke-width="0.7"/>
<circle cx="325" cy="184.75" r="6.3" fill="#5C487C"/>
<circle cx="333.75" cy="190.25" r="6.3" fill="#B7D5E8"/>
<circle cx="277" cy="188" r="7.3" fill="#B7D5E8" stroke="#fff" stroke-width="0.7"/>
<circle cx="234.5" cy="189.5" r="3.2" fill="#E8CF57"/>
<circle cx="243" cy="195" r="6.3" fill="#E8CF57"/>
<circle cx="263.75" cy="198.75" r="6.8" fill="#A8301C"/>
<circle cx="268" cy="208.75" r="6.3" fill="#E8CF57"/>
<circle cx="281.75" cy="219.25" r="6.3" fill="#E8CF57"/>
<circle cx="335" cy="211.5" r="2.7" fill="#A8301C"/>
<circle cx="148" cy="206.25" r="6.3" fill="#E8CF57"/>
<circle cx="135.25" cy="222" r="6.3" fill="#5C487C"/>
<circle cx="156.25" cy="220.5" r="6.3" fill="#5C487C"/>
<circle cx="179" cy="211.5" r="6.3" fill="#5C487C"/>
<circle cx="200.5" cy="203.25" r="2.7" fill="#E8CF57"/>
<circle cx="200.75" cy="210.25" r="3.7" fill="#E8CF57"/>
<circle cx="209.5" cy="212.75" r="6.3" fill="#E8CF57"/>
<circle cx="228.5" cy="217.5" r="6.3" fill="#D99BCB"/>
<circle cx="251.25" cy="218.5" r="2.7" fill="#5C487C"/>
<circle cx="211" cy="226.5" r="6.3" fill="#5C487C"/>
<circle cx="190.5" cy="233" r="6.3" fill="#5C487C"/>
<circle cx="162.25" cy="238.25" r="2.2" fill="#5C487C"/>
<circle cx="242" cy="235" r="6.3" fill="#5C487C"/>
<circle cx="255" cy="237.25" r="6.3" fill="#5C487C"/>
<circle cx="307.5" cy="239.75" r="6.3" fill="#E8CF57"/>
<circle cx="201.25" cy="275" r="18.3" fill="#E8CF57"/>
<circle cx="195.25" cy="258.25" r="19.3" fill="#E8CF57"/>
<circle cx="223" cy="252.5" r="6.3" fill="#5C487C"/>
<circle cx="251.25" cy="256.25" r="6.3" fill="#5C487C"/>
<circle cx="268.75" cy="267.25" r="4.8" fill="#A8301C"/>
<circle cx="309.5" cy="271" r="2.2" fill="#2F4F26"/>
<circle cx="123" cy="261.75" r="6.3" fill="#E8CF57"/>
<circle cx="142.5" cy="268.25" r="6.3" fill="#E8CF57"/>
<circle cx="159.25" cy="276" r="6.3" fill="#E8CF57"/>
<circle cx="176.25" cy="274.25" r="6.8" fill="#E8CF57"/>
<circle cx="152.5" cy="285.75" r="6.3" fill="#E8CF57"/>
<circle cx="169.25" cy="290" r="5.3" fill="#E8CF57"/>
<circle cx="152.5" cy="295.75" r="6.3" fill="#E8CF57"/>
<circle cx="166.75" cy="296.75" r="4.3" fill="#E8CF57"/>
<circle cx="198.75" cy="302" r="10.8" fill="#5C487C"/>
<circle cx="197" cy="292" r="6.8" fill="#E8CF57" stroke="#fff" stroke-width="0.7"/>
<circle cx="219.25" cy="280.5" r="6.3" fill="#5C487C"/>
<circle cx="229.25" cy="281.75" r="1.7" fill="#E8CF57"/>
<circle cx="210.25" cy="291.5" r="2.2" fill="#8F4588"/>
<circle cx="211.25" cy="300.5" r="1.7" fill="#E8CF57"/>
<circle cx="246.25" cy="285.25" r="6.3" fill="#2F4F26"/>
<circle cx="258" cy="294.25" r="6.3" fill="#5C487C"/>
<circle cx="287" cy="290" r="18.3" fill="#2F4F26"/>
<circle cx="352.5" cy="287.5" r="6.3" fill="#2F4F26"/>
<circle cx="352.75" cy="298.75" r="6.3" fill="#2F4F26"/>
<circle cx="119.75" cy="301.25" r="6.3" fill="#8F4588"/>
<circle cx="246.25" cy="305" r="6.3" fill="#E8CF57"/>
<circle cx="220.75" cy="311" r="6.3" fill="#E8CF57"/>
<circle cx="158" cy="313.5" r="6.3" fill="#E8CF57"/>
<circle cx="309.75" cy="314" r="6.3" fill="#2F4F26"/>
<circle cx="164.5" cy="313.75" r="2.7" fill="#E8CF57"/>
<circle cx="173" cy="320.25" r="4.8" fill="#E8CF57"/>
<circle cx="185" cy="316.25" r="6.3" fill="#E8CF57"/>
<circle cx="210.5" cy="318" r="5.3" fill="#5C487C"/>
<circle cx="227.5" cy="324" r="6.3" fill="#8F4588"/>
<circle cx="238.75" cy="324" r="6.3" fill="#5C487C"/>
<circle cx="254.5" cy="330" r="6.3" fill="#E8CF57"/>
<circle cx="193.75" cy="327" r="6.3" fill="#E8CF57"/>
<circle cx="156" cy="331.5" r="6.3" fill="#E8CF57"/>
<circle cx="166.5" cy="332.5" r="6.3" fill="#E8CF57"/>
<circle cx="174.5" cy="341" r="6.3" fill="#E8CF57"/>
<circle cx="186" cy="349.25" r="6.3" fill="#8F4588"/>
<circle cx="107.5" cy="337.75" r="6.3" fill="#E8CF57"/>
<circle cx="116.25" cy="336.25" r="6.3" fill="#E8CF57"/>
<circle cx="132" cy="344.5" r="6.3" fill="#5C487C"/>
<circle cx="126.75" cy="337.75" r="6.3" fill="#E8CF57"/>
<circle cx="119" cy="350" r="6.3" fill="#E8CF57"/>
<circle cx="100.75" cy="358" r="6.3" fill="#E8CF57"/>
<circle cx="69" cy="353.75" r="6.3" fill="#E8CF57"/>
<circle cx="78.75" cy="362" r="6.3" fill="#E8CF57"/>
<circle cx="91.75" cy="372.75" r="6.3" fill="#E8CF57"/>
<circle cx="63.75" cy="382.75" r="6.3" fill="#E8CF57"/>
<circle cx="27.25" cy="382.75" r="6.3" fill="#E8CF57"/>
<circle cx="155.5" cy="359" r="6.3" fill="#E8CF57"/>
<circle cx="209.5" cy="360" r="6.3" fill="#E8CF57"/>
<circle cx="246.25" cy="348.25" r="6.3" fill="#E8CF57"/>
<circle cx="196" cy="392.75" r="6.3" fill="#E8CF57"/>
<circle cx="259.5" cy="378.75" r="6.3" fill="#5C487C"/>
<circle cx="288.25" cy="330.75" r="6.3" fill="#E8CF57"/>
<circle cx="275" cy="339.25" r="6.3" fill="#2F4F26"/>
<circle cx="293.75" cy="354.5" r="6.3" fill="#E8CF57"/>
<circle cx="321.5" cy="320.25" r="7.8" fill="#E8CF57"/>
<circle cx="309.25" cy="347" r="2.2" fill="#E8CF57"/>
<circle cx="341.25" cy="352.25" r="2.7" fill="#2A2F6A"/>
<circle cx="361.5" cy="292.75" r="6.3" fill="#2F4F26"/>
<circle cx="363" cy="310" r="6.3" fill="#8F4588"/>
<circle cx="360.75" cy="328.25" r="6.3" fill="#2F4F26"/>
<circle cx="355.5" cy="336.25" r="6.3" fill="#2A2F6A"/>
<circle cx="375" cy="334.25" r="6.3" fill="#2A2F6A"/>
<circle cx="374.5" cy="347.25" r="6.3" fill="#2A2F6A"/>
<circle cx="360" cy="375" r="6.3" fill="#2A2F6A"/>
<circle cx="373.5" cy="374.25" r="6.3" fill="#2A2F6A"/>
<circle cx="414" cy="347" r="6.3" fill="#2A2F6A"/>
<circle cx="416.25" cy="375.75" r="6.3" fill="#664E84"/>
<circle cx="388" cy="317" r="6.3" fill="#A8301C"/>
<circle cx="409.5" cy="305.75" r="6.3" fill="#A8301C"/>
<circle cx="400.25" cy="299.5" r="6.3" fill="#2F4F26"/>
<circle cx="391" cy="294.5" r="4.3" fill="#2F4F26"/>
<circle cx="391.25" cy="309.25" r="3.2" fill="#2F4F26"/>
<circle cx="399.5" cy="315" r="1.7" fill="#2A2F6A"/>
<circle cx="423.75" cy="300.5" r="6.3" fill="#2A2F6A"/>
<circle cx="422.5" cy="291.75" r="6.3" fill="#2A2F6A"/>
<circle cx="446.5" cy="291.25" r="6.3" fill="#2F4F26"/>
<circle cx="379.5" cy="289.5" r="9.3" fill="#2F4F26"/>
<circle cx="410" cy="296.5" r="2.7" fill="#2A2F6A"/>
<circle cx="398.75" cy="290.5" r="2.7" fill="#2A2F6A"/>
<circle cx="390.5" cy="220.5" r="6.3" fill="#A8301C"/>
<circle cx="361.5" cy="234.25" r="3.7" fill="#A8301C"/>
<circle cx="428.5" cy="239.75" r="6.3" fill="#A8301C"/>
<circle cx="448.25" cy="249.5" r="6.3" fill="#A8301C"/>
<circle cx="463.5" cy="263.25" r="6.3" fill="#A8301C"/>
<circle cx="536.5" cy="252.5" r="6.3" fill="#2A2F6A"/>
<circle cx="538.5" cy="265.25" r="6.3" fill="#2A2F6A"/>
<circle cx="406.25" cy="254.25" r="3.7" fill="#A8301C"/>
<circle cx="369.25" cy="263.75" r="8.3" fill="#2F4F26" stroke="#fff" stroke-width="0.7"/>
<circle cx="375.5" cy="256.75" r="7.3" fill="#A8301C" stroke="#fff" stroke-width="0.7"/>
<circle cx="432.25" cy="258" r="6.3" fill="#2F4F26"/>
<circle cx="368" cy="271.25" r="6.3" fill="#2F4F26" stroke="#fff" stroke-width="0.7"/>
<circle cx="380" cy="276.25" r="8.3" fill="#B7D5E8" stroke="#fff" stroke-width="0.7"/>
<circle cx="418" cy="270.75" r="6.3" fill="#A8301C"/>
<circle cx="402.5" cy="274.5" r="5.3" fill="#A8301C" stroke="#fff" stroke-width="0.7"/>
<circle cx="409.5" cy="275" r="5.3" fill="#A8301C" stroke="#fff" stroke-width="0.7"/>
<circle cx="401.25" cy="282" r="7.3" fill="#A8301C" stroke="#fff" stroke-width="0.7"/>
<circle cx="450.5" cy="277.5" r="6.3" fill="#A8301C"/>
<circle cx="413.75" cy="287.5" r="6.3" fill="#2F4F26"/>
<circle cx="362.5" cy="303.2" r="2.7" fill="#2F4F26"/>
<circle cx="391.25" cy="309.4" r="3.2" fill="#2F4F26"/>
<circle cx="183.5" cy="285.25" r="1.7" fill="#E8CF57"/>
<circle cx="479.5" cy="365.25" r="6.3" fill="#2A2F6A"/>
<circle cx="538.75" cy="401.75" r="6.3" fill="#2A2F6A"/>
<circle cx="296" cy="294.25" r="6.8" fill="#2F4F26" stroke="#fff" stroke-width="0.7"/>
<circle cx="375.75" cy="295.25" r="2.7" fill="#2F4F26" stroke="#fff" stroke-width="0.7"/>
</g>
<g class="nodes" id="nodes-right">
<circle cx="750.75" cy="70.25" r="5.3" fill="#E8CF57"/>
<circle cx="730.5" cy="80.5" r="5.3" fill="#D99BCB"/>
<circle cx="716.5" cy="85.25" r="5.3" fill="#5C487C"/>
<circle cx="772.25" cy="123.5" r="5.3" fill="#E8CF57"/>
<circle cx="804.25" cy="123" r="5.3" fill="#E8CF57"/>
<circle cx="756" cy="136.75" r="5.3" fill="#5C487C"/>
<circle cx="733.25" cy="140.5" r="5.3" fill="#E8CF57"/>
<circle cx="709.5" cy="142" r="5.3" fill="#E8CF57"/>
<circle cx="702" cy="148.75" r="5.3" fill="#E8CF57"/>
<circle cx="774" cy="141" r="5.3" fill="#E8CF57"/>
<circle cx="746.25" cy="146.25" r="5.3" fill="#5C487C"/>
<circle cx="735" cy="150.5" r="5.3" fill="#D99BCB"/>
<circle cx="723" cy="154.5" r="5.3" fill="#5C487C"/>
<circle cx="764.25" cy="152.5" r="5.3" fill="#E8CF57"/>
<circle cx="781" cy="156.5" r="1.7" fill="#D99BCB"/>
<circle cx="776.5" cy="164" r="5.3" fill="#5C487C"/>
<circle cx="815.25" cy="141.75" r="5.3" fill="#B7D5E8"/>
<circle cx="796.25" cy="157" r="6.8" fill="#B7D5E8" stroke="#fff" stroke-width="0.7"/>
<circle cx="793.75" cy="171.25" r="6.3" fill="#B7D5E8" stroke="#fff" stroke-width="0.7"/>
<circle cx="813.25" cy="164.5" r="5.3" fill="#B7D5E8" stroke="#fff" stroke-width="0.7"/>
<circle cx="822.5" cy="163.75" r="8.3" fill="#B7D5E8" stroke="#fff" stroke-width="0.7"/>
<circle cx="806.6" cy="175" r="12.1" fill="#B7D5E8" stroke="#fff" stroke-width="0.7"/>
<circle cx="819.5" cy="170.75" r="4.3" fill="#B7D5E8" stroke="#fff" stroke-width="0.7"/>
<circle cx="817" cy="180.5" r="6.3" fill="#B7D5E8" stroke="#fff" stroke-width="0.7"/>
<circle cx="762" cy="171.75" r="1.7" fill="#5C487C"/>
<circle cx="725.75" cy="175.75" r="5.3" fill="#E8CF57"/>
<circle cx="765.5" cy="178.25" r="5.3" fill="#E8CF57"/>
<circle cx="733.25" cy="182" r="5.3" fill="#8F4588"/>
<circle cx="754.25" cy="182.25" r="2.7" fill="#D99BCB"/>
<circle cx="719" cy="187.5" r="5.3" fill="#8F4588"/>
<circle cx="741.5" cy="187.25" r="5.3" fill="#5C487C"/>
<circle cx="859.25" cy="125" r="5.3" fill="#8F4588"/>
<circle cx="868.5" cy="126.75" r="5.3" fill="#A8301C"/>
<circle cx="872.75" cy="134.75" r="5.3" fill="#A8301C"/>
<circle cx="868.75" cy="169.5" r="1.7" fill="#A8301C"/>
<circle cx="739.75" cy="197.25" r="5.3" fill="#E8CF57"/>
<circle cx="754.75" cy="198" r="5.3" fill="#E8CF57"/>
<circle cx="702" cy="202.5" r="5.3" fill="#E8CF57"/>
<circle cx="713" cy="201.5" r="5.3" fill="#5C487C"/>
<circle cx="693" cy="216.5" r="5.3" fill="#5C487C"/>
<circle cx="760.75" cy="213.5" r="5.3" fill="#E8CF57"/>
<circle cx="774.25" cy="208.25" r="1.7" fill="#A8301C"/>
<circle cx="792" cy="201" r="2.2" fill="#5C487C"/>
<circle cx="720.5" cy="225" r="5.3" fill="#E8CF57"/>
<circle cx="685.75" cy="233.25" r="5.3" fill="#E8CF57"/>
<circle cx="698.5" cy="236.25" r="5.3" fill="#5C487C"/>
<circle cx="716" cy="233.5" r="5.3" fill="#5C487C"/>
<circle cx="730.75" cy="235.25" r="5.3" fill="#E8CF57"/>
<circle cx="725.5" cy="238" r="2.2" fill="#E8CF57"/>
<circle cx="746.75" cy="229.5" r="5.3" fill="#5C487C"/>
<circle cx="766" cy="233.25" r="5.3" fill="#5C487C"/>
<circle cx="684" cy="241.75" r="5.3" fill="#8F4588"/>
<circle cx="720" cy="243.25" r="5.3" fill="#5C487C"/>
<circle cx="683.25" cy="252" r="5.3" fill="#5C487C"/>
<circle cx="765.75" cy="247.25" r="5.3" fill="#5C487C"/>
<circle cx="778" cy="248" r="5.3" fill="#5C487C"/>
<circle cx="756" cy="255" r="5.3" fill="#5C487C"/>
<circle cx="717" cy="259.75" r="5.3" fill="#5C487C"/>
<circle cx="634.5" cy="263" r="5.3" fill="#E8CF57"/>
<circle cx="672.75" cy="262" r="5.3" fill="#E8CF57"/>
<circle cx="673.5" cy="272.5" r="5.3" fill="#5C487C"/>
<circle cx="746.5" cy="265.25" r="1.7" fill="#8F4588"/>
<circle cx="720" cy="288" r="13.3" fill="#E8CF57"/>
<circle cx="727.5" cy="273.5" r="15.3" fill="#E8CF57"/>
<circle cx="802.5" cy="274.75" r="15.8" fill="#2F4F26"/>
<circle cx="673.5" cy="285" r="5.3" fill="#E8CF57"/>
<circle cx="641.25" cy="289.5" r="5.3" fill="#E8CF57"/>
<circle cx="694.4" cy="280" r="2.2" fill="#E8CF57"/>
<circle cx="700.6" cy="281.25" r="5.8" fill="#E8CF57" stroke="#fff" stroke-width="0.7"/>
<circle cx="698.4" cy="288" r="5.8" fill="#E8CF57" stroke="#fff" stroke-width="0.7"/>
<circle cx="706.5" cy="292.5" r="5.8" fill="#E8CF57" stroke="#fff" stroke-width="0.7"/>
<circle cx="711.9" cy="287.5" r="3.7" fill="#E8CF57" stroke="#fff" stroke-width="0.7"/>
<circle cx="719" cy="295.5" r="6.8" fill="#E8CF57" stroke="#fff" stroke-width="0.7"/>
<circle cx="743" cy="283.25" r="5.3" fill="#5C487C"/>
<circle cx="759.5" cy="286.75" r="5.3" fill="#8F4588"/>
<circle cx="781.5" cy="284" r="5.3" fill="#E8CF57"/>
<circle cx="682" cy="297.75" r="5.3" fill="#8F4588"/>
<circle cx="778" cy="298.25" r="1.7" fill="#2F4F26"/>
<circle cx="850" cy="200.5" r="4.3" fill="#B7D5E8"/>
<circle cx="850.5" cy="207.5" r="3.2" fill="#B7D5E8"/>
<circle cx="893.75" cy="227" r="5.3" fill="#A8301C"/>
<circle cx="931.75" cy="228.75" r="5.3" fill="#A8301C"/>
<circle cx="878" cy="230.5" r="1.7" fill="#A8301C"/>
<circle cx="889.25" cy="237.5" r="2.2" fill="#A8301C"/>
<circle cx="838" cy="243.75" r="5.3" fill="#2F4F26"/>
<circle cx="871" cy="250.75" r="2.7" fill="#A8301C"/>
<circle cx="892" cy="256.25" r="3.7" fill="#B7D5E8"/>
<circle cx="914.75" cy="260.75" r="5.3" fill="#A8301C"/>
<circle cx="908" cy="265.5" r="2.2" fill="#A8301C"/>
<circle cx="952.5" cy="270" r="5.3" fill="#2F4F26"/>
<circle cx="827.5" cy="278" r="5.3" fill="#2F4F26"/>
<circle cx="847.25" cy="276.25" r="5.3" fill="#8F4588"/>
<circle cx="838.75" cy="285.5" r="5.3" fill="#2F4F26"/>
<circle cx="858" cy="287" r="5.3" fill="#2F4F26"/>
<circle cx="876.25" cy="273.25" r="1.7" fill="#2F4F26"/>
<circle cx="873" cy="283" r="5.3" fill="#2F4F26"/>
<circle cx="885" cy="279.5" r="7.8" fill="#2F4F26"/>
<circle cx="884" cy="290.5" r="8.3" fill="#2F4F26"/>
<circle cx="903" cy="273.25" r="2.7" fill="#A8301C"/>
<circle cx="895" cy="277.5" r="2.7" fill="#A8301C"/>
<circle cx="916.5" cy="275" r="5.3" fill="#2F4F26"/>
<circle cx="910" cy="285" r="5.3" fill="#2F4F26"/>
<circle cx="922.25" cy="283" r="5.3" fill="#2A2F6A"/>
<circle cx="893.75" cy="293" r="5.3" fill="#2A2F6A"/>
<circle cx="918" cy="293.25" r="5.3" fill="#2F4F26"/>
<circle cx="928.75" cy="293" r="5.3" fill="#2A2F6A"/>
<circle cx="906" cy="292.25" r="1.7" fill="#2A2F6A"/>
<circle cx="903" cy="283.75" r="2.2" fill="#2F4F26"/>
<circle cx="899.25" cy="287" r="1.7" fill="#2F4F26"/>
<circle cx="943" cy="288.5" r="5.3" fill="#A8301C"/>
<circle cx="1008.5" cy="283" r="5.3" fill="#A8301C"/>
<circle cx="1008.5" cy="296.5" r="5.3" fill="#2A2F6A"/>
<circle cx="854.25" cy="299.5" r="5.3" fill="#2F4F26"/>
<circle cx="874.25" cy="303" r="5.3" fill="#2F4F26"/>
<circle cx="893" cy="305" r="2.7" fill="#2F4F26"/>
<circle cx="906.75" cy="307" r="5.3" fill="#2F4F26"/>
<circle cx="916.5" cy="304.25" r="5.3" fill="#2A2F6A"/>
<circle cx="1006" cy="307.5" r="5.3" fill="#2A2F6A"/>
<circle cx="938" cy="313.25" r="5.3" fill="#2A2F6A"/>
<circle cx="935.75" cy="329.25" r="5.3" fill="#2A2F6A"/>
<circle cx="950.25" cy="327.5" r="5.3" fill="#2A2F6A"/>
<circle cx="877.5" cy="330" r="5.3" fill="#2F4F26"/>
<circle cx="891.75" cy="333.75" r="5.3" fill="#2A2F6A"/>
<circle cx="891.75" cy="341.75" r="5.3" fill="#2A2F6A"/>
<circle cx="871" cy="341.75" r="5.3" fill="#2A2F6A"/>
<circle cx="863.25" cy="345" r="2.2" fill="#2A2F6A"/>
<circle cx="832.5" cy="333.25" r="5.3" fill="#E8CF57"/>
<circle cx="830.5" cy="345" r="5.3" fill="#E8CF57"/>
<circle cx="788.5" cy="342.5" r="5.3" fill="#E8CF57"/>
<circle cx="790.5" cy="312.75" r="5.3" fill="#2F4F26"/>
<circle cx="817.5" cy="320.5" r="5.3" fill="#2A2F6A"/>
<circle cx="850" cy="374" r="5.3" fill="#E8CF57"/>
<circle cx="855.25" cy="387.5" r="5.3" fill="#2A2F6A"/>
<circle cx="870.5" cy="380.5" r="5.3" fill="#A8301C"/>
<circle cx="879.75" cy="381" r="5.3" fill="#A8301C"/>
<circle cx="880.5" cy="369.75" r="5.3" fill="#2A2F6A"/>
<circle cx="903.5" cy="372.75" r="5.3" fill="#2A2F6A"/>
<circle cx="676.75" cy="303.75" r="5.3" fill="#E8CF57"/>
<circle cx="658" cy="311.5" r="5.3" fill="#E8CF57"/>
<circle cx="686.75" cy="312.75" r="5.3" fill="#E8CF57"/>
<circle cx="693.75" cy="317.5" r="5.3" fill="#E8CF57"/>
<circle cx="702" cy="315.25" r="5.3" fill="#E8CF57"/>
<circle cx="715.5" cy="311.25" r="5.3" fill="#E8CF57"/>
<circle cx="705.75" cy="302" r="3.2" fill="#E8CF57"/>
<circle cx="711" cy="320" r="2.2" fill="#E8CF57"/>
<circle cx="706" cy="326.75" r="1.7" fill="#E8CF57"/>
<circle cx="693" cy="326.5" r="5.3" fill="#E8CF57"/>
<circle cx="674.5" cy="331.5" r="5.3" fill="#E8CF57"/>
<circle cx="702.5" cy="337.25" r="5.3" fill="#E8CF57"/>
<circle cx="726.25" cy="323.5" r="5.3" fill="#E8CF57"/>
<circle cx="739.25" cy="324.5" r="6.3" fill="#5C487C"/>
<circle cx="743.25" cy="305" r="5.3" fill="#E8CF57"/>
<circle cx="745.75" cy="312" r="2.2" fill="#E8CF57"/>
<circle cx="754.25" cy="316" r="3.7" fill="#E8CF57"/>
<circle cx="761" cy="325.5" r="5.3" fill="#E8CF57"/>
<circle cx="724.75" cy="345" r="5.3" fill="#E8CF57"/>
<circle cx="681" cy="346.25" r="5.3" fill="#E8CF57"/>
<circle cx="692.5" cy="353" r="5.3" fill="#5C487C"/>
<circle cx="710.75" cy="357.75" r="2.2" fill="#5C487C"/>
<circle cx="670.25" cy="353.25" r="5.3" fill="#E8CF57"/>
<circle cx="655" cy="356.5" r="5.3" fill="#E8CF57"/>
<circle cx="670.75" cy="361.5" r="5.3" fill="#E8CF57"/>
<circle cx="688" cy="361.5" r="5.3" fill="#E8CF57"/>
<circle cx="675.75" cy="367.5" r="5.3" fill="#E8CF57"/>
<circle cx="736.75" cy="360.5" r="5.3" fill="#E8CF57"/>
<circle cx="618" cy="369.25" r="5.3" fill="#E8CF57"/>
<circle cx="640.75" cy="375" r="5.3" fill="#E8CF57"/>
<circle cx="713.25" cy="372.5" r="5.3" fill="#E8CF57"/>
<circle cx="701.75" cy="380.5" r="5.3" fill="#E8CF57"/>
<circle cx="729" cy="386.25" r="5.3" fill="#5C487C"/>
<circle cx="719.25" cy="389.5" r="5.3" fill="#E8CF57"/>
<circle cx="742.5" cy="396" r="5.3" fill="#E8CF57"/>
<circle cx="623" cy="396" r="5.3" fill="#E8CF57"/>
<circle cx="770.5" cy="181.5" r="2.7" fill="#B7D5E8"/>
<circle cx="729.25" cy="266" r="2.7" fill="#5C487C" stroke="#fff" stroke-width="0.7"/>
<circle cx="790.5" cy="266.5" r="1.7" fill="#A8301C"/>
<circle cx="811.25" cy="284.75" r="4.3" fill="#2F4F26" stroke="#fff" stroke-width="0.7"/>
</g>
<g id="leaders" opacity="0.85">
<line x1="106" y1="186.25" x2="272" y2="186.25" stroke="#B2D1E6" stroke-width="0.9"/>
<line x1="315" y1="175.25" x2="406" y2="175.25" stroke="#B2D1E6" stroke-width="0.9"/>
<line x1="429.4" y1="163.75" x2="429.4" y2="236" stroke="#B8503F" stroke-width="0.9"/>
<line x1="462.75" y1="204.25" x2="462.75" y2="259" stroke="#B8503F" stroke-width="0.9"/>
<line x1="285.5" y1="308" x2="285.5" y2="384.5" stroke="#4D6A45" stroke-width="0.9"/>
<line x1="320.5" y1="322" x2="320.5" y2="436.25" stroke="#E9D05C" stroke-width="0.9"/>
<line x1="370.5" y1="272" x2="370.5" y2="409.5" stroke="#4D6A45" stroke-width="0.9"/>
<line x1="660" y1="156.5" x2="792" y2="156.5" stroke="#B2D1E6" stroke-width="0.9"/>
<line x1="803.5" y1="113" x2="803.5" y2="165" stroke="#B2D1E6" stroke-width="0.9"/>
<line x1="869" y1="170.2" x2="908" y2="170.2" stroke="#B8503F" stroke-width="0.9"/>
<line x1="931.75" y1="204.5" x2="931.75" y2="226" stroke="#B8503F" stroke-width="0.9"/>
<line x1="799.25" y1="290" x2="799.25" y2="363.75" stroke="#4D6A45" stroke-width="0.9"/>
<line x1="692.4" y1="356" x2="692.4" y2="414.25" stroke="#8E7FAE" stroke-width="0.9"/>
<line x1="833" y1="348" x2="833" y2="406.75" stroke="#F0E29A" stroke-width="1.2"/>
<line x1="886.5" y1="298.5" x2="886.5" y2="408.75" stroke="#4D6A45" stroke-width="0.9"/>
<line x1="943.25" y1="291" x2="943.25" y2="367.5" stroke="#B8503F" stroke-width="0.9"/>

</g>
<g id="labels">
<text x="46.4" y="25.8" font-size="19.8" font-weight="bold" textLength="375.3" lengthAdjust="spacingAndGlyphs">Espacio de Educación Superior Chileno</text>
<text x="173.6" y="57.4" font-size="21.6" textLength="114" lengthAdjust="spacingAndGlyphs">[2006-2011]</text>
<text x="603.5" y="25.8" font-size="19.8" font-weight="bold" textLength="374.2" lengthAdjust="spacingAndGlyphs">Espacio de Educación Superior Chileno</text>
<text x="736.4" y="57.4" font-size="21.6" textLength="115.3" lengthAdjust="spacingAndGlyphs">[2012-2017]</text>
<text x="100.75" y="145.75" font-size="10.55" textLength="61.25" lengthAdjust="spacingAndGlyphs">Biochemistry</text>
<text x="99.5" y="184.5" font-size="10.55" textLength="42.5" lengthAdjust="spacingAndGlyphs">Medicine</text>
<text x="380.5" y="173" font-size="10.55" textLength="35.75" lengthAdjust="spacingAndGlyphs">Nursing</text>
<text x="432" y="170.75" font-size="10.55" textLength="25.75" lengthAdjust="spacingAndGlyphs">Moral</text>
<text x="432" y="183.75" font-size="10.55" textLength="37" lengthAdjust="spacingAndGlyphs">Religion</text>
<text x="465.5" y="212" font-size="10.55" textLength="27.75" lengthAdjust="spacingAndGlyphs">Music</text>
<text x="465.5" y="225" font-size="10.55" textLength="46.5" lengthAdjust="spacingAndGlyphs">Education</text>
<text x="32" y="277.5" font-size="10.55" textLength="78" lengthAdjust="spacingAndGlyphs">Civil Engineering</text>
<text x="262.5" y="397.5" font-size="10.55" textLength="46.75" lengthAdjust="spacingAndGlyphs">Comercial</text>
<text x="258.25" y="409.5" font-size="10.55" textLength="55" lengthAdjust="spacingAndGlyphs">Enginnering</text>
<text x="376.5" y="403.5" font-size="10.55" textLength="54" lengthAdjust="spacingAndGlyphs">Psychology</text>
<text x="327.5" y="433.75" font-size="10.55" textLength="56.5" lengthAdjust="spacingAndGlyphs">Architecture</text>
<text x="643" y="155.75" font-size="10.55" textLength="42" lengthAdjust="spacingAndGlyphs">Medicine</text>
<text x="785.5" y="108" font-size="10.55" textLength="35.75" lengthAdjust="spacingAndGlyphs">Nursing</text>
<text x="877.25" y="169" font-size="10.55" textLength="80.75" lengthAdjust="spacingAndGlyphs">Sports Education</text>
<text x="936.75" y="201.75" font-size="10.55" textLength="25.75" lengthAdjust="spacingAndGlyphs">Moral</text>
<text x="936.75" y="213.75" font-size="10.55" textLength="37" lengthAdjust="spacingAndGlyphs">Religion</text>
<text x="542.5" y="287.5" font-size="10.55" textLength="85.75" lengthAdjust="spacingAndGlyphs">Civil and Industrial</text>
<text x="573.25" y="300" font-size="10.55" textLength="55" lengthAdjust="spacingAndGlyphs">Engineering</text>
<text x="776.25" y="378" font-size="10.55" textLength="46.75" lengthAdjust="spacingAndGlyphs">Comercial</text>
<text x="772" y="389.5" font-size="10.55" textLength="55" lengthAdjust="spacingAndGlyphs">Enginnering</text>
<text x="892.5" y="403.75" font-size="10.55" textLength="54.25" lengthAdjust="spacingAndGlyphs">Psychology</text>
<text x="946" y="352" font-size="10.55" textLength="27.5" lengthAdjust="spacingAndGlyphs">Music</text>
<text x="946" y="364.5" font-size="10.55" textLength="46.5" lengthAdjust="spacingAndGlyphs">Education</text>
<text x="805" y="421" font-size="10.55" textLength="56.25" lengthAdjust="spacingAndGlyphs">Architecture</text>
<text x="618" y="425.75" font-size="10.55" textLength="149" lengthAdjust="spacingAndGlyphs">Information Systems Technician</text>
</g>
<g id="legend">
<rect x="12" y="444.2" width="1002.7" height="81.2" fill="#fff" stroke="#555" stroke-width="1.4"/>
<text x="22" y="474.5" font-size="13.9" font-weight="bold" textLength="137" lengthAdjust="spacingAndGlyphs">ISCED Classification</text>
<rect x="176" y="458.5" width="19" height="19" fill="#2A2F6A"/>
<text x="199.5" y="473.9" font-size="15.1" textLength="120" lengthAdjust="spacingAndGlyphs" stroke="#000" stroke-width="0.4">Arts and Humanities</text>
<rect x="332.7" y="458.5" width="19" height="19" fill="#D99BCB"/>
<text x="355.3" y="473.9" font-size="15.1" textLength="64.7" lengthAdjust="spacingAndGlyphs" stroke="#000" stroke-width="0.4">Agriculture</text>
<rect x="431.2" y="458.5" width="19" height="19" fill="#2F4F26"/>
<text x="454.3" y="473.9" font-size="15.1" textLength="90" lengthAdjust="spacingAndGlyphs" stroke="#000" stroke-width="0.4">Social Sciences</text>
<rect x="59" y="486.0" width="19" height="19" fill="#A8301C"/>
<text x="83" y="500.9" font-size="15.1" textLength="56.5" lengthAdjust="spacingAndGlyphs" stroke="#000" stroke-width="0.4">Education</text>
<rect x="152.4" y="486.0" width="19" height="19" fill="#5C487C"/>
<text x="176" y="500.9" font-size="15.1" textLength="51.7" lengthAdjust="spacingAndGlyphs" stroke="#000" stroke-width="0.4">Sciences</text>
<rect x="244" y="486.0" width="19" height="19" fill="#8F4588"/>
<text x="266" y="500.9" font-size="15.1" textLength="49.7" lengthAdjust="spacingAndGlyphs" stroke="#000" stroke-width="0.4">Services</text>
<rect x="328.3" y="485.2" width="19" height="19" fill="#E8CF57"/>
<text x="350.6" y="500.29999999999995" font-size="15.1" textLength="70.6" lengthAdjust="spacingAndGlyphs" stroke="#000" stroke-width="0.4">Engineering</text>
<rect x="433" y="485.2" width="19" height="19" fill="#B7D5E8"/>
<text x="455.2" y="500.29999999999995" font-size="15.1" textLength="37.5" lengthAdjust="spacingAndGlyphs" stroke="#000" stroke-width="0.4">Health</text>
<text x="567" y="490.75" font-size="13.9" font-weight="bold" textLength="86.25" lengthAdjust="spacingAndGlyphs">Links Weight</text>
<text x="709.25" y="471.75" font-size="12.3" textLength="37" lengthAdjust="spacingAndGlyphs">t-value</text>
<defs><linearGradient id="tg" x1="0" y1="0" x2="1" y2="0"><stop offset="0" stop-color="#fff"/><stop offset="1" stop-color="#333"/></linearGradient></defs>
<polygon points="673.75,490 773.25,490 773.25,479.5" fill="url(#tg)"/>
<text x="675" y="501.75" font-size="9.8" textLength="15.75" lengthAdjust="spacingAndGlyphs">min</text>
<text x="762.5" y="501.75" font-size="9.8" textLength="18.5" lengthAdjust="spacingAndGlyphs">max</text>
<rect x="794.8" y="479.6" width="1.9" height="11.6" fill="#000"/>
<text x="801.75" y="491" font-size="13.9" font-weight="bold" textLength="66.25" lengthAdjust="spacingAndGlyphs">Node Size</text>
<text x="901.75" y="466.75" font-size="12.3" textLength="82.75" lengthAdjust="spacingAndGlyphs"># Observations</text>
<circle cx="895.25" cy="487.59999999999997" r="2.6" fill="#000"/>
<circle cx="903" cy="486.45" r="3.75" fill="#000"/>
<circle cx="913" cy="484.95" r="5.25" fill="#000"/>
<circle cx="925.25" cy="483.45" r="6.75" fill="#000"/>
<circle cx="940.5" cy="482.2" r="8" fill="#000"/>
<circle cx="958.5" cy="480.95" r="9.25" fill="#000"/>
<circle cx="978.75" cy="479.7" r="10.5" fill="#000"/>
<line x1="893" y1="490.3" x2="992" y2="490.3" stroke="#000" stroke-width="0.8"/>
<polygon points="990.5,488.6 995,490.3 990.5,492" fill="#000"/>
<text x="886.75" y="502.25" font-size="9.8" textLength="15.5" lengthAdjust="spacingAndGlyphs">min</text>
<text x="977.5" y="502.25" font-size="9.8" textLength="18.5" lengthAdjust="spacingAndGlyphs">max</text>
</g>

</svg>
</body></html>
